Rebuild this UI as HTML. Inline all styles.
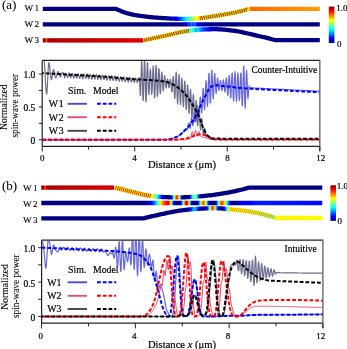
<!DOCTYPE html>
<html><head><meta charset="utf-8"><style>html,body{margin:0;padding:0;background:#fff;}svg{display:block;}</style></head>
<body><svg width="347" height="349" viewBox="0 0 347 349" style="will-change:transform"><style>text{stroke:#000;stroke-width:.2px}</style><defs><linearGradient id="wg1" gradientUnits="userSpaceOnUse" x1="42.8" y1="0" x2="320.5" y2="0"><stop offset="0.0000" stop-color="#000080"/><stop offset="0.3583" stop-color="#000080"/><stop offset="0.3601" stop-color="#000081"/><stop offset="0.4249" stop-color="#000081"/><stop offset="0.4267" stop-color="#000082"/><stop offset="0.4285" stop-color="#000082"/><stop offset="0.4303" stop-color="#000083"/><stop offset="0.4321" stop-color="#000083"/><stop offset="0.4339" stop-color="#000084"/><stop offset="0.4357" stop-color="#000086"/><stop offset="0.4375" stop-color="#000087"/><stop offset="0.4393" stop-color="#000089"/><stop offset="0.4411" stop-color="#00008b"/><stop offset="0.4429" stop-color="#00008d"/><stop offset="0.4447" stop-color="#00008f"/><stop offset="0.4465" stop-color="#000092"/><stop offset="0.4483" stop-color="#000094"/><stop offset="0.4501" stop-color="#000097"/><stop offset="0.4519" stop-color="#00009b"/><stop offset="0.4537" stop-color="#00009e"/><stop offset="0.4555" stop-color="#0000a1"/><stop offset="0.4573" stop-color="#0000a5"/><stop offset="0.4591" stop-color="#0000a9"/><stop offset="0.4609" stop-color="#0000ad"/><stop offset="0.4627" stop-color="#0000b2"/><stop offset="0.4645" stop-color="#0000b7"/><stop offset="0.4663" stop-color="#0000bb"/><stop offset="0.4681" stop-color="#0000c1"/><stop offset="0.4699" stop-color="#0000c6"/><stop offset="0.4717" stop-color="#0000cc"/><stop offset="0.4735" stop-color="#0000d3"/><stop offset="0.4753" stop-color="#0000db"/><stop offset="0.4771" stop-color="#0000e4"/><stop offset="0.4789" stop-color="#0000ed"/><stop offset="0.4807" stop-color="#0000f7"/><stop offset="0.4825" stop-color="#0002ff"/><stop offset="0.4843" stop-color="#000dff"/><stop offset="0.4861" stop-color="#0018ff"/><stop offset="0.4879" stop-color="#0024ff"/><stop offset="0.4897" stop-color="#0030ff"/><stop offset="0.4915" stop-color="#003cff"/><stop offset="0.4933" stop-color="#0048ff"/><stop offset="0.4951" stop-color="#0055ff"/><stop offset="0.4969" stop-color="#0062ff"/><stop offset="0.4987" stop-color="#006eff"/><stop offset="0.5005" stop-color="#007bff"/><stop offset="0.5023" stop-color="#0088ff"/><stop offset="0.5041" stop-color="#0096ff"/><stop offset="0.5059" stop-color="#00a3ff"/><stop offset="0.5077" stop-color="#00b1ff"/><stop offset="0.5095" stop-color="#00beff"/><stop offset="0.5113" stop-color="#00ccff"/><stop offset="0.5131" stop-color="#00d9ff"/><stop offset="0.5149" stop-color="#00e7ff"/><stop offset="0.5167" stop-color="#00f4ff"/><stop offset="0.5185" stop-color="#03fffc"/><stop offset="0.5203" stop-color="#10ffef"/><stop offset="0.5221" stop-color="#1dffe2"/><stop offset="0.5239" stop-color="#29ffd6"/><stop offset="0.5257" stop-color="#36ffc9"/><stop offset="0.5275" stop-color="#42ffbd"/><stop offset="0.5293" stop-color="#4effb1"/><stop offset="0.5311" stop-color="#5bffa4"/><stop offset="0.5329" stop-color="#67ff98"/><stop offset="0.5347" stop-color="#74ff8b"/><stop offset="0.5366" stop-color="#80ff7f"/><stop offset="0.5384" stop-color="#8dff72"/><stop offset="0.5402" stop-color="#99ff66"/><stop offset="0.5420" stop-color="#a7ff58"/><stop offset="0.5438" stop-color="#b4ff4b"/><stop offset="0.5456" stop-color="#c1ff3e"/><stop offset="0.5474" stop-color="#cfff30"/><stop offset="0.5492" stop-color="#dcff23"/><stop offset="0.5510" stop-color="#e9ff16"/><stop offset="0.5528" stop-color="#f5ff0a"/><stop offset="0.5546" stop-color="#fffc00"/><stop offset="0.5564" stop-color="#fff100"/><stop offset="0.5582" stop-color="#ffe600"/><stop offset="0.5600" stop-color="#ffda00"/><stop offset="0.5618" stop-color="#ffcf00"/><stop offset="0.5636" stop-color="#ffc400"/><stop offset="0.5654" stop-color="#ffb900"/><stop offset="0.5672" stop-color="#ffaf00"/><stop offset="0.5690" stop-color="#ffa400"/><stop offset="0.5708" stop-color="#fff000"/><stop offset="0.7436" stop-color="#fff000"/><stop offset="0.7454" stop-color="#ff6800"/><stop offset="0.7472" stop-color="#ff6900"/><stop offset="0.7508" stop-color="#ff6900"/><stop offset="0.7526" stop-color="#ff6a00"/><stop offset="0.7544" stop-color="#ff6a00"/><stop offset="0.7562" stop-color="#ff6b00"/><stop offset="0.7598" stop-color="#ff6b00"/><stop offset="0.7616" stop-color="#ff6c00"/><stop offset="0.7634" stop-color="#ff6c00"/><stop offset="0.7652" stop-color="#ff6d00"/><stop offset="0.7688" stop-color="#ff6d00"/><stop offset="0.7706" stop-color="#ff6e00"/><stop offset="0.7724" stop-color="#ff6e00"/><stop offset="0.7742" stop-color="#ff6f00"/><stop offset="0.7778" stop-color="#ff6f00"/><stop offset="0.7796" stop-color="#ff7000"/><stop offset="0.7832" stop-color="#ff7000"/><stop offset="0.7850" stop-color="#ff7100"/><stop offset="0.7886" stop-color="#ff7100"/><stop offset="0.7904" stop-color="#ff7200"/><stop offset="0.7922" stop-color="#ff7200"/><stop offset="0.7940" stop-color="#ff7300"/><stop offset="0.7976" stop-color="#ff7300"/><stop offset="0.7994" stop-color="#ff7400"/><stop offset="0.8030" stop-color="#ff7400"/><stop offset="0.8048" stop-color="#ff7500"/><stop offset="0.8066" stop-color="#ff7500"/><stop offset="0.8084" stop-color="#ff7600"/><stop offset="0.8120" stop-color="#ff7600"/><stop offset="0.8138" stop-color="#ff7700"/><stop offset="0.8156" stop-color="#ff7700"/><stop offset="0.8174" stop-color="#ff7800"/><stop offset="0.8210" stop-color="#ff7800"/><stop offset="0.8228" stop-color="#ff7900"/><stop offset="0.8246" stop-color="#ff7900"/><stop offset="0.8264" stop-color="#ff7a00"/><stop offset="0.8300" stop-color="#ff7a00"/><stop offset="0.8318" stop-color="#ff7b00"/><stop offset="0.8336" stop-color="#ff7b00"/><stop offset="0.8354" stop-color="#ff7c00"/><stop offset="0.8390" stop-color="#ff7c00"/><stop offset="0.8408" stop-color="#ff7d00"/><stop offset="0.8426" stop-color="#ff7d00"/><stop offset="0.8444" stop-color="#ff7e00"/><stop offset="0.8480" stop-color="#ff7e00"/><stop offset="0.8498" stop-color="#ff7f00"/><stop offset="0.8516" stop-color="#ff7f00"/><stop offset="0.8534" stop-color="#ff8000"/><stop offset="0.8570" stop-color="#ff8000"/><stop offset="0.8588" stop-color="#ff8100"/><stop offset="0.8606" stop-color="#ff8100"/><stop offset="0.8624" stop-color="#ff8200"/><stop offset="0.8660" stop-color="#ff8200"/><stop offset="0.8678" stop-color="#ff8300"/><stop offset="0.8696" stop-color="#ff8300"/><stop offset="0.8714" stop-color="#ff8400"/><stop offset="0.8750" stop-color="#ff8400"/><stop offset="0.8768" stop-color="#ff8500"/><stop offset="0.8786" stop-color="#ff8500"/><stop offset="0.8804" stop-color="#ff8600"/><stop offset="0.8840" stop-color="#ff8600"/><stop offset="0.8858" stop-color="#ff8700"/><stop offset="0.8894" stop-color="#ff8700"/><stop offset="0.8912" stop-color="#ff8800"/><stop offset="0.8931" stop-color="#ff8800"/><stop offset="0.8949" stop-color="#ff8900"/><stop offset="0.8985" stop-color="#ff8900"/><stop offset="0.9003" stop-color="#ff8a00"/><stop offset="0.9021" stop-color="#ff8a00"/><stop offset="0.9039" stop-color="#ff8b00"/><stop offset="0.9075" stop-color="#ff8b00"/><stop offset="0.9093" stop-color="#ff8c00"/><stop offset="0.9129" stop-color="#ff8c00"/><stop offset="0.9147" stop-color="#ff8d00"/><stop offset="0.9165" stop-color="#ff8d00"/><stop offset="0.9183" stop-color="#ff8e00"/><stop offset="0.9219" stop-color="#ff8e00"/><stop offset="0.9237" stop-color="#ff8f00"/><stop offset="0.9273" stop-color="#ff8f00"/><stop offset="0.9291" stop-color="#ff9000"/><stop offset="0.9309" stop-color="#ff9000"/><stop offset="0.9327" stop-color="#ff9100"/><stop offset="0.9363" stop-color="#ff9100"/><stop offset="0.9381" stop-color="#ff9200"/><stop offset="0.9417" stop-color="#ff9200"/><stop offset="0.9435" stop-color="#ff9300"/><stop offset="0.9471" stop-color="#ff9300"/><stop offset="0.9489" stop-color="#ff9400"/><stop offset="0.9507" stop-color="#ff9400"/><stop offset="0.9525" stop-color="#ff9500"/><stop offset="0.9561" stop-color="#ff9500"/><stop offset="0.9579" stop-color="#ff9600"/><stop offset="0.9615" stop-color="#ff9600"/><stop offset="0.9633" stop-color="#ff9700"/><stop offset="0.9669" stop-color="#ff9700"/><stop offset="0.9687" stop-color="#ff9800"/><stop offset="0.9723" stop-color="#ff9800"/><stop offset="0.9741" stop-color="#ff9900"/><stop offset="0.9777" stop-color="#ff9900"/><stop offset="0.9795" stop-color="#ff9a00"/><stop offset="0.9831" stop-color="#ff9a00"/><stop offset="0.9849" stop-color="#ff9b00"/><stop offset="0.9993" stop-color="#ff9b00"/></linearGradient><linearGradient id="wg2" gradientUnits="userSpaceOnUse" x1="42.8" y1="0" x2="320.5" y2="0"><stop offset="0.0000" stop-color="#000080"/><stop offset="0.4231" stop-color="#000080"/><stop offset="0.4249" stop-color="#000081"/><stop offset="0.4807" stop-color="#000081"/><stop offset="0.4825" stop-color="#000082"/><stop offset="0.4879" stop-color="#000082"/><stop offset="0.4897" stop-color="#000083"/><stop offset="0.4915" stop-color="#000084"/><stop offset="0.4933" stop-color="#000085"/><stop offset="0.4951" stop-color="#000086"/><stop offset="0.4969" stop-color="#000087"/><stop offset="0.4987" stop-color="#000089"/><stop offset="0.5005" stop-color="#00008b"/><stop offset="0.5023" stop-color="#00008e"/><stop offset="0.5041" stop-color="#000091"/><stop offset="0.5059" stop-color="#000096"/><stop offset="0.5077" stop-color="#00009b"/><stop offset="0.5095" stop-color="#0000a1"/><stop offset="0.5113" stop-color="#0000a8"/><stop offset="0.5131" stop-color="#0000af"/><stop offset="0.5149" stop-color="#0000b8"/><stop offset="0.5167" stop-color="#0000c2"/><stop offset="0.5185" stop-color="#0000d4"/><stop offset="0.5203" stop-color="#0002ff"/><stop offset="0.5221" stop-color="#0034ff"/><stop offset="0.5239" stop-color="#004fff"/><stop offset="0.5257" stop-color="#0043ff"/><stop offset="0.5275" stop-color="#0023ff"/><stop offset="0.5293" stop-color="#0010ff"/><stop offset="0.5311" stop-color="#0026ff"/><stop offset="0.5329" stop-color="#0058ff"/><stop offset="0.5347" stop-color="#0083ff"/><stop offset="0.5366" stop-color="#0082ff"/><stop offset="0.5384" stop-color="#005dff"/><stop offset="0.5402" stop-color="#0037ff"/><stop offset="0.5420" stop-color="#0032ff"/><stop offset="0.5438" stop-color="#0053ff"/><stop offset="0.5456" stop-color="#0076ff"/><stop offset="0.5474" stop-color="#0079ff"/><stop offset="0.5492" stop-color="#005cff"/><stop offset="0.5510" stop-color="#0037ff"/><stop offset="0.5528" stop-color="#001dff"/><stop offset="0.5546" stop-color="#0011ff"/><stop offset="0.5564" stop-color="#0005ff"/><stop offset="0.5582" stop-color="#0000f9"/><stop offset="0.5600" stop-color="#0000ef"/><stop offset="0.5618" stop-color="#0000e5"/><stop offset="0.5636" stop-color="#0000dc"/><stop offset="0.5654" stop-color="#0000d3"/><stop offset="0.5672" stop-color="#0000cb"/><stop offset="0.5690" stop-color="#0000c3"/><stop offset="0.5708" stop-color="#0000bb"/><stop offset="0.5726" stop-color="#0000b4"/><stop offset="0.5744" stop-color="#0000ad"/><stop offset="0.5762" stop-color="#0000a7"/><stop offset="0.5780" stop-color="#0000a2"/><stop offset="0.5798" stop-color="#00009d"/><stop offset="0.5816" stop-color="#000098"/><stop offset="0.5834" stop-color="#000094"/><stop offset="0.5852" stop-color="#000091"/><stop offset="0.5870" stop-color="#00008e"/><stop offset="0.5888" stop-color="#00008b"/><stop offset="0.5906" stop-color="#000089"/><stop offset="0.5924" stop-color="#000088"/><stop offset="0.5942" stop-color="#000087"/><stop offset="0.5960" stop-color="#000087"/><stop offset="0.5978" stop-color="#000086"/><stop offset="0.6068" stop-color="#000086"/><stop offset="0.6086" stop-color="#000085"/><stop offset="0.6572" stop-color="#000085"/><stop offset="0.6590" stop-color="#000084"/><stop offset="0.7346" stop-color="#000084"/><stop offset="0.7364" stop-color="#000083"/><stop offset="0.9993" stop-color="#000083"/></linearGradient><linearGradient id="wg3" gradientUnits="userSpaceOnUse" x1="42.8" y1="0" x2="320.5" y2="0"><stop offset="0.0000" stop-color="#810000"/><stop offset="0.0018" stop-color="#880000"/><stop offset="0.0036" stop-color="#920000"/><stop offset="0.0054" stop-color="#9f0000"/><stop offset="0.0072" stop-color="#b20000"/><stop offset="0.0090" stop-color="#e30000"/><stop offset="0.0108" stop-color="#ff1f00"/><stop offset="0.0126" stop-color="#ff4800"/><stop offset="0.0144" stop-color="#ff4200"/><stop offset="0.0162" stop-color="#ff1100"/><stop offset="0.0180" stop-color="#d10000"/><stop offset="0.0198" stop-color="#a40000"/><stop offset="0.0216" stop-color="#9c0000"/><stop offset="0.0234" stop-color="#990000"/><stop offset="0.0252" stop-color="#960000"/><stop offset="0.0270" stop-color="#950000"/><stop offset="0.0288" stop-color="#940000"/><stop offset="0.0432" stop-color="#940000"/><stop offset="0.0450" stop-color="#8f0000"/><stop offset="0.0468" stop-color="#8f0000"/><stop offset="0.0486" stop-color="#900000"/><stop offset="0.0504" stop-color="#900000"/><stop offset="0.0522" stop-color="#910000"/><stop offset="0.0558" stop-color="#910000"/><stop offset="0.0576" stop-color="#920000"/><stop offset="0.0594" stop-color="#920000"/><stop offset="0.0612" stop-color="#930000"/><stop offset="0.0630" stop-color="#930000"/><stop offset="0.0648" stop-color="#940000"/><stop offset="0.0684" stop-color="#940000"/><stop offset="0.0702" stop-color="#950000"/><stop offset="0.0720" stop-color="#950000"/><stop offset="0.0738" stop-color="#960000"/><stop offset="0.0774" stop-color="#960000"/><stop offset="0.0792" stop-color="#970000"/><stop offset="0.0810" stop-color="#970000"/><stop offset="0.0828" stop-color="#980000"/><stop offset="0.0864" stop-color="#980000"/><stop offset="0.0882" stop-color="#990000"/><stop offset="0.0900" stop-color="#990000"/><stop offset="0.0918" stop-color="#9a0000"/><stop offset="0.0954" stop-color="#9a0000"/><stop offset="0.0972" stop-color="#9b0000"/><stop offset="0.0990" stop-color="#9b0000"/><stop offset="0.1008" stop-color="#9c0000"/><stop offset="0.1044" stop-color="#9c0000"/><stop offset="0.1062" stop-color="#9d0000"/><stop offset="0.1080" stop-color="#9d0000"/><stop offset="0.1098" stop-color="#9e0000"/><stop offset="0.1134" stop-color="#9e0000"/><stop offset="0.1152" stop-color="#9f0000"/><stop offset="0.1170" stop-color="#9f0000"/><stop offset="0.1188" stop-color="#a00000"/><stop offset="0.1224" stop-color="#a00000"/><stop offset="0.1242" stop-color="#a10000"/><stop offset="0.1260" stop-color="#a10000"/><stop offset="0.1278" stop-color="#a20000"/><stop offset="0.1296" stop-color="#a20000"/><stop offset="0.1314" stop-color="#a30000"/><stop offset="0.1350" stop-color="#a30000"/><stop offset="0.1368" stop-color="#a40000"/><stop offset="0.1386" stop-color="#a40000"/><stop offset="0.1404" stop-color="#a50000"/><stop offset="0.1440" stop-color="#a50000"/><stop offset="0.1458" stop-color="#a60000"/><stop offset="0.1476" stop-color="#a60000"/><stop offset="0.1494" stop-color="#a70000"/><stop offset="0.1530" stop-color="#a70000"/><stop offset="0.1548" stop-color="#a80000"/><stop offset="0.1566" stop-color="#a80000"/><stop offset="0.1584" stop-color="#a90000"/><stop offset="0.1620" stop-color="#a90000"/><stop offset="0.1638" stop-color="#aa0000"/><stop offset="0.1656" stop-color="#aa0000"/><stop offset="0.1674" stop-color="#ab0000"/><stop offset="0.1710" stop-color="#ab0000"/><stop offset="0.1728" stop-color="#ac0000"/><stop offset="0.1746" stop-color="#ac0000"/><stop offset="0.1764" stop-color="#ad0000"/><stop offset="0.1801" stop-color="#ad0000"/><stop offset="0.1819" stop-color="#ae0000"/><stop offset="0.1837" stop-color="#ae0000"/><stop offset="0.1855" stop-color="#af0000"/><stop offset="0.1891" stop-color="#af0000"/><stop offset="0.1909" stop-color="#b00000"/><stop offset="0.1927" stop-color="#b00000"/><stop offset="0.1945" stop-color="#b10000"/><stop offset="0.1963" stop-color="#b10000"/><stop offset="0.1981" stop-color="#b20000"/><stop offset="0.2017" stop-color="#b20000"/><stop offset="0.2035" stop-color="#b30000"/><stop offset="0.2053" stop-color="#b30000"/><stop offset="0.2071" stop-color="#b40000"/><stop offset="0.2107" stop-color="#b40000"/><stop offset="0.2125" stop-color="#b50000"/><stop offset="0.2143" stop-color="#b50000"/><stop offset="0.2161" stop-color="#b60000"/><stop offset="0.2197" stop-color="#b60000"/><stop offset="0.2215" stop-color="#b70000"/><stop offset="0.2233" stop-color="#b70000"/><stop offset="0.2251" stop-color="#b80000"/><stop offset="0.2287" stop-color="#b80000"/><stop offset="0.2305" stop-color="#b90000"/><stop offset="0.2323" stop-color="#b90000"/><stop offset="0.2341" stop-color="#ba0000"/><stop offset="0.2377" stop-color="#ba0000"/><stop offset="0.2395" stop-color="#bb0000"/><stop offset="0.2413" stop-color="#bb0000"/><stop offset="0.2431" stop-color="#bc0000"/><stop offset="0.2467" stop-color="#bc0000"/><stop offset="0.2485" stop-color="#bd0000"/><stop offset="0.2503" stop-color="#bd0000"/><stop offset="0.2521" stop-color="#be0000"/><stop offset="0.2539" stop-color="#be0000"/><stop offset="0.2557" stop-color="#bf0000"/><stop offset="0.2593" stop-color="#bf0000"/><stop offset="0.2611" stop-color="#c00000"/><stop offset="0.2629" stop-color="#c00000"/><stop offset="0.2647" stop-color="#c10000"/><stop offset="0.2683" stop-color="#c10000"/><stop offset="0.2701" stop-color="#c20000"/><stop offset="0.2719" stop-color="#c20000"/><stop offset="0.2737" stop-color="#c30000"/><stop offset="0.2773" stop-color="#c30000"/><stop offset="0.2791" stop-color="#c40000"/><stop offset="0.2809" stop-color="#c40000"/><stop offset="0.2827" stop-color="#c50000"/><stop offset="0.2863" stop-color="#c50000"/><stop offset="0.2881" stop-color="#c60000"/><stop offset="0.2899" stop-color="#c60000"/><stop offset="0.2917" stop-color="#c70000"/><stop offset="0.2953" stop-color="#c70000"/><stop offset="0.2971" stop-color="#c80000"/><stop offset="0.2989" stop-color="#c80000"/><stop offset="0.3007" stop-color="#c90000"/><stop offset="0.3043" stop-color="#c90000"/><stop offset="0.3061" stop-color="#ca0000"/><stop offset="0.3079" stop-color="#ca0000"/><stop offset="0.3097" stop-color="#cb0000"/><stop offset="0.3133" stop-color="#cb0000"/><stop offset="0.3151" stop-color="#cc0000"/><stop offset="0.3169" stop-color="#cc0000"/><stop offset="0.3187" stop-color="#cd0000"/><stop offset="0.3205" stop-color="#cd0000"/><stop offset="0.3223" stop-color="#ce0000"/><stop offset="0.3259" stop-color="#ce0000"/><stop offset="0.3277" stop-color="#cf0000"/><stop offset="0.3295" stop-color="#cf0000"/><stop offset="0.3313" stop-color="#d00000"/><stop offset="0.3349" stop-color="#d00000"/><stop offset="0.3367" stop-color="#d10000"/><stop offset="0.3385" stop-color="#d10000"/><stop offset="0.3403" stop-color="#d20000"/><stop offset="0.3439" stop-color="#d20000"/><stop offset="0.3457" stop-color="#d30000"/><stop offset="0.3475" stop-color="#d30000"/><stop offset="0.3493" stop-color="#d40000"/><stop offset="0.3529" stop-color="#d40000"/><stop offset="0.3547" stop-color="#d50000"/><stop offset="0.3565" stop-color="#d50000"/><stop offset="0.3583" stop-color="#d60000"/><stop offset="0.3601" stop-color="#d60000"/><stop offset="0.3619" stop-color="#fff000"/><stop offset="0.5059" stop-color="#fff000"/><stop offset="0.5077" stop-color="#fffa00"/><stop offset="0.5095" stop-color="#faff05"/><stop offset="0.5113" stop-color="#efff10"/><stop offset="0.5131" stop-color="#e3ff1c"/><stop offset="0.5149" stop-color="#d8ff27"/><stop offset="0.5167" stop-color="#ccff33"/><stop offset="0.5185" stop-color="#c0ff3f"/><stop offset="0.5203" stop-color="#b4ff4b"/><stop offset="0.5221" stop-color="#a7ff58"/><stop offset="0.5239" stop-color="#9aff65"/><stop offset="0.5257" stop-color="#8dff72"/><stop offset="0.5275" stop-color="#80ff7f"/><stop offset="0.5293" stop-color="#73ff8c"/><stop offset="0.5311" stop-color="#65ff9a"/><stop offset="0.5329" stop-color="#58ffa7"/><stop offset="0.5347" stop-color="#4affb5"/><stop offset="0.5366" stop-color="#3cffc3"/><stop offset="0.5384" stop-color="#2effd1"/><stop offset="0.5402" stop-color="#1fffe0"/><stop offset="0.5420" stop-color="#10ffef"/><stop offset="0.5438" stop-color="#00ffff"/><stop offset="0.5456" stop-color="#00efff"/><stop offset="0.5474" stop-color="#00deff"/><stop offset="0.5492" stop-color="#00cdff"/><stop offset="0.5510" stop-color="#00bbff"/><stop offset="0.5528" stop-color="#00a8ff"/><stop offset="0.5546" stop-color="#0092ff"/><stop offset="0.5564" stop-color="#00edff"/><stop offset="0.5582" stop-color="#00daff"/><stop offset="0.5600" stop-color="#00c7ff"/><stop offset="0.5618" stop-color="#00b7ff"/><stop offset="0.5636" stop-color="#00a9ff"/><stop offset="0.5654" stop-color="#009aff"/><stop offset="0.5672" stop-color="#008cff"/><stop offset="0.5690" stop-color="#007fff"/><stop offset="0.5708" stop-color="#0072ff"/><stop offset="0.5726" stop-color="#0065ff"/><stop offset="0.5744" stop-color="#005aff"/><stop offset="0.5762" stop-color="#0051ff"/><stop offset="0.5780" stop-color="#0048ff"/><stop offset="0.5798" stop-color="#0040ff"/><stop offset="0.5816" stop-color="#0037ff"/><stop offset="0.5834" stop-color="#002fff"/><stop offset="0.5852" stop-color="#0026ff"/><stop offset="0.5870" stop-color="#001dff"/><stop offset="0.5888" stop-color="#0016ff"/><stop offset="0.5906" stop-color="#000eff"/><stop offset="0.5924" stop-color="#0008ff"/><stop offset="0.5942" stop-color="#0002ff"/><stop offset="0.5960" stop-color="#0000fd"/><stop offset="0.5978" stop-color="#0000f8"/><stop offset="0.5996" stop-color="#0000f3"/><stop offset="0.6014" stop-color="#0000ee"/><stop offset="0.6032" stop-color="#0000e9"/><stop offset="0.6050" stop-color="#0000e3"/><stop offset="0.6068" stop-color="#0000de"/><stop offset="0.6086" stop-color="#0000d9"/><stop offset="0.6104" stop-color="#0000d3"/><stop offset="0.6122" stop-color="#0000ce"/><stop offset="0.6140" stop-color="#0000c9"/><stop offset="0.6158" stop-color="#0000c4"/><stop offset="0.6176" stop-color="#0000bf"/><stop offset="0.6194" stop-color="#0000ba"/><stop offset="0.6212" stop-color="#0000b6"/><stop offset="0.6230" stop-color="#0000b2"/><stop offset="0.6248" stop-color="#0000ae"/><stop offset="0.6266" stop-color="#0000aa"/><stop offset="0.6284" stop-color="#0000a6"/><stop offset="0.6302" stop-color="#0000a3"/><stop offset="0.6320" stop-color="#00009f"/><stop offset="0.6338" stop-color="#00009c"/><stop offset="0.6356" stop-color="#00009a"/><stop offset="0.6374" stop-color="#000097"/><stop offset="0.6392" stop-color="#000095"/><stop offset="0.6410" stop-color="#000093"/><stop offset="0.6428" stop-color="#000091"/><stop offset="0.6446" stop-color="#00008f"/><stop offset="0.6464" stop-color="#00008d"/><stop offset="0.6482" stop-color="#00008c"/><stop offset="0.6500" stop-color="#00008b"/><stop offset="0.6518" stop-color="#00008a"/><stop offset="0.6536" stop-color="#000089"/><stop offset="0.6554" stop-color="#000088"/><stop offset="0.6572" stop-color="#000087"/><stop offset="0.6590" stop-color="#000086"/><stop offset="0.6608" stop-color="#000086"/><stop offset="0.6626" stop-color="#000085"/><stop offset="0.6662" stop-color="#000085"/><stop offset="0.6680" stop-color="#000084"/><stop offset="0.6734" stop-color="#000084"/><stop offset="0.6752" stop-color="#000083"/><stop offset="0.9993" stop-color="#000083"/></linearGradient><linearGradient id="cb4" x1="0" y1="0" x2="0" y2="1"><stop offset="0.000" stop-color="#800000"/><stop offset="0.062" stop-color="#bf0000"/><stop offset="0.125" stop-color="#ff0000"/><stop offset="0.188" stop-color="#ff4000"/><stop offset="0.250" stop-color="#ff8000"/><stop offset="0.312" stop-color="#ffbf00"/><stop offset="0.375" stop-color="#ffff00"/><stop offset="0.438" stop-color="#bfff40"/><stop offset="0.500" stop-color="#80ff80"/><stop offset="0.562" stop-color="#40ffbf"/><stop offset="0.625" stop-color="#00ffff"/><stop offset="0.688" stop-color="#00bfff"/><stop offset="0.750" stop-color="#0080ff"/><stop offset="0.812" stop-color="#0040ff"/><stop offset="0.875" stop-color="#0000ff"/><stop offset="0.938" stop-color="#0000bf"/><stop offset="1.000" stop-color="#000080"/></linearGradient><linearGradient id="wg5" gradientUnits="userSpaceOnUse" x1="41.3" y1="0" x2="322.5" y2="0"><stop offset="0.0000" stop-color="#800000"/><stop offset="0.0018" stop-color="#820000"/><stop offset="0.0036" stop-color="#890000"/><stop offset="0.0053" stop-color="#940000"/><stop offset="0.0071" stop-color="#a20000"/><stop offset="0.0089" stop-color="#bc0000"/><stop offset="0.0107" stop-color="#fa0000"/><stop offset="0.0124" stop-color="#ff3800"/><stop offset="0.0142" stop-color="#ff4b00"/><stop offset="0.0160" stop-color="#ff2000"/><stop offset="0.0178" stop-color="#da0000"/><stop offset="0.0196" stop-color="#a50000"/><stop offset="0.0213" stop-color="#9c0000"/><stop offset="0.0231" stop-color="#990000"/><stop offset="0.0249" stop-color="#970000"/><stop offset="0.0267" stop-color="#950000"/><stop offset="0.0284" stop-color="#940000"/><stop offset="0.0302" stop-color="#940000"/><stop offset="0.0320" stop-color="#8f0000"/><stop offset="0.0498" stop-color="#8f0000"/><stop offset="0.0516" stop-color="#900000"/><stop offset="0.0533" stop-color="#900000"/><stop offset="0.0551" stop-color="#910000"/><stop offset="0.0569" stop-color="#910000"/><stop offset="0.0587" stop-color="#920000"/><stop offset="0.0605" stop-color="#920000"/><stop offset="0.0622" stop-color="#930000"/><stop offset="0.0640" stop-color="#930000"/><stop offset="0.0658" stop-color="#940000"/><stop offset="0.0676" stop-color="#940000"/><stop offset="0.0693" stop-color="#950000"/><stop offset="0.0711" stop-color="#950000"/><stop offset="0.0729" stop-color="#960000"/><stop offset="0.0747" stop-color="#960000"/><stop offset="0.0765" stop-color="#970000"/><stop offset="0.0782" stop-color="#970000"/><stop offset="0.0800" stop-color="#980000"/><stop offset="0.0818" stop-color="#980000"/><stop offset="0.0836" stop-color="#990000"/><stop offset="0.0853" stop-color="#990000"/><stop offset="0.0871" stop-color="#9a0000"/><stop offset="0.0889" stop-color="#9b0000"/><stop offset="0.0907" stop-color="#9b0000"/><stop offset="0.0925" stop-color="#9c0000"/><stop offset="0.0942" stop-color="#9c0000"/><stop offset="0.0960" stop-color="#9d0000"/><stop offset="0.0978" stop-color="#9d0000"/><stop offset="0.0996" stop-color="#9e0000"/><stop offset="0.1014" stop-color="#9e0000"/><stop offset="0.1031" stop-color="#9f0000"/><stop offset="0.1049" stop-color="#9f0000"/><stop offset="0.1067" stop-color="#a00000"/><stop offset="0.1085" stop-color="#a00000"/><stop offset="0.1102" stop-color="#a10000"/><stop offset="0.1120" stop-color="#a10000"/><stop offset="0.1138" stop-color="#a20000"/><stop offset="0.1156" stop-color="#a20000"/><stop offset="0.1174" stop-color="#a30000"/><stop offset="0.1191" stop-color="#a30000"/><stop offset="0.1209" stop-color="#a40000"/><stop offset="0.1227" stop-color="#a40000"/><stop offset="0.1245" stop-color="#a50000"/><stop offset="0.1262" stop-color="#a50000"/><stop offset="0.1280" stop-color="#a60000"/><stop offset="0.1298" stop-color="#a60000"/><stop offset="0.1316" stop-color="#a70000"/><stop offset="0.1334" stop-color="#a70000"/><stop offset="0.1351" stop-color="#a80000"/><stop offset="0.1369" stop-color="#a90000"/><stop offset="0.1387" stop-color="#a90000"/><stop offset="0.1405" stop-color="#aa0000"/><stop offset="0.1422" stop-color="#aa0000"/><stop offset="0.1440" stop-color="#ab0000"/><stop offset="0.1458" stop-color="#ab0000"/><stop offset="0.1476" stop-color="#ac0000"/><stop offset="0.1494" stop-color="#ac0000"/><stop offset="0.1511" stop-color="#ad0000"/><stop offset="0.1529" stop-color="#ad0000"/><stop offset="0.1547" stop-color="#ae0000"/><stop offset="0.1565" stop-color="#ae0000"/><stop offset="0.1583" stop-color="#af0000"/><stop offset="0.1600" stop-color="#af0000"/><stop offset="0.1618" stop-color="#b00000"/><stop offset="0.1636" stop-color="#b00000"/><stop offset="0.1654" stop-color="#b10000"/><stop offset="0.1671" stop-color="#b10000"/><stop offset="0.1689" stop-color="#b20000"/><stop offset="0.1707" stop-color="#b20000"/><stop offset="0.1725" stop-color="#b30000"/><stop offset="0.1743" stop-color="#b30000"/><stop offset="0.1760" stop-color="#b40000"/><stop offset="0.1778" stop-color="#b40000"/><stop offset="0.1796" stop-color="#b50000"/><stop offset="0.1814" stop-color="#b50000"/><stop offset="0.1831" stop-color="#b60000"/><stop offset="0.1849" stop-color="#b70000"/><stop offset="0.1867" stop-color="#b70000"/><stop offset="0.1885" stop-color="#b80000"/><stop offset="0.1903" stop-color="#b80000"/><stop offset="0.1920" stop-color="#b90000"/><stop offset="0.1938" stop-color="#b90000"/><stop offset="0.1956" stop-color="#ba0000"/><stop offset="0.1974" stop-color="#ba0000"/><stop offset="0.1991" stop-color="#bb0000"/><stop offset="0.2009" stop-color="#bb0000"/><stop offset="0.2027" stop-color="#bc0000"/><stop offset="0.2045" stop-color="#bc0000"/><stop offset="0.2063" stop-color="#bd0000"/><stop offset="0.2080" stop-color="#bd0000"/><stop offset="0.2098" stop-color="#be0000"/><stop offset="0.2116" stop-color="#be0000"/><stop offset="0.2134" stop-color="#bf0000"/><stop offset="0.2151" stop-color="#bf0000"/><stop offset="0.2169" stop-color="#c00000"/><stop offset="0.2187" stop-color="#c00000"/><stop offset="0.2205" stop-color="#c10000"/><stop offset="0.2223" stop-color="#c10000"/><stop offset="0.2240" stop-color="#c20000"/><stop offset="0.2258" stop-color="#c20000"/><stop offset="0.2276" stop-color="#c30000"/><stop offset="0.2294" stop-color="#c30000"/><stop offset="0.2312" stop-color="#c40000"/><stop offset="0.2329" stop-color="#c50000"/><stop offset="0.2347" stop-color="#c50000"/><stop offset="0.2365" stop-color="#c60000"/><stop offset="0.2383" stop-color="#c60000"/><stop offset="0.2400" stop-color="#c70000"/><stop offset="0.2418" stop-color="#c70000"/><stop offset="0.2436" stop-color="#c80000"/><stop offset="0.2454" stop-color="#c80000"/><stop offset="0.2472" stop-color="#c90000"/><stop offset="0.2489" stop-color="#c90000"/><stop offset="0.2507" stop-color="#ca0000"/><stop offset="0.2525" stop-color="#ca0000"/><stop offset="0.2543" stop-color="#cb0000"/><stop offset="0.2560" stop-color="#cb0000"/><stop offset="0.2578" stop-color="#cc0000"/><stop offset="0.2596" stop-color="#fff000"/><stop offset="0.3930" stop-color="#fff000"/><stop offset="0.3947" stop-color="#efff10"/><stop offset="0.3965" stop-color="#daff25"/><stop offset="0.3983" stop-color="#c4ff3b"/><stop offset="0.4001" stop-color="#adff52"/><stop offset="0.4018" stop-color="#96ff69"/><stop offset="0.4036" stop-color="#7eff81"/><stop offset="0.4054" stop-color="#67ff98"/><stop offset="0.4072" stop-color="#4fffb0"/><stop offset="0.4090" stop-color="#36ffc9"/><stop offset="0.4107" stop-color="#1cffe3"/><stop offset="0.4125" stop-color="#02fffd"/><stop offset="0.4143" stop-color="#00e6ff"/><stop offset="0.4161" stop-color="#00cbff"/><stop offset="0.4179" stop-color="#00afff"/><stop offset="0.4196" stop-color="#0092ff"/><stop offset="0.4214" stop-color="#0076ff"/><stop offset="0.4232" stop-color="#005bff"/><stop offset="0.4250" stop-color="#003fff"/><stop offset="0.4267" stop-color="#0024ff"/><stop offset="0.4285" stop-color="#0009ff"/><stop offset="0.4303" stop-color="#0000ef"/><stop offset="0.4321" stop-color="#0000d9"/><stop offset="0.4339" stop-color="#0000c6"/><stop offset="0.4356" stop-color="#0000b4"/><stop offset="0.4374" stop-color="#0000a4"/><stop offset="0.4392" stop-color="#000095"/><stop offset="0.4410" stop-color="#000087"/><stop offset="0.4427" stop-color="#000080"/><stop offset="0.4570" stop-color="#000080"/><stop offset="0.4587" stop-color="#000081"/><stop offset="0.4605" stop-color="#0000a1"/><stop offset="0.4623" stop-color="#0000ce"/><stop offset="0.4641" stop-color="#0009ff"/><stop offset="0.4659" stop-color="#0050ff"/><stop offset="0.4676" stop-color="#00a2ff"/><stop offset="0.4694" stop-color="#00fbff"/><stop offset="0.4712" stop-color="#5affa5"/><stop offset="0.4730" stop-color="#b7ff48"/><stop offset="0.4748" stop-color="#ffef00"/><stop offset="0.4765" stop-color="#ffa300"/><stop offset="0.4783" stop-color="#ff6500"/><stop offset="0.4801" stop-color="#ff3b00"/><stop offset="0.4819" stop-color="#ff2600"/><stop offset="0.4836" stop-color="#ff2a00"/><stop offset="0.4854" stop-color="#ff4e00"/><stop offset="0.4872" stop-color="#ff8e00"/><stop offset="0.4890" stop-color="#ffe500"/><stop offset="0.4908" stop-color="#b1ff4e"/><stop offset="0.4925" stop-color="#43ffbc"/><stop offset="0.4943" stop-color="#00d3ff"/><stop offset="0.4961" stop-color="#006eff"/><stop offset="0.4979" stop-color="#0016ff"/><stop offset="0.4996" stop-color="#0000ce"/><stop offset="0.5014" stop-color="#00009a"/><stop offset="0.5032" stop-color="#000080"/><stop offset="0.5210" stop-color="#000080"/><stop offset="0.5228" stop-color="#000081"/><stop offset="0.5245" stop-color="#00009b"/><stop offset="0.5263" stop-color="#0000bd"/><stop offset="0.5281" stop-color="#0000e6"/><stop offset="0.5299" stop-color="#0017ff"/><stop offset="0.5317" stop-color="#004cff"/><stop offset="0.5334" stop-color="#0084ff"/><stop offset="0.5352" stop-color="#00bcff"/><stop offset="0.5370" stop-color="#00f2ff"/><stop offset="0.5388" stop-color="#23ffdc"/><stop offset="0.5405" stop-color="#4bffb4"/><stop offset="0.5423" stop-color="#69ff96"/><stop offset="0.5441" stop-color="#7bff84"/><stop offset="0.5459" stop-color="#7fff80"/><stop offset="0.5477" stop-color="#74ff8b"/><stop offset="0.5494" stop-color="#5cffa3"/><stop offset="0.5512" stop-color="#37ffc8"/><stop offset="0.5530" stop-color="#08fff7"/><stop offset="0.5548" stop-color="#00d1ff"/><stop offset="0.5565" stop-color="#0097ff"/><stop offset="0.5583" stop-color="#005cff"/><stop offset="0.5601" stop-color="#0024ff"/><stop offset="0.5619" stop-color="#0000ef"/><stop offset="0.5637" stop-color="#0000c3"/><stop offset="0.5654" stop-color="#00009f"/><stop offset="0.5672" stop-color="#000083"/><stop offset="0.5690" stop-color="#000080"/><stop offset="0.9993" stop-color="#000080"/></linearGradient><linearGradient id="wg6" gradientUnits="userSpaceOnUse" x1="41.3" y1="0" x2="322.5" y2="0"><stop offset="0.0000" stop-color="#000080"/><stop offset="0.3538" stop-color="#000080"/><stop offset="0.3556" stop-color="#000081"/><stop offset="0.3574" stop-color="#000082"/><stop offset="0.3592" stop-color="#000084"/><stop offset="0.3610" stop-color="#000085"/><stop offset="0.3627" stop-color="#000087"/><stop offset="0.3645" stop-color="#00008a"/><stop offset="0.3663" stop-color="#00008c"/><stop offset="0.3681" stop-color="#00008f"/><stop offset="0.3698" stop-color="#000092"/><stop offset="0.3716" stop-color="#000096"/><stop offset="0.3734" stop-color="#00009b"/><stop offset="0.3752" stop-color="#0000a1"/><stop offset="0.3770" stop-color="#0000a9"/><stop offset="0.3787" stop-color="#0000b1"/><stop offset="0.3805" stop-color="#0000ba"/><stop offset="0.3823" stop-color="#0000c3"/><stop offset="0.3841" stop-color="#0000cd"/><stop offset="0.3858" stop-color="#0000d7"/><stop offset="0.3876" stop-color="#0000e2"/><stop offset="0.3894" stop-color="#0000ee"/><stop offset="0.3912" stop-color="#0000fc"/><stop offset="0.3930" stop-color="#000cff"/><stop offset="0.3947" stop-color="#001cff"/><stop offset="0.3965" stop-color="#002eff"/><stop offset="0.3983" stop-color="#0041ff"/><stop offset="0.4001" stop-color="#0055ff"/><stop offset="0.4018" stop-color="#006aff"/><stop offset="0.4036" stop-color="#0081ff"/><stop offset="0.4054" stop-color="#0099ff"/><stop offset="0.4072" stop-color="#00b5ff"/><stop offset="0.4090" stop-color="#00d6ff"/><stop offset="0.4107" stop-color="#00f8ff"/><stop offset="0.4125" stop-color="#1dffe2"/><stop offset="0.4143" stop-color="#3fffc0"/><stop offset="0.4161" stop-color="#60ff9f"/><stop offset="0.4179" stop-color="#82ff7d"/><stop offset="0.4196" stop-color="#a3ff5c"/><stop offset="0.4214" stop-color="#c4ff3b"/><stop offset="0.4232" stop-color="#e5ff1a"/><stop offset="0.4250" stop-color="#fff800"/><stop offset="0.4267" stop-color="#ffd700"/><stop offset="0.4285" stop-color="#ffb600"/><stop offset="0.4303" stop-color="#ff9900"/><stop offset="0.4321" stop-color="#ff7e00"/><stop offset="0.4339" stop-color="#ff6800"/><stop offset="0.4356" stop-color="#ff5300"/><stop offset="0.4374" stop-color="#ff3f00"/><stop offset="0.4392" stop-color="#ff2d00"/><stop offset="0.4410" stop-color="#ff1e00"/><stop offset="0.4427" stop-color="#ff1300"/><stop offset="0.4445" stop-color="#ff0b00"/><stop offset="0.4463" stop-color="#ff0500"/><stop offset="0.4481" stop-color="#fe0000"/><stop offset="0.4499" stop-color="#fb0000"/><stop offset="0.4516" stop-color="#fb0000"/><stop offset="0.4534" stop-color="#ff0d00"/><stop offset="0.4552" stop-color="#ff3500"/><stop offset="0.4570" stop-color="#ff7100"/><stop offset="0.4587" stop-color="#ffbe00"/><stop offset="0.4605" stop-color="#e8ff17"/><stop offset="0.4623" stop-color="#89ff76"/><stop offset="0.4641" stop-color="#29ffd6"/><stop offset="0.4659" stop-color="#00cdff"/><stop offset="0.4676" stop-color="#0079ff"/><stop offset="0.4694" stop-color="#0031ff"/><stop offset="0.4712" stop-color="#0000f5"/><stop offset="0.4730" stop-color="#0000c8"/><stop offset="0.4748" stop-color="#0000a8"/><stop offset="0.4765" stop-color="#000093"/><stop offset="0.4783" stop-color="#000087"/><stop offset="0.4801" stop-color="#000082"/><stop offset="0.4819" stop-color="#000080"/><stop offset="0.4872" stop-color="#000080"/><stop offset="0.4890" stop-color="#000083"/><stop offset="0.4908" stop-color="#00008b"/><stop offset="0.4925" stop-color="#00009a"/><stop offset="0.4943" stop-color="#0000b5"/><stop offset="0.4961" stop-color="#0000de"/><stop offset="0.4979" stop-color="#0017ff"/><stop offset="0.4996" stop-color="#005eff"/><stop offset="0.5014" stop-color="#00b4ff"/><stop offset="0.5032" stop-color="#15ffea"/><stop offset="0.5050" stop-color="#7dff82"/><stop offset="0.5068" stop-color="#e5ff1a"/><stop offset="0.5085" stop-color="#ffb500"/><stop offset="0.5103" stop-color="#ff5c00"/><stop offset="0.5121" stop-color="#ff1500"/><stop offset="0.5139" stop-color="#e20000"/><stop offset="0.5156" stop-color="#ca0000"/><stop offset="0.5174" stop-color="#ce0000"/><stop offset="0.5192" stop-color="#f20000"/><stop offset="0.5210" stop-color="#ff3500"/><stop offset="0.5228" stop-color="#ff9000"/><stop offset="0.5245" stop-color="#fffb00"/><stop offset="0.5263" stop-color="#8fff70"/><stop offset="0.5281" stop-color="#1cffe3"/><stop offset="0.5299" stop-color="#00afff"/><stop offset="0.5317" stop-color="#0052ff"/><stop offset="0.5334" stop-color="#0006ff"/><stop offset="0.5352" stop-color="#0000cd"/><stop offset="0.5370" stop-color="#0000a7"/><stop offset="0.5388" stop-color="#000090"/><stop offset="0.5405" stop-color="#000084"/><stop offset="0.5423" stop-color="#000080"/><stop offset="0.5477" stop-color="#000080"/><stop offset="0.5494" stop-color="#000082"/><stop offset="0.5512" stop-color="#000088"/><stop offset="0.5530" stop-color="#000096"/><stop offset="0.5548" stop-color="#0000ad"/><stop offset="0.5565" stop-color="#0000d1"/><stop offset="0.5583" stop-color="#0004ff"/><stop offset="0.5601" stop-color="#0043ff"/><stop offset="0.5619" stop-color="#008fff"/><stop offset="0.5637" stop-color="#00e5ff"/><stop offset="0.5654" stop-color="#41ffbe"/><stop offset="0.5672" stop-color="#9dff62"/><stop offset="0.5690" stop-color="#f3ff0c"/><stop offset="0.5708" stop-color="#ffc100"/><stop offset="0.5725" stop-color="#ff8800"/><stop offset="0.5743" stop-color="#ff6300"/><stop offset="0.5761" stop-color="#ff5700"/><stop offset="0.5779" stop-color="#ff6200"/><stop offset="0.5797" stop-color="#ff8100"/><stop offset="0.5814" stop-color="#ffb400"/><stop offset="0.5832" stop-color="#fff700"/><stop offset="0.5850" stop-color="#baff45"/><stop offset="0.5868" stop-color="#65ff9a"/><stop offset="0.5885" stop-color="#0ffff0"/><stop offset="0.5903" stop-color="#00bbff"/><stop offset="0.5921" stop-color="#006eff"/><stop offset="0.5939" stop-color="#002bff"/><stop offset="0.5957" stop-color="#0000f2"/><stop offset="0.5974" stop-color="#0000c7"/><stop offset="0.5992" stop-color="#0000a8"/><stop offset="0.6010" stop-color="#000094"/><stop offset="0.6028" stop-color="#000088"/><stop offset="0.6046" stop-color="#000082"/><stop offset="0.6063" stop-color="#000080"/><stop offset="0.6117" stop-color="#000080"/><stop offset="0.6134" stop-color="#000082"/><stop offset="0.6152" stop-color="#000088"/><stop offset="0.6170" stop-color="#000094"/><stop offset="0.6188" stop-color="#0000ab"/><stop offset="0.6206" stop-color="#0000cd"/><stop offset="0.6223" stop-color="#0000fc"/><stop offset="0.6241" stop-color="#003bff"/><stop offset="0.6259" stop-color="#0085ff"/><stop offset="0.6277" stop-color="#00d9ff"/><stop offset="0.6294" stop-color="#35ffca"/><stop offset="0.6312" stop-color="#91ff6e"/><stop offset="0.6330" stop-color="#e9ff16"/><stop offset="0.6348" stop-color="#ffc600"/><stop offset="0.6366" stop-color="#ff8700"/><stop offset="0.6383" stop-color="#ff5b00"/><stop offset="0.6401" stop-color="#ff4500"/><stop offset="0.6419" stop-color="#ff4400"/><stop offset="0.6437" stop-color="#ff4e00"/><stop offset="0.6454" stop-color="#ff6100"/><stop offset="0.6472" stop-color="#ff7c00"/><stop offset="0.6490" stop-color="#ff9f00"/><stop offset="0.6508" stop-color="#ffc900"/><stop offset="0.6526" stop-color="#fff800"/><stop offset="0.6543" stop-color="#d3ff2c"/><stop offset="0.6561" stop-color="#9cff63"/><stop offset="0.6579" stop-color="#64ff9b"/><stop offset="0.6597" stop-color="#2bffd4"/><stop offset="0.6615" stop-color="#00f2ff"/><stop offset="0.6632" stop-color="#00bcff"/><stop offset="0.6650" stop-color="#0089ff"/><stop offset="0.6668" stop-color="#0059ff"/><stop offset="0.6686" stop-color="#002fff"/><stop offset="0.6703" stop-color="#0009ff"/><stop offset="0.6721" stop-color="#0000e7"/><stop offset="0.6739" stop-color="#0000cc"/><stop offset="0.6757" stop-color="#0000b5"/><stop offset="0.6775" stop-color="#0000a4"/><stop offset="0.6792" stop-color="#000097"/><stop offset="0.6810" stop-color="#00008d"/><stop offset="0.6828" stop-color="#000087"/><stop offset="0.6846" stop-color="#000083"/><stop offset="0.6863" stop-color="#000081"/><stop offset="0.6881" stop-color="#000080"/><stop offset="0.6917" stop-color="#000080"/><stop offset="0.6935" stop-color="#000086"/><stop offset="0.6952" stop-color="#000090"/><stop offset="0.6970" stop-color="#00009a"/><stop offset="0.6988" stop-color="#0000a4"/><stop offset="0.7006" stop-color="#0000ae"/><stop offset="0.7023" stop-color="#0000b9"/><stop offset="0.7041" stop-color="#0000c3"/><stop offset="0.7059" stop-color="#0000cd"/><stop offset="0.7077" stop-color="#0000d7"/><stop offset="0.7095" stop-color="#0000e1"/><stop offset="0.7112" stop-color="#0000ec"/><stop offset="0.7130" stop-color="#0000f6"/><stop offset="0.7148" stop-color="#0000fa"/><stop offset="0.7415" stop-color="#0000fa"/><stop offset="0.7432" stop-color="#0000fc"/><stop offset="0.7450" stop-color="#0000ff"/><stop offset="0.7468" stop-color="#0003ff"/><stop offset="0.7486" stop-color="#0006ff"/><stop offset="0.7504" stop-color="#0009ff"/><stop offset="0.7521" stop-color="#000cff"/><stop offset="0.7539" stop-color="#000fff"/><stop offset="0.7557" stop-color="#0012ff"/><stop offset="0.7575" stop-color="#0015ff"/><stop offset="0.7592" stop-color="#0018ff"/><stop offset="0.7610" stop-color="#0019ff"/><stop offset="0.7806" stop-color="#0019ff"/><stop offset="0.7824" stop-color="#0018ff"/><stop offset="0.8001" stop-color="#0018ff"/><stop offset="0.8019" stop-color="#0017ff"/><stop offset="0.8215" stop-color="#0017ff"/><stop offset="0.8233" stop-color="#0016ff"/><stop offset="0.8428" stop-color="#0016ff"/><stop offset="0.8446" stop-color="#0015ff"/><stop offset="0.8642" stop-color="#0015ff"/><stop offset="0.8659" stop-color="#0014ff"/><stop offset="0.8730" stop-color="#0014ff"/><stop offset="0.8748" stop-color="#0013ff"/><stop offset="0.8819" stop-color="#0013ff"/><stop offset="0.8837" stop-color="#0012ff"/><stop offset="0.8908" stop-color="#0012ff"/><stop offset="0.8926" stop-color="#0011ff"/><stop offset="0.8997" stop-color="#0011ff"/><stop offset="0.9015" stop-color="#0010ff"/><stop offset="0.9086" stop-color="#0010ff"/><stop offset="0.9104" stop-color="#000fff"/><stop offset="0.9175" stop-color="#000fff"/><stop offset="0.9193" stop-color="#000eff"/><stop offset="0.9264" stop-color="#000eff"/><stop offset="0.9282" stop-color="#000dff"/><stop offset="0.9353" stop-color="#000dff"/><stop offset="0.9371" stop-color="#000cff"/><stop offset="0.9442" stop-color="#000cff"/><stop offset="0.9459" stop-color="#000bff"/><stop offset="0.9531" stop-color="#000bff"/><stop offset="0.9548" stop-color="#000aff"/><stop offset="0.9619" stop-color="#000aff"/><stop offset="0.9637" stop-color="#0009ff"/><stop offset="0.9708" stop-color="#0009ff"/><stop offset="0.9726" stop-color="#0008ff"/><stop offset="0.9797" stop-color="#0008ff"/><stop offset="0.9815" stop-color="#0007ff"/><stop offset="0.9886" stop-color="#0007ff"/><stop offset="0.9904" stop-color="#0006ff"/><stop offset="0.9975" stop-color="#0006ff"/><stop offset="0.9993" stop-color="#0005ff"/></linearGradient><linearGradient id="wg7" gradientUnits="userSpaceOnUse" x1="41.3" y1="0" x2="322.5" y2="0"><stop offset="0.0000" stop-color="#000080"/><stop offset="0.4836" stop-color="#000080"/><stop offset="0.4854" stop-color="#000082"/><stop offset="0.4872" stop-color="#000086"/><stop offset="0.4890" stop-color="#00008b"/><stop offset="0.4908" stop-color="#000091"/><stop offset="0.4925" stop-color="#000097"/><stop offset="0.4943" stop-color="#00009b"/><stop offset="0.4961" stop-color="#00009e"/><stop offset="0.4979" stop-color="#00009e"/><stop offset="0.4996" stop-color="#00009b"/><stop offset="0.5014" stop-color="#000097"/><stop offset="0.5032" stop-color="#000093"/><stop offset="0.5050" stop-color="#00008f"/><stop offset="0.5068" stop-color="#00008c"/><stop offset="0.5085" stop-color="#00008a"/><stop offset="0.5156" stop-color="#00008a"/><stop offset="0.5174" stop-color="#00008b"/><stop offset="0.5192" stop-color="#00008d"/><stop offset="0.5210" stop-color="#000092"/><stop offset="0.5228" stop-color="#00009b"/><stop offset="0.5245" stop-color="#0000a8"/><stop offset="0.5263" stop-color="#0000ba"/><stop offset="0.5281" stop-color="#0000d1"/><stop offset="0.5299" stop-color="#0000ed"/><stop offset="0.5317" stop-color="#000dff"/><stop offset="0.5334" stop-color="#002eff"/><stop offset="0.5352" stop-color="#0050ff"/><stop offset="0.5370" stop-color="#0070ff"/><stop offset="0.5388" stop-color="#008dff"/><stop offset="0.5405" stop-color="#00a4ff"/><stop offset="0.5423" stop-color="#00b4ff"/><stop offset="0.5441" stop-color="#00bcff"/><stop offset="0.5459" stop-color="#00bbff"/><stop offset="0.5477" stop-color="#00b2ff"/><stop offset="0.5494" stop-color="#00a1ff"/><stop offset="0.5512" stop-color="#0089ff"/><stop offset="0.5530" stop-color="#006dff"/><stop offset="0.5548" stop-color="#004dff"/><stop offset="0.5565" stop-color="#002dff"/><stop offset="0.5583" stop-color="#000dff"/><stop offset="0.5601" stop-color="#0000ee"/><stop offset="0.5619" stop-color="#0000d4"/><stop offset="0.5637" stop-color="#0000bf"/><stop offset="0.5654" stop-color="#0000ae"/><stop offset="0.5672" stop-color="#0000a3"/><stop offset="0.5690" stop-color="#00009b"/><stop offset="0.5708" stop-color="#000097"/><stop offset="0.5725" stop-color="#000095"/><stop offset="0.5743" stop-color="#000094"/><stop offset="0.5797" stop-color="#000094"/><stop offset="0.5814" stop-color="#000097"/><stop offset="0.5832" stop-color="#00009d"/><stop offset="0.5850" stop-color="#0000aa"/><stop offset="0.5868" stop-color="#0000c0"/><stop offset="0.5885" stop-color="#0000e2"/><stop offset="0.5903" stop-color="#0012ff"/><stop offset="0.5921" stop-color="#004dff"/><stop offset="0.5939" stop-color="#0095ff"/><stop offset="0.5957" stop-color="#00e6ff"/><stop offset="0.5974" stop-color="#3fffc0"/><stop offset="0.5992" stop-color="#98ff67"/><stop offset="0.6010" stop-color="#eeff11"/><stop offset="0.6028" stop-color="#ffc300"/><stop offset="0.6046" stop-color="#ff8300"/><stop offset="0.6063" stop-color="#ff5600"/><stop offset="0.6081" stop-color="#ff3d00"/><stop offset="0.6099" stop-color="#ff3b00"/><stop offset="0.6117" stop-color="#ff5100"/><stop offset="0.6134" stop-color="#ff7d00"/><stop offset="0.6152" stop-color="#ffbe00"/><stop offset="0.6170" stop-color="#f1ff0e"/><stop offset="0.6188" stop-color="#97ff68"/><stop offset="0.6206" stop-color="#3affc5"/><stop offset="0.6223" stop-color="#00ddff"/><stop offset="0.6241" stop-color="#0088ff"/><stop offset="0.6259" stop-color="#003dff"/><stop offset="0.6277" stop-color="#0000fe"/><stop offset="0.6294" stop-color="#0000ce"/><stop offset="0.6312" stop-color="#0000ab"/><stop offset="0.6330" stop-color="#000095"/><stop offset="0.6348" stop-color="#000088"/><stop offset="0.6366" stop-color="#000082"/><stop offset="0.6383" stop-color="#000080"/><stop offset="0.6401" stop-color="#000080"/><stop offset="0.6419" stop-color="#000082"/><stop offset="0.6437" stop-color="#00008c"/><stop offset="0.6454" stop-color="#00009e"/><stop offset="0.6472" stop-color="#0000b4"/><stop offset="0.6490" stop-color="#0000ce"/><stop offset="0.6508" stop-color="#0000f8"/><stop offset="0.6526" stop-color="#002dff"/><stop offset="0.6543" stop-color="#0067ff"/><stop offset="0.6561" stop-color="#009eff"/><stop offset="0.6579" stop-color="#00d1ff"/><stop offset="0.6597" stop-color="#07fff8"/><stop offset="0.6615" stop-color="#3dffc2"/><stop offset="0.6632" stop-color="#71ff8e"/><stop offset="0.6650" stop-color="#9fff60"/><stop offset="0.6668" stop-color="#c3ff3c"/><stop offset="0.6686" stop-color="#e3ff1c"/><stop offset="0.6703" stop-color="#fffd00"/><stop offset="0.6721" stop-color="#fff000"/><stop offset="0.6739" stop-color="#fff100"/><stop offset="0.6757" stop-color="#fff300"/><stop offset="0.6775" stop-color="#fff400"/><stop offset="0.6792" stop-color="#fff500"/><stop offset="0.6810" stop-color="#fff600"/><stop offset="0.6828" stop-color="#fff700"/><stop offset="0.6846" stop-color="#fff800"/><stop offset="0.6863" stop-color="#fff900"/><stop offset="0.6881" stop-color="#fffa00"/><stop offset="0.6899" stop-color="#fffb00"/><stop offset="0.6917" stop-color="#fffd00"/><stop offset="0.6935" stop-color="#fffe00"/><stop offset="0.6952" stop-color="#ffff00"/><stop offset="0.6970" stop-color="#feff01"/><stop offset="0.6988" stop-color="#fdff02"/><stop offset="0.7006" stop-color="#fcff03"/><stop offset="0.7023" stop-color="#fbff04"/><stop offset="0.7041" stop-color="#faff05"/><stop offset="0.7059" stop-color="#f9ff06"/><stop offset="0.7077" stop-color="#f7ff08"/><stop offset="0.7095" stop-color="#f6ff09"/><stop offset="0.7112" stop-color="#f5ff0a"/><stop offset="0.7130" stop-color="#f4ff0b"/><stop offset="0.7148" stop-color="#f3ff0c"/><stop offset="0.7166" stop-color="#f2ff0d"/><stop offset="0.7183" stop-color="#f1ff0e"/><stop offset="0.7201" stop-color="#f0ff0f"/><stop offset="0.7219" stop-color="#efff10"/><stop offset="0.7237" stop-color="#edff12"/><stop offset="0.7255" stop-color="#ecff13"/><stop offset="0.7272" stop-color="#ebff14"/><stop offset="0.7290" stop-color="#eaff15"/><stop offset="0.7308" stop-color="#e9ff16"/><stop offset="0.7326" stop-color="#e8ff17"/><stop offset="0.7344" stop-color="#e7ff18"/><stop offset="0.7361" stop-color="#e6ff19"/><stop offset="0.7379" stop-color="#e5ff1a"/><stop offset="0.7397" stop-color="#e4ff1b"/><stop offset="0.7415" stop-color="#e2ff1d"/><stop offset="0.7432" stop-color="#e1ff1e"/><stop offset="0.7450" stop-color="#e0ff1f"/><stop offset="0.7468" stop-color="#dfff20"/><stop offset="0.7486" stop-color="#deff21"/><stop offset="0.7504" stop-color="#ddff22"/><stop offset="0.7521" stop-color="#dcff23"/><stop offset="0.7539" stop-color="#dbff24"/><stop offset="0.7557" stop-color="#daff25"/><stop offset="0.7575" stop-color="#d8ff27"/><stop offset="0.7592" stop-color="#d7ff28"/><stop offset="0.7610" stop-color="#d6ff29"/><stop offset="0.7628" stop-color="#d5ff2a"/><stop offset="0.7646" stop-color="#d4ff2b"/><stop offset="0.7664" stop-color="#d3ff2c"/><stop offset="0.7681" stop-color="#d2ff2d"/><stop offset="0.7699" stop-color="#d1ff2e"/><stop offset="0.7717" stop-color="#d0ff2f"/><stop offset="0.7735" stop-color="#ceff31"/><stop offset="0.7752" stop-color="#cdff32"/><stop offset="0.7770" stop-color="#ccff33"/><stop offset="0.7788" stop-color="#cbff34"/><stop offset="0.7806" stop-color="#caff35"/><stop offset="0.7824" stop-color="#c9ff36"/><stop offset="0.7841" stop-color="#c8ff37"/><stop offset="0.7859" stop-color="#c7ff38"/><stop offset="0.7877" stop-color="#c6ff39"/><stop offset="0.7895" stop-color="#c4ff3b"/><stop offset="0.7913" stop-color="#c3ff3c"/><stop offset="0.7930" stop-color="#c2ff3d"/><stop offset="0.7948" stop-color="#c1ff3e"/><stop offset="0.7966" stop-color="#c0ff3f"/><stop offset="0.7984" stop-color="#bfff40"/><stop offset="0.8001" stop-color="#beff41"/><stop offset="0.8019" stop-color="#bdff42"/><stop offset="0.8037" stop-color="#bcff43"/><stop offset="0.8055" stop-color="#baff45"/><stop offset="0.8073" stop-color="#b9ff46"/><stop offset="0.8090" stop-color="#b8ff47"/><stop offset="0.8108" stop-color="#b7ff48"/><stop offset="0.8126" stop-color="#b6ff49"/><stop offset="0.8144" stop-color="#b5ff4a"/><stop offset="0.8161" stop-color="#b4ff4b"/><stop offset="0.8179" stop-color="#b3ff4c"/><stop offset="0.8197" stop-color="#b2ff4d"/><stop offset="0.8215" stop-color="#b1ff4e"/><stop offset="0.8233" stop-color="#afff50"/><stop offset="0.8250" stop-color="#aeff51"/><stop offset="0.8268" stop-color="#adff52"/><stop offset="0.8286" stop-color="#acff53"/><stop offset="0.8304" stop-color="#abff54"/><stop offset="0.8321" stop-color="#aaff55"/><stop offset="0.8339" stop-color="#a9ff56"/><stop offset="0.8357" stop-color="#fff300"/><stop offset="0.8482" stop-color="#fff300"/><stop offset="0.8499" stop-color="#fff400"/><stop offset="0.8642" stop-color="#fff400"/><stop offset="0.8659" stop-color="#fff500"/><stop offset="0.8802" stop-color="#fff500"/><stop offset="0.8819" stop-color="#fff600"/><stop offset="0.8979" stop-color="#fff600"/><stop offset="0.8997" stop-color="#fff700"/><stop offset="0.9157" stop-color="#fff700"/><stop offset="0.9175" stop-color="#fff800"/><stop offset="0.9371" stop-color="#fff800"/><stop offset="0.9388" stop-color="#fff900"/><stop offset="0.9691" stop-color="#fff900"/><stop offset="0.9708" stop-color="#fffa00"/><stop offset="0.9993" stop-color="#fffa00"/></linearGradient><linearGradient id="cb8" x1="0" y1="0" x2="0" y2="1"><stop offset="0.000" stop-color="#800000"/><stop offset="0.062" stop-color="#bf0000"/><stop offset="0.125" stop-color="#ff0000"/><stop offset="0.188" stop-color="#ff4000"/><stop offset="0.250" stop-color="#ff8000"/><stop offset="0.312" stop-color="#ffbf00"/><stop offset="0.375" stop-color="#ffff00"/><stop offset="0.438" stop-color="#bfff40"/><stop offset="0.500" stop-color="#80ff80"/><stop offset="0.562" stop-color="#40ffbf"/><stop offset="0.625" stop-color="#00ffff"/><stop offset="0.688" stop-color="#00bfff"/><stop offset="0.750" stop-color="#0080ff"/><stop offset="0.812" stop-color="#0040ff"/><stop offset="0.875" stop-color="#0000ff"/><stop offset="0.938" stop-color="#0000bf"/><stop offset="1.000" stop-color="#000080"/></linearGradient><clipPath id="clipA"><rect x="42.2" y="61" width="277.6" height="85.3"/></clipPath><clipPath id="clipB"><rect x="41.6" y="240.8" width="281.3" height="82.4"/></clipPath></defs><rect width="347" height="349" fill="#fff"/>
<text x="2.0" y="9.1" font-size="13" letter-spacing="0" style="stroke-width:0.05px" font-family="Liberation Serif">(a)</text>
<text x="2.0" y="190.2" font-size="13" letter-spacing="0" style="stroke-width:0.05px" font-family="Liberation Serif">(b)</text>
<text x="39" y="10.8" font-size="9.2" word-spacing="-0.9" text-anchor="end" style="stroke-width:0.1px" font-family="Liberation Serif">W 1</text>
<text x="39" y="27" font-size="9.2" word-spacing="-0.9" text-anchor="end" style="stroke-width:0.1px" font-family="Liberation Serif">W 2</text>
<text x="39" y="42.8" font-size="9.2" word-spacing="-0.9" text-anchor="end" style="stroke-width:0.1px" font-family="Liberation Serif">W 3</text>
<text x="37.6" y="191.4" font-size="9.2" word-spacing="-0.9" text-anchor="end" style="stroke-width:0.1px" font-family="Liberation Serif">W 1</text>
<text x="37.6" y="207.4" font-size="9.2" word-spacing="-0.9" text-anchor="end" style="stroke-width:0.1px" font-family="Liberation Serif">W 2</text>
<text x="37.6" y="223" font-size="9.2" word-spacing="-0.9" text-anchor="end" style="stroke-width:0.1px" font-family="Liberation Serif">W 3</text>
<polyline points="42.8,8.9 43.8,8.9 44.8,8.9 45.8,8.9 46.8,8.9 47.8,8.9 48.8,8.9 49.8,8.9 50.8,8.9 51.8,8.9 52.8,8.9 53.8,8.9 54.8,8.9 55.8,8.9 56.8,8.9 57.8,8.9 58.8,8.9 59.8,8.9 60.8,8.9 61.8,8.9 62.8,8.9 63.8,8.9 64.8,8.9 65.8,8.9 66.8,8.9 67.8,8.9 68.8,8.9 69.8,8.9 70.8,8.9 71.8,8.9 72.8,8.9 73.8,8.9 74.8,8.9 75.8,8.9 76.8,8.9 77.8,8.9 78.8,8.9 79.8,8.9 80.8,8.9 81.8,8.9 82.8,8.9 83.8,8.9 84.8,8.9 85.8,8.9 86.8,8.9 87.8,8.9 88.8,8.9 89.8,8.9 90.8,8.9 91.8,8.9 92.8,8.9 93.8,8.9 94.8,8.9 95.8,8.9 96.8,8.9 97.8,8.9 98.8,8.9 99.8,8.9 100.8,8.9 101.8,8.9 102.8,8.9 103.8,8.9 104.8,8.9 105.8,8.9 106.8,8.9 107.8,8.9 108.8,8.9 109.8,8.9 110.8,8.9 111.8,8.9 112.8,8.9 113.8,8.9 114.8,8.9 115.8,8.9 116.8,9.27 117.8,9.71 118.8,10.15 119.8,10.58 120.8,10.99 121.8,11.39 122.8,11.78 123.8,12.15 124.8,12.5 125.8,12.83 126.8,13.14 127.8,13.44 128.8,13.71 129.8,13.95 130.8,14.18 131.8,14.4 132.8,14.6 133.8,14.8 134.8,14.99 135.8,15.17 136.8,15.34 137.8,15.5 138.8,15.66 139.8,15.81 140.8,15.96 141.8,16.09 142.8,16.23 143.8,16.35 144.8,16.48 145.8,16.59 146.8,16.71 147.8,16.82 148.8,16.93 149.8,17.04 150.8,17.14 151.8,17.24 152.8,17.34 153.8,17.43 154.8,17.52 155.8,17.6 156.8,17.68 157.8,17.75 158.8,17.82 159.8,17.89 160.8,17.95 161.8,18.01 162.8,18.08 163.8,18.14 164.8,18.2 165.8,18.26 166.8,18.32 167.8,18.38 168.8,18.44 169.8,18.49 170.8,18.55 171.8,18.59 172.8,18.64 173.8,18.68 174.8,18.71 175.8,18.74 176.8,18.76 177.8,18.78 178.8,18.79 179.8,18.8 180.8,18.8 181.8,18.8 182.8,18.8 183.8,18.8 184.8,18.8 185.8,18.8 186.8,18.8 187.8,18.8 188.8,18.8 189.8,18.8 190.8,18.79 191.8,18.77 192.8,18.73 193.8,18.68 194.8,18.62 195.8,18.55 196.8,18.47 197.8,18.39 198.8,18.3 199.8,18.22 200.8,18.13 201.8,18.03 202.8,17.91 203.8,17.79 204.8,17.65 205.8,17.51 206.8,17.35 207.8,17.19 208.8,17.03 209.8,16.87 210.8,16.7 211.8,16.53 212.8,16.36 213.8,16.19 214.8,16.03 215.8,15.87 216.8,15.71 217.8,15.55 218.8,15.4 219.8,15.23 220.8,15.07 221.8,14.91 222.8,14.75 223.8,14.58 224.8,14.41 225.8,14.24 226.8,14.07 227.8,13.89 228.8,13.71 229.8,13.52 230.8,13.34 231.8,13.15 232.8,12.95 233.8,12.75 234.8,12.54 235.8,12.33 236.8,12.11 237.8,11.88 238.8,11.65 239.8,11.41 240.8,11.16 241.8,10.91 242.8,10.65 243.8,10.39 244.8,10.12 245.8,9.85 246.8,9.57 247.8,9.29 248.8,9 249.8,8.8 250.8,8.8 251.8,8.8 252.8,8.8 253.8,8.8 254.8,8.8 255.8,8.8 256.8,8.8 257.8,8.8 258.8,8.8 259.8,8.8 260.8,8.8 261.8,8.8 262.8,8.8 263.8,8.8 264.8,8.8 265.8,8.8 266.8,8.8 267.8,8.8 268.8,8.8 269.8,8.8 270.8,8.8 271.8,8.8 272.8,8.8 273.8,8.8 274.8,8.8 275.8,8.8 276.8,8.8 277.8,8.8 278.8,8.8 279.8,8.8 280.8,8.8 281.8,8.8 282.8,8.8 283.8,8.8 284.8,8.8 285.8,8.8 286.8,8.8 287.8,8.8 288.8,8.8 289.8,8.8 290.8,8.8 291.8,8.8 292.8,8.8 293.8,8.8 294.8,8.8 295.8,8.8 296.8,8.8 297.8,8.8 298.8,8.8 299.8,8.8 300.8,8.8 301.8,8.8 302.8,8.8 303.8,8.8 304.8,8.8 305.8,8.8 306.8,8.8 307.8,8.8 308.8,8.8 309.8,8.8 310.8,8.8 311.8,8.8 312.8,8.8 313.8,8.8 314.8,8.8 315.8,8.8 316.8,8.8 317.8,8.8 318.8,8.8 319.8,8.8" fill="none" stroke="url(#wg1)" stroke-width="4.3"/>
<polyline points="42.8,24.4 43.8,24.4 44.8,24.4 45.8,24.4 46.8,24.4 47.8,24.4 48.8,24.4 49.8,24.4 50.8,24.4 51.8,24.4 52.8,24.4 53.8,24.4 54.8,24.4 55.8,24.4 56.8,24.4 57.8,24.4 58.8,24.4 59.8,24.4 60.8,24.4 61.8,24.4 62.8,24.4 63.8,24.4 64.8,24.4 65.8,24.4 66.8,24.4 67.8,24.4 68.8,24.4 69.8,24.4 70.8,24.4 71.8,24.4 72.8,24.4 73.8,24.4 74.8,24.4 75.8,24.4 76.8,24.4 77.8,24.4 78.8,24.4 79.8,24.4 80.8,24.4 81.8,24.4 82.8,24.4 83.8,24.4 84.8,24.4 85.8,24.4 86.8,24.4 87.8,24.4 88.8,24.4 89.8,24.4 90.8,24.4 91.8,24.4 92.8,24.4 93.8,24.4 94.8,24.4 95.8,24.4 96.8,24.4 97.8,24.4 98.8,24.4 99.8,24.4 100.8,24.4 101.8,24.4 102.8,24.4 103.8,24.4 104.8,24.4 105.8,24.4 106.8,24.4 107.8,24.4 108.8,24.4 109.8,24.4 110.8,24.4 111.8,24.4 112.8,24.4 113.8,24.4 114.8,24.4 115.8,24.4 116.8,24.4 117.8,24.4 118.8,24.4 119.8,24.4 120.8,24.4 121.8,24.4 122.8,24.4 123.8,24.4 124.8,24.4 125.8,24.4 126.8,24.4 127.8,24.4 128.8,24.4 129.8,24.4 130.8,24.4 131.8,24.4 132.8,24.4 133.8,24.4 134.8,24.4 135.8,24.4 136.8,24.4 137.8,24.4 138.8,24.4 139.8,24.4 140.8,24.4 141.8,24.4 142.8,24.4 143.8,24.4 144.8,24.4 145.8,24.4 146.8,24.4 147.8,24.4 148.8,24.4 149.8,24.4 150.8,24.4 151.8,24.4 152.8,24.4 153.8,24.4 154.8,24.4 155.8,24.4 156.8,24.4 157.8,24.4 158.8,24.4 159.8,24.4 160.8,24.4 161.8,24.4 162.8,24.4 163.8,24.4 164.8,24.4 165.8,24.4 166.8,24.4 167.8,24.4 168.8,24.4 169.8,24.4 170.8,24.4 171.8,24.4 172.8,24.4 173.8,24.4 174.8,24.4 175.8,24.4 176.8,24.4 177.8,24.4 178.8,24.4 179.8,24.4 180.8,24.4 181.8,24.4 182.8,24.4 183.8,24.4 184.8,24.4 185.8,24.4 186.8,24.4 187.8,24.4 188.8,24.4 189.8,24.4 190.8,24.4 191.8,24.4 192.8,24.4 193.8,24.4 194.8,24.4 195.8,24.4 196.8,24.4 197.8,24.4 198.8,24.4 199.8,24.4 200.8,24.4 201.8,24.4 202.8,24.4 203.8,24.4 204.8,24.4 205.8,24.4 206.8,24.4 207.8,24.4 208.8,24.4 209.8,24.4 210.8,24.4 211.8,24.4 212.8,24.4 213.8,24.4 214.8,24.4 215.8,24.4 216.8,24.4 217.8,24.4 218.8,24.4 219.8,24.4 220.8,24.4 221.8,24.4 222.8,24.4 223.8,24.4 224.8,24.4 225.8,24.4 226.8,24.4 227.8,24.4 228.8,24.4 229.8,24.4 230.8,24.4 231.8,24.4 232.8,24.4 233.8,24.4 234.8,24.4 235.8,24.4 236.8,24.4 237.8,24.4 238.8,24.4 239.8,24.4 240.8,24.4 241.8,24.4 242.8,24.4 243.8,24.4 244.8,24.4 245.8,24.4 246.8,24.4 247.8,24.4 248.8,24.4 249.8,24.4 250.8,24.4 251.8,24.4 252.8,24.4 253.8,24.4 254.8,24.4 255.8,24.4 256.8,24.4 257.8,24.4 258.8,24.4 259.8,24.4 260.8,24.4 261.8,24.4 262.8,24.4 263.8,24.4 264.8,24.4 265.8,24.4 266.8,24.4 267.8,24.4 268.8,24.4 269.8,24.4 270.8,24.4 271.8,24.4 272.8,24.4 273.8,24.4 274.8,24.4 275.8,24.4 276.8,24.4 277.8,24.4 278.8,24.4 279.8,24.4 280.8,24.4 281.8,24.4 282.8,24.4 283.8,24.4 284.8,24.4 285.8,24.4 286.8,24.4 287.8,24.4 288.8,24.4 289.8,24.4 290.8,24.4 291.8,24.4 292.8,24.4 293.8,24.4 294.8,24.4 295.8,24.4 296.8,24.4 297.8,24.4 298.8,24.4 299.8,24.4 300.8,24.4 301.8,24.4 302.8,24.4 303.8,24.4 304.8,24.4 305.8,24.4 306.8,24.4 307.8,24.4 308.8,24.4 309.8,24.4 310.8,24.4 311.8,24.4 312.8,24.4 313.8,24.4 314.8,24.4 315.8,24.4 316.8,24.4 317.8,24.4 318.8,24.4 319.8,24.4" fill="none" stroke="url(#wg2)" stroke-width="4.3"/>
<polyline points="42.8,40.4 43.8,40.4 44.8,40.4 45.8,40.4 46.8,40.4 47.8,40.4 48.8,40.4 49.8,40.4 50.8,40.4 51.8,40.4 52.8,40.4 53.8,40.4 54.8,40.4 55.8,40.4 56.8,40.4 57.8,40.4 58.8,40.4 59.8,40.4 60.8,40.4 61.8,40.4 62.8,40.4 63.8,40.4 64.8,40.4 65.8,40.4 66.8,40.4 67.8,40.4 68.8,40.4 69.8,40.4 70.8,40.4 71.8,40.4 72.8,40.4 73.8,40.4 74.8,40.4 75.8,40.4 76.8,40.4 77.8,40.4 78.8,40.4 79.8,40.4 80.8,40.4 81.8,40.4 82.8,40.4 83.8,40.4 84.8,40.4 85.8,40.4 86.8,40.4 87.8,40.4 88.8,40.4 89.8,40.4 90.8,40.4 91.8,40.4 92.8,40.4 93.8,40.4 94.8,40.4 95.8,40.4 96.8,40.4 97.8,40.4 98.8,40.4 99.8,40.4 100.8,40.4 101.8,40.4 102.8,40.4 103.8,40.4 104.8,40.4 105.8,40.4 106.8,40.4 107.8,40.4 108.8,40.4 109.8,40.4 110.8,40.4 111.8,40.4 112.8,40.4 113.8,40.4 114.8,40.4 115.8,40.4 116.8,40.4 117.8,40.4 118.8,40.4 119.8,40.4 120.8,40.4 121.8,40.4 122.8,40.4 123.8,40.4 124.8,40.4 125.8,40.4 126.8,40.4 127.8,40.4 128.8,40.4 129.8,40.4 130.8,40.4 131.8,40.4 132.8,40.4 133.8,40.4 134.8,40.4 135.8,40.4 136.8,40.4 137.8,40.4 138.8,40.4 139.8,40.4 140.8,40.4 141.8,40.4 142.8,40.4 143.8,40.24 144.8,40.03 145.8,39.83 146.8,39.62 147.8,39.42 148.8,39.21 149.8,39 150.8,38.8 151.8,38.59 152.8,38.38 153.8,38.17 154.8,37.96 155.8,37.75 156.8,37.54 157.8,37.33 158.8,37.12 159.8,36.91 160.8,36.7 161.8,36.48 162.8,36.27 163.8,36.06 164.8,35.84 165.8,35.63 166.8,35.4 167.8,35.17 168.8,34.94 169.8,34.7 170.8,34.46 171.8,34.22 172.8,33.98 173.8,33.73 174.8,33.49 175.8,33.26 176.8,33.02 177.8,32.8 178.8,32.57 179.8,32.36 180.8,32.15 181.8,31.96 182.8,31.77 183.8,31.59 184.8,31.43 185.8,31.28 186.8,31.12 187.8,30.97 188.8,30.82 189.8,30.67 190.8,30.53 191.8,30.39 192.8,30.26 193.8,30.13 194.8,30.02 195.8,29.91 196.8,29.81 197.8,29.73 198.8,29.66 199.8,29.61 200.8,29.57 201.8,29.52 202.8,29.48 203.8,29.44 204.8,29.41 205.8,29.37 206.8,29.34 207.8,29.31 208.8,29.28 209.8,29.26 210.8,29.24 211.8,29.22 212.8,29.21 213.8,29.2 214.8,29.2 215.8,29.2 216.8,29.22 217.8,29.25 218.8,29.29 219.8,29.34 220.8,29.4 221.8,29.47 222.8,29.55 223.8,29.63 224.8,29.72 225.8,29.82 226.8,29.93 227.8,30.04 228.8,30.15 229.8,30.27 230.8,30.38 231.8,30.51 232.8,30.63 233.8,30.75 234.8,30.88 235.8,31 236.8,31.15 237.8,31.32 238.8,31.5 239.8,31.69 240.8,31.89 241.8,32.11 242.8,32.33 243.8,32.56 244.8,32.79 245.8,33.03 246.8,33.26 247.8,33.5 248.8,33.73 249.8,33.96 250.8,34.18 251.8,34.4 252.8,34.63 253.8,34.85 254.8,35.08 255.8,35.31 256.8,35.55 257.8,35.78 258.8,36.01 259.8,36.25 260.8,36.49 261.8,36.73 262.8,36.97 263.8,37.21 264.8,37.46 265.8,37.71 266.8,37.96 267.8,38.21 268.8,38.46 269.8,38.71 270.8,38.97 271.8,39.23 272.8,39.49 273.8,39.75 274.8,40.01 275.8,40.2 276.8,40.2 277.8,40.2 278.8,40.2 279.8,40.2 280.8,40.2 281.8,40.2 282.8,40.2 283.8,40.2 284.8,40.2 285.8,40.2 286.8,40.2 287.8,40.2 288.8,40.2 289.8,40.2 290.8,40.2 291.8,40.2 292.8,40.2 293.8,40.2 294.8,40.2 295.8,40.2 296.8,40.2 297.8,40.2 298.8,40.2 299.8,40.2 300.8,40.2 301.8,40.2 302.8,40.2 303.8,40.2 304.8,40.2 305.8,40.2 306.8,40.2 307.8,40.2 308.8,40.2 309.8,40.2 310.8,40.2 311.8,40.2 312.8,40.2 313.8,40.2 314.8,40.2 315.8,40.2 316.8,40.2 317.8,40.2 318.8,40.2 319.8,40.2" fill="none" stroke="url(#wg3)" stroke-width="4.3"/>
<path d="M51.5 42.45L51.5 38.35M54.5 42.45L54.5 38.35M57.5 42.45L57.5 38.35M60.5 42.45L60.5 38.35M63.5 42.45L63.5 38.35M66.5 42.45L66.5 38.35M69.5 42.45L69.5 38.35M72.5 42.45L72.5 38.35M75.5 42.45L75.5 38.35M78.5 42.45L78.5 38.35M81.5 42.45L81.5 38.35M84.5 42.45L84.5 38.35M87.5 42.45L87.5 38.35M90.5 42.45L90.5 38.35M93.5 42.45L93.5 38.35M96.5 42.45L96.5 38.35M99.5 42.45L99.5 38.35M102.5 42.45L102.5 38.35M105.5 42.45L105.5 38.35M108.5 42.45L108.5 38.35M111.5 42.45L111.5 38.35M114.5 42.45L114.5 38.35M117.5 42.45L117.5 38.35M120.5 42.45L120.5 38.35M123.5 42.45L123.5 38.35M126.5 42.45L126.5 38.35M129.5 42.45L129.5 38.35M132.5 42.45L132.5 38.35M135.5 42.45L135.5 38.35M138.5 42.45L138.5 38.35M141.5 42.45L141.5 38.35" stroke="#f00000" stroke-width="1.4" stroke-opacity="0.8" fill="none"/>
<path d="M143.9 42.14L145.1 38.04M145.8 41.76L147 37.66M147.7 41.36L148.9 37.26M149.6 40.97L150.8 36.87M151.5 40.58L152.7 36.48M153.4 40.18L154.6 36.08M155.3 39.78L156.5 35.68M157.2 39.38L158.4 35.28M159.1 38.98L160.3 34.88M161 38.58L162.2 34.48M162.9 38.17L164.1 34.07M164.8 37.76L166 33.66M166.7 37.34L167.9 33.24M168.6 36.89L169.8 32.79M170.5 36.44L171.7 32.34M172.4 35.98L173.6 31.88M174.3 35.52L175.5 31.42M176.2 35.07L177.4 30.97M178.1 34.65L179.3 30.55M180 34.24L181.2 30.14M181.9 33.87L183.1 29.77M183.8 33.54L185 29.44M185.7 33.25L186.9 29.15M187.6 32.96L188.8 28.86" stroke="#7a0000" stroke-width="0.85" stroke-opacity="0.9" fill="none"/>
<path d="M200.4 20.16L201.6 16.06M202.3 19.95L203.5 15.85M204.2 19.7L205.4 15.6M206.1 19.42L207.3 15.32M208 19.11L209.2 15.01M209.9 18.8L211.1 14.7M211.8 18.48L213 14.38M213.7 18.16L214.9 14.06M215.6 17.86L216.8 13.76M217.5 17.56L218.7 13.46M219.4 17.25L220.6 13.15M221.3 16.94L222.5 12.84M223.2 16.63L224.4 12.53M225.1 16.31L226.3 12.21M227 15.97L228.2 11.87M228.9 15.63L230.1 11.53M230.8 15.27L232 11.17M232.7 14.9L233.9 10.8M234.6 14.51L235.8 10.41M236.5 14.09L237.7 9.99M238.4 13.65L239.6 9.55M240.3 13.19L241.5 9.09M242.2 12.7L243.4 8.6M244.1 12.2L245.3 8.1M246 11.67L247.2 7.57" stroke="#7a0000" stroke-width="0.85" stroke-opacity="0.9" fill="none"/>
<rect x="328.8" y="6.6" width="5.6" height="36.4" fill="url(#cb4)"/>
<text x="336.2" y="10.9" font-size="9" font-family="Liberation Serif">1.0</text>
<text x="337" y="47.3" font-size="9" font-family="Liberation Serif">0</text>
<polyline points="41.3,187.6 42.3,187.6 43.3,187.6 44.3,187.6 45.3,187.6 46.3,187.6 47.3,187.6 48.3,187.6 49.3,187.6 50.3,187.6 51.3,187.6 52.3,187.6 53.3,187.6 54.3,187.6 55.3,187.6 56.3,187.6 57.3,187.6 58.3,187.6 59.3,187.6 60.3,187.6 61.3,187.6 62.3,187.6 63.3,187.6 64.3,187.6 65.3,187.6 66.3,187.6 67.3,187.6 68.3,187.6 69.3,187.6 70.3,187.6 71.3,187.6 72.3,187.6 73.3,187.6 74.3,187.6 75.3,187.6 76.3,187.6 77.3,187.6 78.3,187.6 79.3,187.6 80.3,187.6 81.3,187.6 82.3,187.6 83.3,187.6 84.3,187.6 85.3,187.6 86.3,187.6 87.3,187.6 88.3,187.6 89.3,187.6 90.3,187.6 91.3,187.6 92.3,187.6 93.3,187.6 94.3,187.6 95.3,187.6 96.3,187.6 97.3,187.6 98.3,187.6 99.3,187.6 100.3,187.6 101.3,187.6 102.3,187.6 103.3,187.6 104.3,187.6 105.3,187.6 106.3,187.6 107.3,187.6 108.3,187.6 109.3,187.6 110.3,187.6 111.3,187.6 112.3,187.6 113.3,187.6 114.3,187.6 115.3,187.68 116.3,187.93 117.3,188.18 118.3,188.44 119.3,188.69 120.3,188.94 121.3,189.19 122.3,189.44 123.3,189.69 124.3,189.94 125.3,190.19 126.3,190.44 127.3,190.69 128.3,190.93 129.3,191.18 130.3,191.43 131.3,191.67 132.3,191.92 133.3,192.16 134.3,192.41 135.3,192.65 136.3,192.9 137.3,193.14 138.3,193.39 139.3,193.63 140.3,193.87 141.3,194.13 142.3,194.39 143.3,194.64 144.3,194.87 145.3,195.05 146.3,195.23 147.3,195.39 148.3,195.56 149.3,195.72 150.3,195.88 151.3,196.02 152.3,196.16 153.3,196.3 154.3,196.42 155.3,196.53 156.3,196.63 157.3,196.72 158.3,196.8 159.3,196.86 160.3,196.91 161.3,196.96 162.3,197 163.3,197.05 164.3,197.09 165.3,197.13 166.3,197.16 167.3,197.2 168.3,197.23 169.3,197.26 170.3,197.29 171.3,197.32 172.3,197.34 173.3,197.36 174.3,197.37 175.3,197.39 176.3,197.39 177.3,197.4 178.3,197.4 179.3,197.39 180.3,197.38 181.3,197.36 182.3,197.34 183.3,197.3 184.3,197.27 185.3,197.23 186.3,197.18 187.3,197.13 188.3,197.08 189.3,197.03 190.3,196.97 191.3,196.92 192.3,196.86 193.3,196.8 194.3,196.74 195.3,196.68 196.3,196.62 197.3,196.55 198.3,196.48 199.3,196.4 200.3,196.31 201.3,196.22 202.3,196.13 203.3,196.03 204.3,195.93 205.3,195.82 206.3,195.72 207.3,195.61 208.3,195.49 209.3,195.38 210.3,195.27 211.3,195.15 212.3,195.02 213.3,194.9 214.3,194.76 215.3,194.63 216.3,194.49 217.3,194.34 218.3,194.19 219.3,194.04 220.3,193.88 221.3,193.72 222.3,193.56 223.3,193.39 224.3,193.23 225.3,193.05 226.3,192.88 227.3,192.7 228.3,192.52 229.3,192.33 230.3,192.14 231.3,191.95 232.3,191.75 233.3,191.55 234.3,191.34 235.3,191.12 236.3,190.9 237.3,190.68 238.3,190.44 239.3,190.21 240.3,189.97 241.3,189.72 242.3,189.47 243.3,189.22 244.3,188.96 245.3,188.7 246.3,188.43 247.3,188.17 248.3,187.89 249.3,187.7 250.3,187.7 251.3,187.7 252.3,187.7 253.3,187.7 254.3,187.7 255.3,187.7 256.3,187.7 257.3,187.7 258.3,187.7 259.3,187.7 260.3,187.7 261.3,187.7 262.3,187.7 263.3,187.7 264.3,187.7 265.3,187.7 266.3,187.7 267.3,187.7 268.3,187.7 269.3,187.7 270.3,187.7 271.3,187.7 272.3,187.7 273.3,187.7 274.3,187.7 275.3,187.7 276.3,187.7 277.3,187.7 278.3,187.7 279.3,187.7 280.3,187.7 281.3,187.7 282.3,187.7 283.3,187.7 284.3,187.7 285.3,187.7 286.3,187.7 287.3,187.7 288.3,187.7 289.3,187.7 290.3,187.7 291.3,187.7 292.3,187.7 293.3,187.7 294.3,187.7 295.3,187.7 296.3,187.7 297.3,187.7 298.3,187.7 299.3,187.7 300.3,187.7 301.3,187.7 302.3,187.7 303.3,187.7 304.3,187.7 305.3,187.7 306.3,187.7 307.3,187.7 308.3,187.7 309.3,187.7 310.3,187.7 311.3,187.7 312.3,187.7 313.3,187.7 314.3,187.7 315.3,187.7 316.3,187.7 317.3,187.7 318.3,187.7 319.3,187.7 320.3,187.7 321.3,187.7 322.3,187.7" fill="none" stroke="url(#wg5)" stroke-width="4.3"/>
<polyline points="41.3,203 42.3,203 43.3,203 44.3,203 45.3,203 46.3,203 47.3,203 48.3,203 49.3,203 50.3,203 51.3,203 52.3,203 53.3,203 54.3,203 55.3,203 56.3,203 57.3,203 58.3,203 59.3,203 60.3,203 61.3,203 62.3,203 63.3,203 64.3,203 65.3,203 66.3,203 67.3,203 68.3,203 69.3,203 70.3,203 71.3,203 72.3,203 73.3,203 74.3,203 75.3,203 76.3,203 77.3,203 78.3,203 79.3,203 80.3,203 81.3,203 82.3,203 83.3,203 84.3,203 85.3,203 86.3,203 87.3,203 88.3,203 89.3,203 90.3,203 91.3,203 92.3,203 93.3,203 94.3,203 95.3,203 96.3,203 97.3,203 98.3,203 99.3,203 100.3,203 101.3,203 102.3,203 103.3,203 104.3,203 105.3,203 106.3,203 107.3,203 108.3,203 109.3,203 110.3,203 111.3,203 112.3,203 113.3,203 114.3,203 115.3,203 116.3,203 117.3,203 118.3,203 119.3,203 120.3,203 121.3,203 122.3,203 123.3,203 124.3,203 125.3,203 126.3,203 127.3,203 128.3,203 129.3,203 130.3,203 131.3,203 132.3,203 133.3,203 134.3,203 135.3,203 136.3,203 137.3,203 138.3,203 139.3,203 140.3,203 141.3,203 142.3,203 143.3,203 144.3,203 145.3,203 146.3,203 147.3,203 148.3,203 149.3,203 150.3,203 151.3,203 152.3,203 153.3,203 154.3,203 155.3,203 156.3,203 157.3,203 158.3,203 159.3,203 160.3,203 161.3,203 162.3,203 163.3,203 164.3,203 165.3,203 166.3,203 167.3,203 168.3,203 169.3,203 170.3,203 171.3,203 172.3,203 173.3,203 174.3,203 175.3,203 176.3,203 177.3,203 178.3,203 179.3,203 180.3,203 181.3,203 182.3,203 183.3,203 184.3,203 185.3,203 186.3,203 187.3,203 188.3,203 189.3,203 190.3,203 191.3,203 192.3,203 193.3,203 194.3,203 195.3,203 196.3,203 197.3,203 198.3,203 199.3,203 200.3,203 201.3,203 202.3,203 203.3,203 204.3,203 205.3,203 206.3,203 207.3,203 208.3,203 209.3,203 210.3,203 211.3,203 212.3,203 213.3,203 214.3,203 215.3,203 216.3,203 217.3,203 218.3,203 219.3,203 220.3,203 221.3,203 222.3,203 223.3,203 224.3,203 225.3,203 226.3,203 227.3,203 228.3,203 229.3,203 230.3,203 231.3,203 232.3,203 233.3,203 234.3,203 235.3,203 236.3,203 237.3,203 238.3,203 239.3,203 240.3,203 241.3,203 242.3,203 243.3,203 244.3,203 245.3,203 246.3,203 247.3,203 248.3,203 249.3,203 250.3,203 251.3,203 252.3,203 253.3,203 254.3,203 255.3,203 256.3,203 257.3,203 258.3,203 259.3,203 260.3,203 261.3,203 262.3,203 263.3,203 264.3,203 265.3,203 266.3,203 267.3,203 268.3,203 269.3,203 270.3,203 271.3,203 272.3,203 273.3,203 274.3,203 275.3,203 276.3,203 277.3,203 278.3,203 279.3,203 280.3,203 281.3,203 282.3,203 283.3,203 284.3,203 285.3,203 286.3,203 287.3,203 288.3,203 289.3,203 290.3,203 291.3,203 292.3,203 293.3,203 294.3,203 295.3,203 296.3,203 297.3,203 298.3,203 299.3,203 300.3,203 301.3,203 302.3,203 303.3,203 304.3,203 305.3,203 306.3,203 307.3,203 308.3,203 309.3,203 310.3,203 311.3,203 312.3,203 313.3,203 314.3,203 315.3,203 316.3,203 317.3,203 318.3,203 319.3,203 320.3,203 321.3,203 322.3,203" fill="none" stroke="url(#wg6)" stroke-width="4.3"/>
<polyline points="41.3,218.3 42.3,218.3 43.3,218.3 44.3,218.3 45.3,218.3 46.3,218.3 47.3,218.3 48.3,218.3 49.3,218.3 50.3,218.3 51.3,218.3 52.3,218.3 53.3,218.3 54.3,218.3 55.3,218.3 56.3,218.3 57.3,218.3 58.3,218.3 59.3,218.3 60.3,218.3 61.3,218.3 62.3,218.3 63.3,218.3 64.3,218.3 65.3,218.3 66.3,218.3 67.3,218.3 68.3,218.3 69.3,218.3 70.3,218.3 71.3,218.3 72.3,218.3 73.3,218.3 74.3,218.3 75.3,218.3 76.3,218.3 77.3,218.3 78.3,218.3 79.3,218.3 80.3,218.3 81.3,218.3 82.3,218.3 83.3,218.3 84.3,218.3 85.3,218.3 86.3,218.3 87.3,218.3 88.3,218.3 89.3,218.3 90.3,218.3 91.3,218.3 92.3,218.3 93.3,218.3 94.3,218.3 95.3,218.3 96.3,218.3 97.3,218.3 98.3,218.3 99.3,218.3 100.3,218.3 101.3,218.3 102.3,218.3 103.3,218.3 104.3,218.3 105.3,218.3 106.3,218.3 107.3,218.3 108.3,218.3 109.3,218.3 110.3,218.3 111.3,218.3 112.3,218.3 113.3,218.3 114.3,218.3 115.3,218.3 116.3,218.3 117.3,218.3 118.3,218.3 119.3,218.3 120.3,218.3 121.3,218.3 122.3,218.3 123.3,218.3 124.3,218.3 125.3,218.3 126.3,218.3 127.3,218.3 128.3,218.3 129.3,218.3 130.3,218.3 131.3,218.3 132.3,218.3 133.3,218.3 134.3,218.3 135.3,218.3 136.3,218.3 137.3,218.3 138.3,218.3 139.3,218.3 140.3,218.3 141.3,218.3 142.3,218.3 143.3,218.3 144.3,218.15 145.3,217.9 146.3,217.66 147.3,217.41 148.3,217.17 149.3,216.93 150.3,216.69 151.3,216.45 152.3,216.22 153.3,215.99 154.3,215.76 155.3,215.53 156.3,215.31 157.3,215.09 158.3,214.87 159.3,214.65 160.3,214.44 161.3,214.22 162.3,214.01 163.3,213.79 164.3,213.57 165.3,213.35 166.3,213.14 167.3,212.92 168.3,212.71 169.3,212.5 170.3,212.3 171.3,212.09 172.3,211.9 173.3,211.7 174.3,211.52 175.3,211.34 176.3,211.17 177.3,211 178.3,210.85 179.3,210.7 180.3,210.56 181.3,210.42 182.3,210.29 183.3,210.16 184.3,210.04 185.3,209.91 186.3,209.79 187.3,209.68 188.3,209.57 189.3,209.47 190.3,209.37 191.3,209.28 192.3,209.19 193.3,209.11 194.3,209.04 195.3,208.98 196.3,208.92 197.3,208.86 198.3,208.81 199.3,208.75 200.3,208.69 201.3,208.64 202.3,208.58 203.3,208.53 204.3,208.48 205.3,208.44 206.3,208.4 207.3,208.36 208.3,208.32 209.3,208.29 210.3,208.26 211.3,208.24 212.3,208.22 213.3,208.21 214.3,208.2 215.3,208.2 216.3,208.21 217.3,208.24 218.3,208.29 219.3,208.34 220.3,208.41 221.3,208.48 222.3,208.57 223.3,208.66 224.3,208.75 225.3,208.85 226.3,208.95 227.3,209.05 228.3,209.14 229.3,209.24 230.3,209.33 231.3,209.42 232.3,209.51 233.3,209.6 234.3,209.7 235.3,209.79 236.3,209.89 237.3,210 238.3,210.1 239.3,210.21 240.3,210.32 241.3,210.43 242.3,210.55 243.3,210.67 244.3,210.8 245.3,210.93 246.3,211.06 247.3,211.2 248.3,211.35 249.3,211.49 250.3,211.65 251.3,211.81 252.3,211.98 253.3,212.15 254.3,212.34 255.3,212.53 256.3,212.73 257.3,212.94 258.3,213.16 259.3,213.38 260.3,213.61 261.3,213.84 262.3,214.09 263.3,214.34 264.3,214.59 265.3,214.85 266.3,215.12 267.3,215.4 268.3,215.67 269.3,215.96 270.3,216.25 271.3,216.55 272.3,216.85 273.3,217.15 274.3,217.46 275.3,217.78 276.3,218 277.3,218 278.3,218 279.3,218 280.3,218 281.3,218 282.3,218 283.3,218 284.3,218 285.3,218 286.3,218 287.3,218 288.3,218 289.3,218 290.3,218 291.3,218 292.3,218 293.3,218 294.3,218 295.3,218 296.3,218 297.3,218 298.3,218 299.3,218 300.3,218 301.3,218 302.3,218 303.3,218 304.3,218 305.3,218 306.3,218 307.3,218 308.3,218 309.3,218 310.3,218 311.3,218 312.3,218 313.3,218 314.3,218 315.3,218 316.3,218 317.3,218 318.3,218 319.3,218 320.3,218 321.3,218 322.3,218" fill="none" stroke="url(#wg7)" stroke-width="4.3"/>
<path d="M51 189.65L51 185.55M54 189.65L54 185.55M57 189.65L57 185.55M60 189.65L60 185.55M63 189.65L63 185.55M66 189.65L66 185.55M69 189.65L69 185.55M72 189.65L72 185.55M75 189.65L75 185.55M78 189.65L78 185.55M81 189.65L81 185.55M84 189.65L84 185.55M87 189.65L87 185.55M90 189.65L90 185.55M93 189.65L93 185.55M96 189.65L96 185.55M99 189.65L99 185.55M102 189.65L102 185.55M105 189.65L105 185.55M108 189.65L108 185.55M111 189.65L111 185.55" stroke="#f00000" stroke-width="1.4" stroke-opacity="0.75" fill="none"/>
<path d="M115.4 189.9L116.6 185.8M117.3 190.39L118.5 186.29M119.2 190.86L120.4 186.76M121.1 191.34L122.3 187.24M123 191.82L124.2 187.72M124.9 192.29L126.1 188.19M126.8 192.76L128 188.66M128.7 193.23L129.9 189.13M130.6 193.7L131.8 189.6M132.5 194.17L133.7 190.07M134.4 194.63L135.6 190.53M136.3 195.1L137.5 191M138.2 195.56L139.4 191.46M140.1 196.03L141.3 191.93M142 196.52L143.2 192.42M143.9 196.96L145.1 192.86M145.8 197.29L147 193.19M147.7 197.61L148.9 193.51M149.6 197.91L150.8 193.81" stroke="#d00000" stroke-width="0.9" stroke-opacity="0.9" fill="none"/>
<path d="M230.4 211.44L231.6 207.34M232.3 211.61L233.5 207.51M234.2 211.79L235.4 207.69M236.1 211.98L237.3 207.88M238 212.18L239.2 208.08M239.9 212.39L241.1 208.29M241.8 212.61L243 208.51M243.7 212.85L244.9 208.75M245.6 213.1L246.8 209M247.5 213.37L248.7 209.27M249.4 213.65L250.6 209.55M251.3 213.96L252.5 209.86M253.2 214.3L254.4 210.2M255.1 214.66L256.3 210.56M257 215.05L258.2 210.95M258.9 215.47L260.1 211.37M260.8 215.92L262 211.82M262.7 216.39L263.9 212.29M264.6 216.88L265.8 212.78M266.5 217.39L267.7 213.29M268.4 217.92L269.6 213.82M270.3 218.48L271.5 214.38M272.2 219.05L273.4 214.95" stroke="#e02000" stroke-width="0.75" stroke-opacity="0.6" fill="none"/>
<rect x="330.4" y="185.3" width="5.6" height="35.5" fill="url(#cb8)"/>
<text x="336.8" y="189" font-size="9" font-family="Liberation Serif">1.0</text>
<text x="337.4" y="224" font-size="9" font-family="Liberation Serif">0</text>
<path d="M42.2 60.4V146.3M42.2 60.4H319.8M42.2 146.3H319.8" fill="none" stroke="#222" stroke-width="1.2"/>
<line x1="319.8" y1="59.8" x2="319.8" y2="151.1" stroke="#6a6a6a" stroke-width="1.4"/>
<line x1="42.2" y1="146.3" x2="42.2" y2="151.5" stroke="#222" stroke-width="1"/>
<line x1="88.47" y1="146.3" x2="88.47" y2="149.5" stroke="#222" stroke-width="1"/>
<line x1="134.73" y1="146.3" x2="134.73" y2="151.5" stroke="#222" stroke-width="1"/>
<line x1="181" y1="146.3" x2="181" y2="149.5" stroke="#222" stroke-width="1"/>
<line x1="227.27" y1="146.3" x2="227.27" y2="151.5" stroke="#222" stroke-width="1"/>
<line x1="273.53" y1="146.3" x2="273.53" y2="149.5" stroke="#222" stroke-width="1"/>
<line x1="319.8" y1="146.3" x2="319.8" y2="151.5" stroke="#222" stroke-width="1"/>
<text x="42.3" y="161.2" font-size="9" text-anchor="middle" font-family="Liberation Serif">0</text>
<text x="134.6" y="161.2" font-size="9" text-anchor="middle" font-family="Liberation Serif">4</text>
<text x="227.6" y="161.2" font-size="9" text-anchor="middle" font-family="Liberation Serif">8</text>
<text x="320.8" y="161.2" font-size="9" text-anchor="middle" font-family="Liberation Serif">12</text>
<line x1="38.8" y1="139.8" x2="42.2" y2="139.8" stroke="#222" stroke-width="1"/>
<line x1="38.8" y1="123.35" x2="42.2" y2="123.35" stroke="#222" stroke-width="1"/>
<line x1="38.8" y1="106.9" x2="42.2" y2="106.9" stroke="#222" stroke-width="1"/>
<line x1="38.8" y1="90.45" x2="42.2" y2="90.45" stroke="#222" stroke-width="1"/>
<line x1="38.8" y1="74" x2="42.2" y2="74" stroke="#222" stroke-width="1"/>
<text x="35.3" y="144.2" font-size="9.5" text-anchor="end" font-family="Liberation Serif">0</text>
<text x="35.3" y="111.3" font-size="9.5" text-anchor="end" font-family="Liberation Serif">0.5</text>
<text x="35.3" y="78.4" font-size="9.5" text-anchor="end" font-family="Liberation Serif">1.0</text>
<text x="182" y="168" font-size="10.6" text-anchor="middle" font-family="Liberation Serif">Distance <tspan font-style="italic">x</tspan> (μm)</text>
<text transform="translate(7.2 107.2) rotate(-90)" font-size="9.7" text-anchor="middle" style="stroke-width:0.08px" font-family="Liberation Serif">Normalized</text>
<text transform="translate(18.3 105.7) rotate(-90)" font-size="9.3" text-anchor="middle" style="stroke-width:0.08px" font-family="Liberation Serif">spin-wave power</text>
<text x="317.3" y="73" font-size="9.5" text-anchor="end" font-family="Liberation Serif">Counter-Intuitive</text>
<path d="M41.6 240.2V323.2M41.6 240.2H322.9M41.6 323.2H322.9" fill="none" stroke="#222" stroke-width="1.2"/>
<line x1="322.9" y1="239.6" x2="322.9" y2="328" stroke="#6a6a6a" stroke-width="1.4"/>
<line x1="41.6" y1="323.2" x2="41.6" y2="328.4" stroke="#222" stroke-width="1"/>
<line x1="88.48" y1="323.2" x2="88.48" y2="326.4" stroke="#222" stroke-width="1"/>
<line x1="135.37" y1="323.2" x2="135.37" y2="328.4" stroke="#222" stroke-width="1"/>
<line x1="182.25" y1="323.2" x2="182.25" y2="326.4" stroke="#222" stroke-width="1"/>
<line x1="229.13" y1="323.2" x2="229.13" y2="328.4" stroke="#222" stroke-width="1"/>
<line x1="276.02" y1="323.2" x2="276.02" y2="326.4" stroke="#222" stroke-width="1"/>
<line x1="322.9" y1="323.2" x2="322.9" y2="328.4" stroke="#222" stroke-width="1"/>
<text x="40.7" y="339.3" font-size="9" text-anchor="middle" font-family="Liberation Serif">0</text>
<text x="134.2" y="339.3" font-size="9" text-anchor="middle" font-family="Liberation Serif">4</text>
<text x="228" y="339.3" font-size="9" text-anchor="middle" font-family="Liberation Serif">8</text>
<text x="320.8" y="339.3" font-size="9" text-anchor="middle" font-family="Liberation Serif">12</text>
<line x1="38.2" y1="316.5" x2="41.6" y2="316.5" stroke="#222" stroke-width="1"/>
<line x1="38.2" y1="299.3" x2="41.6" y2="299.3" stroke="#222" stroke-width="1"/>
<line x1="38.2" y1="282.1" x2="41.6" y2="282.1" stroke="#222" stroke-width="1"/>
<line x1="38.2" y1="264.9" x2="41.6" y2="264.9" stroke="#222" stroke-width="1"/>
<line x1="38.2" y1="247.7" x2="41.6" y2="247.7" stroke="#222" stroke-width="1"/>
<text x="35.3" y="320.9" font-size="9.5" text-anchor="end" font-family="Liberation Serif">0</text>
<text x="35.3" y="286.5" font-size="9.5" text-anchor="end" font-family="Liberation Serif">0.5</text>
<text x="35.3" y="252.1" font-size="9.5" text-anchor="end" font-family="Liberation Serif">1.0</text>
<text x="182" y="347.6" font-size="10.6" text-anchor="middle" font-family="Liberation Serif">Distance <tspan font-style="italic">x</tspan> (μm)</text>
<text transform="translate(8 287) rotate(-90)" font-size="9.7" text-anchor="middle" style="stroke-width:0.08px" font-family="Liberation Serif">Normalized</text>
<text transform="translate(19 286.2) rotate(-90)" font-size="9.3" text-anchor="middle" style="stroke-width:0.08px" font-family="Liberation Serif">spin-wave power</text>
<text x="316.8" y="251.6" font-size="9.5" text-anchor="end" font-family="Liberation Serif">Intuitive</text>
<text x="68.0" y="94.3" font-size="9.8" font-family="Liberation Serif">Sim.</text>
<text x="93.0" y="94.3" font-size="9.8" font-family="Liberation Serif">Model</text>
<text x="63.6" y="107.2" font-size="9.8" word-spacing="-1.6" text-anchor="end" font-family="Liberation Serif">W 1</text>
<line x1="67.5" y1="103.8" x2="86.9" y2="103.8" stroke="#4c4cc8" stroke-width="1.9"/>
<line x1="97" y1="103.8" x2="116.2" y2="103.8" stroke="#0000ff" stroke-width="2" stroke-dasharray="3.8 1.95"/>
<text x="63.6" y="120.6" font-size="9.8" word-spacing="-1.6" text-anchor="end" font-family="Liberation Serif">W 2</text>
<line x1="67.5" y1="117.2" x2="86.9" y2="117.2" stroke="#e0507a" stroke-width="1.9"/>
<line x1="97" y1="117.2" x2="116.2" y2="117.2" stroke="#ff0000" stroke-width="2" stroke-dasharray="3.8 1.95"/>
<text x="63.6" y="134.2" font-size="9.8" word-spacing="-1.6" text-anchor="end" font-family="Liberation Serif">W 3</text>
<line x1="67.5" y1="130.8" x2="86.9" y2="130.8" stroke="#444444" stroke-width="1.9"/>
<line x1="97" y1="130.8" x2="116.2" y2="130.8" stroke="#000000" stroke-width="2" stroke-dasharray="3.8 1.95"/>
<text x="68.0" y="273.4" font-size="9.8" font-family="Liberation Serif">Sim.</text>
<text x="93.0" y="273.4" font-size="9.8" font-family="Liberation Serif">Model</text>
<text x="61.4" y="285.7" font-size="9.8" word-spacing="-1.6" text-anchor="end" font-family="Liberation Serif">W1</text>
<line x1="67.6" y1="282.3" x2="87" y2="282.3" stroke="#4c4cc8" stroke-width="1.9"/>
<line x1="97" y1="282.3" x2="116.2" y2="282.3" stroke="#0000ff" stroke-width="2" stroke-dasharray="3.8 1.95"/>
<text x="61.4" y="299.2" font-size="9.8" word-spacing="-1.6" text-anchor="end" font-family="Liberation Serif">W2</text>
<line x1="67.6" y1="295.8" x2="87" y2="295.8" stroke="#e0507a" stroke-width="1.9"/>
<line x1="97" y1="295.8" x2="116.2" y2="295.8" stroke="#ff0000" stroke-width="2" stroke-dasharray="3.8 1.95"/>
<text x="61.4" y="312.4" font-size="9.8" word-spacing="-1.6" text-anchor="end" font-family="Liberation Serif">W3</text>
<line x1="67.6" y1="309" x2="87" y2="309" stroke="#444444" stroke-width="1.9"/>
<line x1="97" y1="309" x2="116.2" y2="309" stroke="#000000" stroke-width="2" stroke-dasharray="3.8 1.95"/>
<g clip-path="url(#clipA)">
<polyline points="42.2,139.8 42.55,139.8 42.9,139.8 43.25,139.8 43.6,139.8 43.95,139.8 44.3,139.8 44.65,139.8 45,139.8 45.35,139.8 45.7,139.8 46.05,139.8 46.4,139.8 46.75,139.8 47.1,139.8 47.45,139.8 47.8,139.8 48.15,139.8 48.5,139.8 48.85,139.8 49.2,139.8 49.55,139.8 49.9,139.8 50.25,139.8 50.6,139.8 50.95,139.8 51.3,139.8 51.65,139.8 52,139.8 52.35,139.8 52.7,139.8 53.05,139.8 53.4,139.8 53.75,139.8 54.1,139.8 54.45,139.8 54.8,139.8 55.15,139.8 55.5,139.8 55.85,139.8 56.2,139.8 56.55,139.8 56.9,139.8 57.25,139.8 57.6,139.8 57.95,139.8 58.3,139.8 58.65,139.8 59,139.8 59.35,139.8 59.7,139.8 60.05,139.8 60.4,139.8 60.75,139.8 61.1,139.8 61.45,139.8 61.8,139.8 62.15,139.8 62.5,139.8 62.85,139.8 63.2,139.8 63.55,139.8 63.9,139.8 64.25,139.8 64.6,139.8 64.95,139.8 65.3,139.8 65.65,139.8 66,139.8 66.35,139.8 66.7,139.8 67.05,139.8 67.4,139.8 67.75,139.8 68.1,139.8 68.45,139.8 68.8,139.8 69.15,139.8 69.5,139.8 69.85,139.8 70.2,139.8 70.55,139.8 70.9,139.8 71.25,139.8 71.6,139.8 71.95,139.8 72.3,139.8 72.65,139.8 73,139.8 73.35,139.8 73.7,139.8 74.05,139.8 74.4,139.8 74.75,139.8 75.1,139.8 75.45,139.8 75.8,139.8 76.15,139.8 76.5,139.8 76.85,139.8 77.2,139.8 77.55,139.8 77.9,139.8 78.25,139.8 78.6,139.8 78.95,139.8 79.3,139.8 79.65,139.8 80,139.8 80.35,139.8 80.7,139.8 81.05,139.8 81.4,139.79 81.75,139.79 82.1,139.79 82.45,139.79 82.8,139.79 83.15,139.79 83.5,139.79 83.85,139.79 84.2,139.79 84.55,139.79 84.9,139.79 85.25,139.79 85.6,139.79 85.95,139.79 86.3,139.79 86.65,139.79 87,139.79 87.35,139.79 87.7,139.79 88.05,139.79 88.4,139.79 88.75,139.79 89.1,139.79 89.45,139.79 89.8,139.79 90.15,139.79 90.5,139.79 90.85,139.79 91.2,139.79 91.55,139.79 91.9,139.79 92.25,139.79 92.6,139.79 92.95,139.79 93.3,139.79 93.65,139.79 94,139.79 94.35,139.79 94.7,139.79 95.05,139.79 95.4,139.79 95.75,139.79 96.1,139.79 96.45,139.79 96.8,139.79 97.15,139.79 97.5,139.79 97.85,139.79 98.2,139.79 98.55,139.79 98.9,139.79 99.25,139.79 99.6,139.79 99.95,139.79 100.3,139.79 100.65,139.79 101,139.79 101.35,139.79 101.7,139.79 102.05,139.79 102.4,139.79 102.75,139.78 103.1,139.78 103.45,139.78 103.8,139.78 104.15,139.78 104.5,139.78 104.85,139.78 105.2,139.78 105.55,139.78 105.9,139.78 106.25,139.78 106.6,139.78 106.95,139.78 107.3,139.78 107.65,139.78 108,139.78 108.35,139.78 108.7,139.78 109.05,139.78 109.4,139.78 109.75,139.78 110.1,139.78 110.45,139.78 110.8,139.78 111.15,139.78 111.5,139.78 111.85,139.78 112.2,139.78 112.55,139.78 112.9,139.78 113.25,139.78 113.6,139.78 113.95,139.78 114.3,139.78 114.65,139.78 115,139.78 115.35,139.78 115.7,139.77 116.05,139.77 116.4,139.77 116.75,139.77 117.1,139.77 117.45,139.77 117.8,139.77 118.15,139.77 118.5,139.77 118.85,139.77 119.2,139.77 119.55,139.77 119.9,139.77 120.25,139.77 120.6,139.77 120.95,139.77 121.3,139.77 121.65,139.77 122,139.77 122.35,139.77 122.7,139.77 123.05,139.77 123.4,139.77 123.75,139.77 124.1,139.77 124.45,139.77 124.8,139.77 125.15,139.77 125.5,139.76 125.85,139.76 126.2,139.76 126.55,139.76 126.9,139.76 127.25,139.76 127.6,139.76 127.95,139.76 128.3,139.76 128.65,139.76 129,139.76 129.35,139.76 129.7,139.76 130.05,139.76 130.4,139.76 130.75,139.76 131.1,139.76 131.45,139.76 131.8,139.76 132.15,139.76 132.5,139.76 132.85,139.76 133.2,139.76 133.55,139.76 133.9,139.75 134.25,139.75 134.6,139.75 134.95,139.75 135.3,139.75 135.65,139.75 136,139.75 136.35,139.75 136.7,139.75 137.05,139.75 137.4,139.75 137.75,139.75 138.1,139.75 138.45,139.75 138.8,139.75 139.15,139.75 139.5,139.75 139.85,139.75 140.2,139.75 140.55,139.75 140.9,139.74 141.25,139.74 141.6,139.74 141.95,139.74 142.3,139.74 142.65,139.74 143,139.74 143.35,139.74 143.7,139.74 144.05,139.74 144.4,139.74 144.75,139.74 145.1,139.74 145.45,139.74 145.8,139.74 146.15,139.74 146.5,139.74 146.85,139.74 147.2,139.73 147.55,139.73 147.9,139.73 148.25,139.73 148.6,139.73 148.95,139.73 149.3,139.73 149.65,139.73 150,139.73 150.35,139.73 150.7,139.73 151.05,139.73 151.4,139.73 151.75,139.73 152.1,139.73 152.45,139.73 152.8,139.72 153.15,139.72 153.5,139.72 153.85,139.72 154.2,139.72 154.55,139.72 154.9,139.72 155.25,139.72 155.6,139.72 155.95,139.72 156.3,139.72 156.65,139.72 157,139.72 157.35,139.72 157.7,139.72 158.05,139.71 158.4,139.71 158.75,139.71 159.1,139.71 159.45,139.71 159.8,139.71 160.15,139.71 160.5,139.71 160.85,139.71 161.2,139.71 161.55,139.71 161.9,139.71 162.25,139.71 162.6,139.71 162.95,139.7 163.3,139.7 163.65,139.7 164,139.7 164.35,139.7 164.7,139.7 165.05,139.7 165.4,139.69 165.75,139.68 166.1,139.66 166.45,139.64 166.8,139.61 167.15,139.57 167.5,139.52 167.85,139.47 168.2,139.42 168.55,139.36 168.9,139.29 169.25,139.22 169.6,139.14 169.95,139.06 170.3,138.98 170.65,138.89 171,138.79 171.35,138.69 171.7,138.59 172.05,138.48 172.4,138.38 172.75,138.26 173.1,138.15 173.45,138.03 173.8,137.91 174.15,137.78 174.5,137.66 174.85,137.53 175.2,137.4 175.55,137.26 175.9,137.13 176.25,136.99 176.6,136.86 176.95,136.72 177.3,136.57 177.65,136.41 178,136.22 178.35,136.02 178.7,135.8 179.05,135.57 179.4,135.32 179.75,135.06 180.1,134.78 180.45,134.5 180.8,134.2 181.15,133.89 181.5,133.58 181.85,133.26 182.2,132.93 182.55,132.6 182.9,132.26 183.25,131.92 183.6,131.57 183.95,131.23 184.3,130.89 184.65,130.54 185,130.2 185.35,129.62 185.7,128.83 186.05,128.38 186.4,128.61 186.75,129.35 187.1,129.87 187.45,129.41 187.8,127.72 188.15,125.36 188.5,123.45 188.85,123.05 189.2,124.39 189.55,126.63 189.9,128.28 190.25,128.01 190.6,125.52 190.95,121.81 191.3,118.66 191.65,117.66 192,119.25 192.35,122.4 192.7,125.14 193.05,125.59 193.4,123.1 193.75,118.63 194.1,114.3 194.45,112.23 194.8,113.36 195.15,116.88 195.5,120.57 195.85,122.04 196.2,119.98 196.55,115 196.9,109.36 197.25,105.79 197.6,106.01 197.95,109.7 198.3,114.57 198.65,117.51 199,116.3 199.35,110.91 199.7,103.7 200.05,98.18 200.4,97.14 200.75,101.01 201.1,107.46 201.45,112.57 201.8,112.93 202.15,107.64 202.5,98.96 202.85,91.21 203.2,88.39 203.55,91.93 203.9,99.73 204.25,107.19 204.6,109.69 204.95,105.22 205.3,95.62 205.65,85.68 206,80.54 206.35,82.89 206.7,91.38 207.05,101.14 207.4,106.37 207.75,103.55 208.1,93.57 208.45,81.41 208.8,73.47 209.15,74.04 209.5,82.75 209.85,94.68 210.2,103.01 210.55,102.78 210.9,93.86 211.25,81.01 211.6,71.33 211.95,70.04 212.3,77.38 212.65,88.69 213,97.39 213.35,98.87 213.7,92.89 214.05,83.33 214.4,75.58 214.75,73.46 215.1,77.37 215.45,84.54 215.8,90.93 216.15,93.4 216.5,91.02 216.85,85.56 217.2,80.28 217.55,77.97 217.9,79.51 218.25,83.66 218.6,88 218.95,90.34 219.3,89.76 219.65,86.83 220,83.16 220.35,80.64 220.7,80.64 221.05,83.22 221.4,87.04 221.75,90.05 222.1,90.58 222.45,88.28 222.8,84.3 223.15,80.82 223.5,79.82 223.85,81.98 224.2,86.25 224.55,90.41 224.9,92.19 225.25,90.38 225.6,85.68 225.95,80.48 226.3,77.74 226.65,79.33 227,84.82 227.35,91.41 227.7,95.38 228.05,94.19 228.4,88.12 228.75,80.34 229.1,75.25 229.45,75.91 229.8,82.26 230.15,91.05 230.5,97.48 230.85,97.81 231.2,91.55 231.55,81.94 231.9,74.26 232.25,72.95 232.6,79.04 232.95,89.4 233.3,98.38 233.65,100.9 234,95.43 234.35,84.9 234.7,75.14 235.05,71.63 235.4,76.35 235.75,86.7 236.1,96.97 236.45,101.56 236.8,98.04 237.15,88.45 237.5,78.14 237.85,72.75 238.2,75.16 238.55,83.97 238.9,94.34 239.25,100.64 239.6,99.5 239.95,91.61 240.3,81.24 240.65,73.66 241,73.05 241.35,80.47 241.7,92.72 242.05,103.32 242.4,105.79 242.75,97.71 243.1,82.84 243.45,69.5 243.8,65.74 244.15,74.11 244.5,89.79 244.85,103.74 245.2,108.22 245.55,101.28 245.9,87.51 246.25,74.98 246.6,70.35 246.95,75.26 247.3,85.97 247.65,95.63 248,98.74 248.35,95.07 248.7,89.04 249.05,85.76 249.4,86.88 249.75,87.71 250.1,87.73 250.45,87.75 250.8,87.77 251.15,87.79 251.5,87.82 251.85,87.84 252.2,87.86 252.55,87.88 252.9,87.9 253.25,87.92 253.6,87.94 253.95,87.95 254.3,87.97 254.65,87.99 255,88.01 255.35,88.03 255.7,88.05 256.05,88.07 256.4,88.09 256.75,88.1 257.1,88.12 257.45,88.14 257.8,88.16 258.15,88.18 258.5,88.19 258.85,88.21 259.2,88.23 259.55,88.25 259.9,88.26 260.25,88.28 260.6,88.3 260.95,88.31 261.3,88.33 261.65,88.35 262,88.37 262.35,88.38 262.7,88.4 263.05,88.42 263.4,88.43 263.75,88.45 264.1,88.47 264.45,88.48 264.8,88.5 265.15,88.52 265.5,88.53 265.85,88.55 266.2,88.57 266.55,88.58 266.9,88.6 267.25,88.62 267.6,88.63 267.95,88.65 268.3,88.67 268.65,88.68 269,88.7 269.35,88.72 269.7,88.73 270.05,88.75 270.4,88.77 270.75,88.78 271.1,88.8 271.45,88.82 271.8,88.84 272.15,88.85 272.5,88.87 272.85,88.89 273.2,88.91 273.55,88.92 273.9,88.94 274.25,88.96 274.6,88.98 274.95,89 275.3,89.02 275.65,89.03 276,89.05 276.35,89.07 276.7,89.09 277.05,89.11 277.4,89.13 277.75,89.14 278.1,89.16 278.45,89.18 278.8,89.2 279.15,89.22 279.5,89.24 279.85,89.25 280.2,89.27 280.55,89.29 280.9,89.31 281.25,89.33 281.6,89.35 281.95,89.36 282.3,89.38 282.65,89.4 283,89.42 283.35,89.44 283.7,89.45 284.05,89.47 284.4,89.49 284.75,89.51 285.1,89.53 285.45,89.54 285.8,89.56 286.15,89.58 286.5,89.6 286.85,89.62 287.2,89.63 287.55,89.65 287.9,89.67 288.25,89.69 288.6,89.7 288.95,89.72 289.3,89.74 289.65,89.76 290,89.78 290.35,89.79 290.7,89.81 291.05,89.83 291.4,89.85 291.75,89.86 292.1,89.88 292.45,89.9 292.8,89.92 293.15,89.93 293.5,89.95 293.85,89.97 294.2,89.99 294.55,90 294.9,90.02 295.25,90.04 295.6,90.05 295.95,90.07 296.3,90.09 296.65,90.11 297,90.12 297.35,90.14 297.7,90.16 298.05,90.18 298.4,90.19 298.75,90.21 299.1,90.23 299.45,90.24 299.8,90.26 300.15,90.28 300.5,90.29 300.85,90.31 301.2,90.33 301.55,90.35 301.9,90.36 302.25,90.38 302.6,90.4 302.95,90.41 303.3,90.43 303.65,90.45 304,90.46 304.35,90.48 304.7,90.5 305.05,90.51 305.4,90.53 305.75,90.55 306.1,90.56 306.45,90.58 306.8,90.6 307.15,90.61 307.5,90.63 307.85,90.65 308.2,90.66 308.55,90.68 308.9,90.69 309.25,90.71 309.6,90.73 309.95,90.74 310.3,90.76 310.65,90.78 311,90.79 311.35,90.81 311.7,90.82 312.05,90.84 312.4,90.86 312.75,90.87 313.1,90.89 313.45,90.91 313.8,90.92 314.15,90.94 314.5,90.95 314.85,90.97 315.2,90.98 315.55,91 315.9,91.02 316.25,91.03 316.6,91.05 316.95,91.06 317.3,91.08 317.65,91.1 318,91.11 318.35,91.13 318.7,91.14 319.05,91.16 319.4,91.17 319.75,91.19" fill="none" stroke="#4d4dd6" stroke-width="1.2" stroke-linejoin="round" stroke-opacity="0.85"/>
<polyline points="42.2,48 42.55,48.7 42.9,50.65 43.25,53.02 43.6,55.74 43.95,58.75 44.3,62 44.65,66.42 45,72.4 45.35,79.02 45.7,85.38 46.05,90.6 46.4,93.76 46.75,93.91 47.1,90.44 47.45,84.48 47.8,77.36 48.15,70.44 48.5,65.05 48.85,62.54 49.2,63.19 49.55,65.4 49.9,68.59 50.25,72.19 50.6,75.62 50.95,78.32 51.3,79.72 51.65,79.4 52,77.76 52.35,75.38 52.7,72.85 53.05,70.72 53.4,69.57 53.75,69.78 54.1,70.93 54.45,72.65 54.8,74.58 55.15,76.35 55.5,77.6 55.85,77.99 56.2,77.43 56.55,76.25 56.9,74.75 57.25,73.25 57.6,72.07 57.95,71.51 58.3,71.76 58.65,72.57 59,73.72 59.35,74.96 59.7,76.07 60.05,76.82 60.4,76.97 60.75,76.51 61.1,75.65 61.45,74.6 61.8,73.58 62.15,72.81 62.5,72.5 62.85,72.6 63.2,72.9 63.55,73.4 63.9,74.11 64.25,75.05 64.6,77.86 64.95,76.67 65.3,75.49 65.65,74.31 66,73.13 66.35,73.56 66.7,74.78 67.05,76 67.4,77.22 67.75,77.62 68.1,76.43 68.45,75.25 68.8,74.07 69.15,72.92 69.5,74.14 69.85,75.36 70.2,76.58 70.55,77.8 70.9,77.37 71.25,76.19 71.6,75.01 71.95,73.83 72.3,73.5 72.65,74.72 73,75.94 73.35,77.16 73.7,78.31 74.05,77.13 74.4,75.95 74.75,74.77 75.1,73.58 75.45,74.08 75.8,75.3 76.15,76.52 76.5,77.74 76.85,78.07 77.2,76.89 77.55,75.71 77.9,74.53 78.25,73.45 78.6,74.67 78.95,75.89 79.3,77.11 79.65,78.33 80,77.83 80.35,76.65 80.7,75.47 81.05,74.29 81.4,74.03 81.75,75.25 82.1,76.47 82.45,77.69 82.8,78.78 83.15,77.6 83.5,76.41 83.85,75.23 84.2,74.05 84.55,74.62 84.9,75.84 85.25,77.06 85.6,78.28 85.95,78.54 86.3,77.36 86.65,76.18 87,75 87.35,73.99 87.7,75.21 88.05,76.43 88.4,77.66 88.75,78.88 89.1,78.31 89.45,77.13 89.8,75.95 90.15,74.77 90.5,74.59 90.85,75.81 91.2,77.03 91.55,78.26 91.9,79.27 92.25,78.09 92.6,76.91 92.95,75.73 93.3,74.55 93.65,75.19 94,76.42 94.35,77.64 94.7,78.86 95.05,79.06 95.4,77.88 95.75,76.7 96.1,75.52 96.45,74.58 96.8,75.81 97.15,77.03 97.5,78.26 97.85,79.48 98.2,78.85 98.55,77.67 98.9,76.5 99.25,75.32 99.6,75.2 99.95,76.43 100.3,77.66 100.65,78.88 101,79.83 101.35,78.66 101.7,77.48 102.05,76.3 102.4,75.13 102.75,75.84 103.1,77.07 103.45,78.3 103.8,79.52 104.15,79.65 104.5,78.48 104.85,77.3 105.2,76.13 105.55,75.27 105.9,76.49 106.25,77.72 106.6,78.95 106.95,80.18 107.3,79.49 107.65,78.32 108,77.14 108.35,75.97 108.7,75.93 109.05,77.16 109.4,78.39 109.75,79.62 110.1,80.51 110.45,79.34 110.8,78.17 111.15,77 111.5,75.83 111.85,76.61 112.2,77.84 112.55,79.07 112.9,80.31 113.25,80.37 113.6,79.2 113.95,78.03 114.3,76.86 114.65,76.06 115,77.3 115.35,78.53 115.7,79.76 116.05,80.99 116.4,80.23 116.75,79.06 117.1,77.89 117.45,76.72 117.8,76.75 118.15,77.99 118.5,79.22 118.85,80.45 119.2,81.27 119.55,80.1 119.9,78.93 120.25,77.76 120.6,76.59 120.95,77.44 121.3,78.68 121.65,79.91 122,81.14 122.35,81.14 122.7,79.97 123.05,78.8 123.4,77.62 123.75,76.9 124.1,78.13 124.45,79.36 124.8,80.59 125.15,81.83 125.5,81 125.85,79.83 126.2,78.65 126.55,77.48 126.9,77.58 127.25,78.81 127.6,80.04 127.95,81.27 128.3,82.02 128.65,80.85 129,79.68 129.35,78.5 129.7,77.33 130.05,78.25 130.4,79.48 130.75,80.71 131.1,81.94 131.45,81.86 131.8,80.68 132.15,79.51 132.5,78.33 132.85,77.67 133.2,78.89 133.55,80.12 133.9,81.34 134.25,82.57 134.6,81.66 134.95,80.49 135.3,79.31 135.65,78.13 136,78.28 136.35,79.51 136.7,80.73 137.05,81.95 137.4,82.62 137.75,81.44 138.1,80.26 138.45,79.08 138.8,77.9 139.15,77.6 139.5,79.33 139.85,86.66 140.2,94.93 140.55,95.38 140.9,85.1 141.25,70.37 141.6,61.1 141.95,62.74 142.3,74.55 142.65,90.07 143,100.57 143.35,99.99 143.7,88.46 144.05,72.35 144.4,60.73 144.75,60.21 145.1,71.21 145.45,87.6 145.8,100.19 146.15,101.89 146.5,91.62 146.85,75.85 147.2,64.07 147.55,62.58 147.9,71.04 148.25,83.52 148.6,92.8 148.95,94.54 149.3,89.01 149.65,79.92 150,71.96 150.35,68.98 150.7,72.64 151.05,81.21 151.4,90.19 151.75,94.53 152.1,91.43 152.45,82.12 152.8,71.57 153.15,65.86 153.5,68.7 153.85,78.97 154.2,91.04 154.55,97.95 154.9,95.53 155.25,85.08 155.6,72.64 155.95,65.27 156.3,67.06 156.65,76.78 157,88.79 157.35,96.36 157.7,95.51 158.05,87.09 158.4,76.09 158.75,68.67 159.1,68.73 159.45,75.92 159.8,85.93 160.15,93.1 160.5,93.68 160.85,87.86 161.2,79.3 161.55,72.9 161.9,71.96 162.25,76.53 162.6,83.71 162.95,89.47 163.3,90.86 163.65,87.5 164,81.67 164.35,76.81 164.7,75.46 165.05,78 165.4,82.63 165.75,86.68 166.1,88.1 166.45,86.53 166.8,83.19 167.15,80.08 167.5,78.82 167.85,79.94 168.2,82.74 168.55,85.77 168.9,87.56 169.25,87.22 169.6,84.81 169.95,81.49 170.3,79.14 170.65,79.4 171,82.68 171.35,87.6 171.7,91.49 172.05,91.87 172.4,88.09 172.75,81.99 173.1,77.11 173.45,76.55 173.8,81.33 174.15,89.54 174.5,96.85 174.85,98.76 175.2,93.45 175.55,83.38 175.9,74.34 176.25,72.04 176.6,78.48 176.95,90.3 177.3,100.73 177.65,103.91 178,98.28 178.35,87.34 178.7,77.49 179.05,74.3 179.4,79.45 179.75,89.98 180.1,100.12 180.45,104.52 180.8,101.1 181.15,91.97 181.5,82.35 181.85,77.78 182.2,81 182.55,90.39 182.9,100.9 183.25,106.85 183.6,105.1 183.95,96.83 184.3,86.87 184.65,80.99 185,82.67 185.35,91.21 185.7,102.03 186.05,109.32 186.4,109.22 186.75,102.03 187.1,92.04 187.45,85.09 187.8,85.32 188.15,92.81 188.5,103.59 188.85,111.89 189.2,113.4 189.55,107.62 189.9,98.14 190.25,90.56 190.6,89.38 190.95,95.49 191.3,105.69 191.65,114.6 192,117.58 192.35,113.37 192.7,104.72 193.05,96.82 193.4,94.38 193.75,99.01 194.1,108.37 194.45,117.52 194.8,121.72 195.15,119.06 195.5,111.48 195.85,103.64 196.2,100.24 196.55,103.44 196.9,111.68 197.25,120.63 197.6,125.72 197.95,124.61 198.3,118.51 198.65,111.4 199,107.7 199.35,109.72 199.7,116.46 200.05,124.36 200.4,129.5 200.75,129.8 201.1,126.02 201.45,121.11 201.8,118.4 202.15,119.66 202.5,124.32 202.85,129.98 203.2,133.96 203.55,134.82 203.9,132.92 204.25,130.07 204.6,128.36 204.95,128.9 205.3,131.37 205.65,134.39 206,136.51 206.35,137.08 206.7,136.5 207.05,135.75 207.4,135.63 207.75,136.25 208.1,136.92 208.45,137.26 208.8,137.58 209.15,137.89 209.5,138.17 209.85,138.43 210.2,138.66 210.55,138.87 210.9,139.03 211.25,139.16 211.6,139.25 211.95,139.3 212.3,139.31 212.65,139.33 213,139.34 213.35,139.35 213.7,139.36 214.05,139.37 214.4,139.39 214.75,139.4 215.1,139.41 215.45,139.42 215.8,139.43 216.15,139.44 216.5,139.45 216.85,139.46 217.2,139.47 217.55,139.47 217.9,139.48 218.25,139.49 218.6,139.5 218.95,139.5 219.3,139.51 219.65,139.52 220,139.52 220.35,139.53 220.7,139.53 221.05,139.54 221.4,139.55 221.75,139.55 222.1,139.55 222.45,139.56 222.8,139.56 223.15,139.57 223.5,139.57 223.85,139.57 224.2,139.58 224.55,139.58 224.9,139.58 225.25,139.58 225.6,139.59 225.95,139.59 226.3,139.59 226.65,139.59 227,139.59 227.35,139.6 227.7,139.6 228.05,139.6 228.4,139.6 228.75,139.6 229.1,139.6 229.45,139.6 229.8,139.6 230.15,139.6 230.5,139.6 230.85,139.6 231.2,139.6 231.55,139.6 231.9,139.6 232.25,139.6 232.6,139.6 232.95,139.6 233.3,139.6 233.65,139.6 234,139.6 234.35,139.6 234.7,139.6 235.05,139.6 235.4,139.6 235.75,139.6 236.1,139.6 236.45,139.6 236.8,139.6 237.15,139.6 237.5,139.6 237.85,139.6 238.2,139.6 238.55,139.6 238.9,139.6 239.25,139.6 239.6,139.6 239.95,139.6 240.3,139.6 240.65,139.6 241,139.6 241.35,139.6 241.7,139.6 242.05,139.6 242.4,139.6 242.75,139.6 243.1,139.6 243.45,139.6 243.8,139.6 244.15,139.6 244.5,139.6 244.85,139.6 245.2,139.6 245.55,139.6 245.9,139.6 246.25,139.6 246.6,139.6 246.95,139.6 247.3,139.6 247.65,139.6 248,139.6 248.35,139.6 248.7,139.6 249.05,139.6 249.4,139.6 249.75,139.6 250.1,139.6 250.45,139.6 250.8,139.6 251.15,139.6 251.5,139.6 251.85,139.6 252.2,139.6 252.55,139.6 252.9,139.6 253.25,139.6 253.6,139.6 253.95,139.6 254.3,139.6 254.65,139.6 255,139.6 255.35,139.6 255.7,139.6 256.05,139.6 256.4,139.6 256.75,139.6 257.1,139.6 257.45,139.6 257.8,139.6 258.15,139.6 258.5,139.6 258.85,139.6 259.2,139.6 259.55,139.6 259.9,139.6 260.25,139.6 260.6,139.6 260.95,139.6 261.3,139.6 261.65,139.6 262,139.6 262.35,139.6 262.7,139.6 263.05,139.6 263.4,139.6 263.75,139.6 264.1,139.6 264.45,139.6 264.8,139.6 265.15,139.6 265.5,139.6 265.85,139.6 266.2,139.6 266.55,139.6 266.9,139.6 267.25,139.6 267.6,139.6 267.95,139.6 268.3,139.6 268.65,139.6 269,139.6 269.35,139.6 269.7,139.6 270.05,139.6 270.4,139.6 270.75,139.6 271.1,139.6 271.45,139.6 271.8,139.6 272.15,139.6 272.5,139.6 272.85,139.6 273.2,139.6 273.55,139.6 273.9,139.6 274.25,139.6 274.6,139.6 274.95,139.6 275.3,139.6 275.65,139.6 276,139.6 276.35,139.6 276.7,139.6 277.05,139.6 277.4,139.6 277.75,139.6 278.1,139.6 278.45,139.6 278.8,139.6 279.15,139.6 279.5,139.6 279.85,139.6 280.2,139.6 280.55,139.6 280.9,139.6 281.25,139.6 281.6,139.6 281.95,139.6 282.3,139.6 282.65,139.6 283,139.6 283.35,139.6 283.7,139.6 284.05,139.6 284.4,139.6 284.75,139.6 285.1,139.6 285.45,139.6 285.8,139.6 286.15,139.6 286.5,139.6 286.85,139.6 287.2,139.6 287.55,139.6 287.9,139.6 288.25,139.6 288.6,139.6 288.95,139.6 289.3,139.6 289.65,139.6 290,139.6 290.35,139.6 290.7,139.6 291.05,139.6 291.4,139.6 291.75,139.6 292.1,139.6 292.45,139.6 292.8,139.6 293.15,139.6 293.5,139.6 293.85,139.6 294.2,139.6 294.55,139.6 294.9,139.6 295.25,139.6 295.6,139.6 295.95,139.6 296.3,139.6 296.65,139.6 297,139.6 297.35,139.6 297.7,139.6 298.05,139.6 298.4,139.6 298.75,139.6 299.1,139.6 299.45,139.6 299.8,139.6 300.15,139.6 300.5,139.6 300.85,139.6 301.2,139.6 301.55,139.6 301.9,139.6 302.25,139.6 302.6,139.6 302.95,139.6 303.3,139.6 303.65,139.6 304,139.6 304.35,139.6 304.7,139.6 305.05,139.6 305.4,139.6 305.75,139.6 306.1,139.6 306.45,139.6 306.8,139.6 307.15,139.6 307.5,139.6 307.85,139.6 308.2,139.6 308.55,139.6 308.9,139.6 309.25,139.6 309.6,139.6 309.95,139.6 310.3,139.6 310.65,139.6 311,139.6 311.35,139.6 311.7,139.6 312.05,139.6 312.4,139.6 312.75,139.6 313.1,139.6 313.45,139.6 313.8,139.6 314.15,139.6 314.5,139.6 314.85,139.6 315.2,139.6 315.55,139.6 315.9,139.6 316.25,139.6 316.6,139.6 316.95,139.6 317.3,139.6 317.65,139.6 318,139.6 318.35,139.6 318.7,139.6 319.05,139.6 319.4,139.6 319.75,139.6" fill="none" stroke="#54547c" stroke-width="1.2" stroke-linejoin="round" stroke-opacity="0.85"/>
<polyline points="42.2,139.8 42.55,139.8 42.9,139.8 43.25,139.8 43.6,139.8 43.95,139.8 44.3,139.8 44.65,139.8 45,139.8 45.35,139.8 45.7,139.8 46.05,139.8 46.4,139.8 46.75,139.8 47.1,139.8 47.45,139.8 47.8,139.8 48.15,139.8 48.5,139.8 48.85,139.8 49.2,139.8 49.55,139.8 49.9,139.8 50.25,139.8 50.6,139.8 50.95,139.8 51.3,139.8 51.65,139.8 52,139.8 52.35,139.8 52.7,139.8 53.05,139.8 53.4,139.8 53.75,139.8 54.1,139.8 54.45,139.8 54.8,139.8 55.15,139.8 55.5,139.8 55.85,139.8 56.2,139.8 56.55,139.8 56.9,139.8 57.25,139.8 57.6,139.8 57.95,139.8 58.3,139.8 58.65,139.8 59,139.8 59.35,139.8 59.7,139.8 60.05,139.8 60.4,139.8 60.75,139.8 61.1,139.8 61.45,139.8 61.8,139.8 62.15,139.8 62.5,139.8 62.85,139.8 63.2,139.8 63.55,139.8 63.9,139.8 64.25,139.8 64.6,139.8 64.95,139.8 65.3,139.8 65.65,139.8 66,139.8 66.35,139.8 66.7,139.8 67.05,139.8 67.4,139.8 67.75,139.8 68.1,139.8 68.45,139.8 68.8,139.8 69.15,139.8 69.5,139.8 69.85,139.8 70.2,139.8 70.55,139.8 70.9,139.8 71.25,139.8 71.6,139.8 71.95,139.8 72.3,139.8 72.65,139.8 73,139.8 73.35,139.8 73.7,139.8 74.05,139.8 74.4,139.8 74.75,139.8 75.1,139.8 75.45,139.8 75.8,139.8 76.15,139.8 76.5,139.8 76.85,139.8 77.2,139.8 77.55,139.8 77.9,139.8 78.25,139.8 78.6,139.8 78.95,139.8 79.3,139.8 79.65,139.8 80,139.8 80.35,139.8 80.7,139.8 81.05,139.8 81.4,139.8 81.75,139.8 82.1,139.8 82.45,139.8 82.8,139.8 83.15,139.8 83.5,139.8 83.85,139.8 84.2,139.8 84.55,139.8 84.9,139.8 85.25,139.8 85.6,139.8 85.95,139.8 86.3,139.8 86.65,139.8 87,139.8 87.35,139.8 87.7,139.8 88.05,139.8 88.4,139.8 88.75,139.8 89.1,139.8 89.45,139.8 89.8,139.8 90.15,139.8 90.5,139.8 90.85,139.8 91.2,139.79 91.55,139.79 91.9,139.79 92.25,139.79 92.6,139.79 92.95,139.79 93.3,139.79 93.65,139.79 94,139.79 94.35,139.79 94.7,139.79 95.05,139.79 95.4,139.79 95.75,139.79 96.1,139.79 96.45,139.79 96.8,139.79 97.15,139.79 97.5,139.79 97.85,139.79 98.2,139.79 98.55,139.79 98.9,139.79 99.25,139.79 99.6,139.79 99.95,139.79 100.3,139.79 100.65,139.79 101,139.79 101.35,139.79 101.7,139.79 102.05,139.79 102.4,139.79 102.75,139.79 103.1,139.79 103.45,139.79 103.8,139.79 104.15,139.79 104.5,139.79 104.85,139.79 105.2,139.79 105.55,139.79 105.9,139.79 106.25,139.79 106.6,139.79 106.95,139.79 107.3,139.79 107.65,139.79 108,139.79 108.35,139.79 108.7,139.79 109.05,139.79 109.4,139.79 109.75,139.79 110.1,139.79 110.45,139.79 110.8,139.79 111.15,139.79 111.5,139.79 111.85,139.79 112.2,139.79 112.55,139.79 112.9,139.79 113.25,139.79 113.6,139.79 113.95,139.79 114.3,139.79 114.65,139.79 115,139.79 115.35,139.78 115.7,139.78 116.05,139.78 116.4,139.78 116.75,139.78 117.1,139.78 117.45,139.78 117.8,139.78 118.15,139.78 118.5,139.78 118.85,139.78 119.2,139.78 119.55,139.78 119.9,139.78 120.25,139.78 120.6,139.78 120.95,139.78 121.3,139.78 121.65,139.78 122,139.78 122.35,139.78 122.7,139.78 123.05,139.78 123.4,139.78 123.75,139.78 124.1,139.78 124.45,139.78 124.8,139.78 125.15,139.78 125.5,139.78 125.85,139.78 126.2,139.78 126.55,139.78 126.9,139.78 127.25,139.78 127.6,139.78 127.95,139.78 128.3,139.78 128.65,139.78 129,139.78 129.35,139.78 129.7,139.78 130.05,139.77 130.4,139.77 130.75,139.77 131.1,139.77 131.45,139.77 131.8,139.77 132.15,139.77 132.5,139.77 132.85,139.77 133.2,139.77 133.55,139.77 133.9,139.77 134.25,139.77 134.6,139.77 134.95,139.77 135.3,139.77 135.65,139.77 136,139.77 136.35,139.77 136.7,139.77 137.05,139.77 137.4,139.77 137.75,139.77 138.1,139.77 138.45,139.77 138.8,139.77 139.15,139.77 139.5,139.77 139.85,139.77 140.2,139.77 140.55,139.77 140.9,139.77 141.25,139.76 141.6,139.76 141.95,139.76 142.3,139.76 142.65,139.76 143,139.76 143.35,139.76 143.7,139.76 144.05,139.76 144.4,139.76 144.75,139.76 145.1,139.76 145.45,139.76 145.8,139.76 146.15,139.76 146.5,139.76 146.85,139.76 147.2,139.76 147.55,139.76 147.9,139.76 148.25,139.76 148.6,139.76 148.95,139.76 149.3,139.76 149.65,139.76 150,139.76 150.35,139.75 150.7,139.75 151.05,139.75 151.4,139.75 151.75,139.75 152.1,139.75 152.45,139.75 152.8,139.75 153.15,139.75 153.5,139.75 153.85,139.75 154.2,139.75 154.55,139.75 154.9,139.75 155.25,139.75 155.6,139.75 155.95,139.75 156.3,139.75 156.65,139.75 157,139.75 157.35,139.75 157.7,139.75 158.05,139.75 158.4,139.74 158.75,139.74 159.1,139.74 159.45,139.74 159.8,139.74 160.15,139.74 160.5,139.74 160.85,139.74 161.2,139.74 161.55,139.74 161.9,139.74 162.25,139.74 162.6,139.74 162.95,139.74 163.3,139.74 163.65,139.74 164,139.74 164.35,139.74 164.7,139.74 165.05,139.74 165.4,139.73 165.75,139.73 166.1,139.73 166.45,139.73 166.8,139.73 167.15,139.73 167.5,139.73 167.85,139.73 168.2,139.73 168.55,139.73 168.9,139.73 169.25,139.73 169.6,139.73 169.95,139.73 170.3,139.73 170.65,139.73 171,139.73 171.35,139.73 171.7,139.72 172.05,139.72 172.4,139.72 172.75,139.72 173.1,139.72 173.45,139.72 173.8,139.72 174.15,139.72 174.5,139.72 174.85,139.72 175.2,139.72 175.55,139.72 175.9,139.72 176.25,139.72 176.6,139.72 176.95,139.72 177.3,139.71 177.65,139.71 178,139.71 178.35,139.71 178.7,139.71 179.05,139.71 179.4,139.71 179.75,139.71 180.1,139.71 180.45,139.71 180.8,139.71 181.15,139.71 181.5,139.71 181.85,139.71 182.2,139.71 182.55,139.7 182.9,139.7 183.25,139.7 183.6,139.7 183.95,139.7 184.3,139.7 184.65,139.7 185,139.7 185.35,139.7 185.7,139.68 186.05,139.67 186.4,139.64 186.75,139.61 187.1,139.56 187.45,139.51 187.8,139.45 188.15,139.38 188.5,139.29 188.85,139.2 189.2,139.1 189.55,138.98 189.9,138.85 190.25,138.71 190.6,138.5 190.95,137.38 191.3,135.53 191.65,133.54 192,132.01 192.35,131.52 192.7,132.36 193.05,133.99 193.4,135.72 193.75,136.86 194.1,136.71 194.45,135.17 194.8,133.03 195.15,131.12 195.5,130.3 195.85,131.06 196.2,132.82 196.55,134.81 196.9,136.23 197.25,136.35 197.6,135.07 197.95,133.2 198.3,131.57 198.65,131.01 199,131.64 199.35,132.92 199.7,134.38 200.05,135.57 200.4,136.08 200.75,136.32 201.1,136.53 201.45,136.71 201.8,136.87 202.15,137.01 202.5,137.13 202.85,137.24 203.2,137.34 203.55,137.43 203.9,137.51 204.25,137.6 204.6,137.69 204.95,137.79 205.3,137.89 205.65,137.99 206,138.1 206.35,138.21 206.7,138.32 207.05,138.43 207.4,138.53 207.75,138.64 208.1,138.74 208.45,138.84 208.8,138.93 209.15,139.02 209.5,139.1 209.85,139.17 210.2,139.23 210.55,139.29 210.9,139.33 211.25,139.37 211.6,139.39 211.95,139.4 212.3,139.4 212.65,139.4 213,139.41 213.35,139.41 213.7,139.41 214.05,139.41 214.4,139.41 214.75,139.41 215.1,139.42 215.45,139.42 215.8,139.42 216.15,139.42 216.5,139.42 216.85,139.42 217.2,139.43 217.55,139.43 217.9,139.43 218.25,139.43 218.6,139.43 218.95,139.43 219.3,139.44 219.65,139.44 220,139.44 220.35,139.44 220.7,139.44 221.05,139.44 221.4,139.44 221.75,139.45 222.1,139.45 222.45,139.45 222.8,139.45 223.15,139.45 223.5,139.45 223.85,139.46 224.2,139.46 224.55,139.46 224.9,139.46 225.25,139.46 225.6,139.46 225.95,139.46 226.3,139.47 226.65,139.47 227,139.47 227.35,139.47 227.7,139.47 228.05,139.47 228.4,139.47 228.75,139.47 229.1,139.48 229.45,139.48 229.8,139.48 230.15,139.48 230.5,139.48 230.85,139.48 231.2,139.48 231.55,139.48 231.9,139.49 232.25,139.49 232.6,139.49 232.95,139.49 233.3,139.49 233.65,139.49 234,139.49 234.35,139.49 234.7,139.5 235.05,139.5 235.4,139.5 235.75,139.5 236.1,139.5 236.45,139.5 236.8,139.5 237.15,139.5 237.5,139.5 237.85,139.51 238.2,139.51 238.55,139.51 238.9,139.51 239.25,139.51 239.6,139.51 239.95,139.51 240.3,139.51 240.65,139.51 241,139.52 241.35,139.52 241.7,139.52 242.05,139.52 242.4,139.52 242.75,139.52 243.1,139.52 243.45,139.52 243.8,139.52 244.15,139.52 244.5,139.53 244.85,139.53 245.2,139.53 245.55,139.53 245.9,139.53 246.25,139.53 246.6,139.53 246.95,139.53 247.3,139.53 247.65,139.53 248,139.53 248.35,139.54 248.7,139.54 249.05,139.54 249.4,139.54 249.75,139.54 250.1,139.54 250.45,139.54 250.8,139.54 251.15,139.54 251.5,139.54 251.85,139.54 252.2,139.54 252.55,139.55 252.9,139.55 253.25,139.55 253.6,139.55 253.95,139.55 254.3,139.55 254.65,139.55 255,139.55 255.35,139.55 255.7,139.55 256.05,139.55 256.4,139.55 256.75,139.55 257.1,139.55 257.45,139.56 257.8,139.56 258.15,139.56 258.5,139.56 258.85,139.56 259.2,139.56 259.55,139.56 259.9,139.56 260.25,139.56 260.6,139.56 260.95,139.56 261.3,139.56 261.65,139.56 262,139.56 262.35,139.56 262.7,139.56 263.05,139.57 263.4,139.57 263.75,139.57 264.1,139.57 264.45,139.57 264.8,139.57 265.15,139.57 265.5,139.57 265.85,139.57 266.2,139.57 266.55,139.57 266.9,139.57 267.25,139.57 267.6,139.57 267.95,139.57 268.3,139.57 268.65,139.57 269,139.57 269.35,139.57 269.7,139.57 270.05,139.58 270.4,139.58 270.75,139.58 271.1,139.58 271.45,139.58 271.8,139.58 272.15,139.58 272.5,139.58 272.85,139.58 273.2,139.58 273.55,139.58 273.9,139.58 274.25,139.58 274.6,139.58 274.95,139.58 275.3,139.58 275.65,139.58 276,139.58 276.35,139.58 276.7,139.58 277.05,139.58 277.4,139.58 277.75,139.58 278.1,139.58 278.45,139.58 278.8,139.59 279.15,139.59 279.5,139.59 279.85,139.59 280.2,139.59 280.55,139.59 280.9,139.59 281.25,139.59 281.6,139.59 281.95,139.59 282.3,139.59 282.65,139.59 283,139.59 283.35,139.59 283.7,139.59 284.05,139.59 284.4,139.59 284.75,139.59 285.1,139.59 285.45,139.59 285.8,139.59 286.15,139.59 286.5,139.59 286.85,139.59 287.2,139.59 287.55,139.59 287.9,139.59 288.25,139.59 288.6,139.59 288.95,139.59 289.3,139.59 289.65,139.59 290,139.59 290.35,139.59 290.7,139.59 291.05,139.59 291.4,139.59 291.75,139.59 292.1,139.59 292.45,139.59 292.8,139.59 293.15,139.59 293.5,139.6 293.85,139.6 294.2,139.6 294.55,139.6 294.9,139.6 295.25,139.6 295.6,139.6 295.95,139.6 296.3,139.6 296.65,139.6 297,139.6 297.35,139.6 297.7,139.6 298.05,139.6 298.4,139.6 298.75,139.6 299.1,139.6 299.45,139.6 299.8,139.6 300.15,139.6 300.5,139.6 300.85,139.6 301.2,139.6 301.55,139.6 301.9,139.6 302.25,139.6 302.6,139.6 302.95,139.6 303.3,139.6 303.65,139.6 304,139.6 304.35,139.6 304.7,139.6 305.05,139.6 305.4,139.6 305.75,139.6 306.1,139.6 306.45,139.6 306.8,139.6 307.15,139.6 307.5,139.6 307.85,139.6 308.2,139.6 308.55,139.6 308.9,139.6 309.25,139.6 309.6,139.6 309.95,139.6 310.3,139.6 310.65,139.6 311,139.6 311.35,139.6 311.7,139.6 312.05,139.6 312.4,139.6 312.75,139.6 313.1,139.6 313.45,139.6 313.8,139.6 314.15,139.6 314.5,139.6 314.85,139.6 315.2,139.6 315.55,139.6 315.9,139.6 316.25,139.6 316.6,139.6 316.95,139.6 317.3,139.6 317.65,139.6 318,139.6 318.35,139.6 318.7,139.6 319.05,139.6 319.4,139.6 319.75,139.6" fill="none" stroke="#e8406a" stroke-width="1" stroke-linejoin="round" />
<polyline points="42.2,139.8 43.2,139.8 44.2,139.8 45.2,139.8 46.2,139.8 47.2,139.8 48.2,139.8 49.2,139.8 50.2,139.8 51.2,139.8 52.2,139.8 53.2,139.8 54.2,139.8 55.2,139.8 56.2,139.8 57.2,139.8 58.2,139.8 59.2,139.8 60.2,139.8 61.2,139.8 62.2,139.8 63.2,139.8 64.2,139.8 65.2,139.8 66.2,139.8 67.2,139.8 68.2,139.8 69.2,139.8 70.2,139.8 71.2,139.8 72.2,139.8 73.2,139.8 74.2,139.8 75.2,139.8 76.2,139.8 77.2,139.8 78.2,139.8 79.2,139.8 80.2,139.8 81.2,139.8 82.2,139.79 83.2,139.79 84.2,139.79 85.2,139.79 86.2,139.79 87.2,139.79 88.2,139.79 89.2,139.79 90.2,139.79 91.2,139.79 92.2,139.79 93.2,139.79 94.2,139.79 95.2,139.79 96.2,139.79 97.2,139.79 98.2,139.79 99.2,139.79 100.2,139.79 101.2,139.79 102.2,139.79 103.2,139.78 104.2,139.78 105.2,139.78 106.2,139.78 107.2,139.78 108.2,139.78 109.2,139.78 110.2,139.78 111.2,139.78 112.2,139.78 113.2,139.78 114.2,139.78 115.2,139.78 116.2,139.77 117.2,139.77 118.2,139.77 119.2,139.77 120.2,139.77 121.2,139.77 122.2,139.77 123.2,139.77 124.2,139.77 125.2,139.77 126.2,139.76 127.2,139.76 128.2,139.76 129.2,139.76 130.2,139.76 131.2,139.76 132.2,139.76 133.2,139.76 134.2,139.75 135.2,139.75 136.2,139.75 137.2,139.75 138.2,139.75 139.2,139.75 140.2,139.75 141.2,139.74 142.2,139.74 143.2,139.74 144.2,139.74 145.2,139.74 146.2,139.74 147.2,139.73 148.2,139.73 149.2,139.73 150.2,139.73 151.2,139.73 152.2,139.73 153.2,139.72 154.2,139.72 155.2,139.72 156.2,139.72 157.2,139.72 158.2,139.71 159.2,139.71 160.2,139.71 161.2,139.71 162.2,139.71 163.2,139.7 164.2,139.7 165.2,139.7 166.2,139.66 167.2,139.56 168.2,139.42 169.2,139.23 170.2,139 171.2,138.74 172.2,138.44 173.2,138.11 174.2,137.76 175.2,137.4 176.2,137.01 177.2,136.62 178.2,136.11 179.2,135.46 180.2,134.7 181.2,133.85 182.2,132.93 183.2,131.97 184.2,130.98 185.2,130 186.2,128.99 187.2,127.91 188.2,126.77 189.2,125.57 190.2,124.31 191.2,123 192.2,121.63 193.2,120.21 194.2,118.65 195.2,116.95 196.2,115.12 197.2,113.13 198.2,110.98 199.2,108.75 200.2,106.51 201.2,104.33 202.2,102.24 203.2,100.15 204.2,98.1 205.2,96.13 206.2,94.25 207.2,92.29 208.2,90.4 209.2,88.81 210.2,87.72 211.2,86.87 212.2,86.11 213.2,85.49 214.2,85.1 215.2,85 216.2,85.09 217.2,85.26 218.2,85.48 219.2,85.68 220.2,85.82 221.2,85.93 222.2,86.03 223.2,86.12 224.2,86.2 225.2,86.28 226.2,86.36 227.2,86.44 228.2,86.53 229.2,86.62 230.2,86.72 231.2,86.84 232.2,86.97 233.2,87.11 234.2,87.26 235.2,87.41 236.2,87.55 237.2,87.69 238.2,87.81 239.2,87.92 240.2,88.02 241.2,88.1 242.2,88.18 243.2,88.26 244.2,88.33 245.2,88.41 246.2,88.48 247.2,88.55 248.2,88.61 249.2,88.68 250.2,88.74 251.2,88.8 252.2,88.86 253.2,88.91 254.2,88.97 255.2,89.02 256.2,89.08 257.2,89.13 258.2,89.18 259.2,89.23 260.2,89.28 261.2,89.33 262.2,89.37 263.2,89.42 264.2,89.47 265.2,89.52 266.2,89.57 267.2,89.61 268.2,89.66 269.2,89.71 270.2,89.76 271.2,89.81 272.2,89.86 273.2,89.91 274.2,89.96 275.2,90.01 276.2,90.06 277.2,90.12 278.2,90.17 279.2,90.22 280.2,90.27 281.2,90.32 282.2,90.38 283.2,90.43 284.2,90.48 285.2,90.53 286.2,90.58 287.2,90.63 288.2,90.68 289.2,90.73 290.2,90.79 291.2,90.84 292.2,90.89 293.2,90.94 294.2,90.99 295.2,91.04 296.2,91.08 297.2,91.13 298.2,91.18 299.2,91.23 300.2,91.28 301.2,91.33 302.2,91.38 303.2,91.42 304.2,91.47 305.2,91.52 306.2,91.57 307.2,91.62 308.2,91.66 309.2,91.71 310.2,91.76 311.2,91.8 312.2,91.85 313.2,91.89 314.2,91.94 315.2,91.98 316.2,92.03 317.2,92.08 318.2,92.12 319.2,92.16" fill="none" stroke="#0000ff" stroke-width="2" stroke-linejoin="round" stroke-dasharray="3.8 1.95"/>
<polyline points="42.2,139.8 43.2,139.8 44.2,139.8 45.2,139.8 46.2,139.8 47.2,139.8 48.2,139.8 49.2,139.8 50.2,139.8 51.2,139.8 52.2,139.8 53.2,139.8 54.2,139.8 55.2,139.8 56.2,139.8 57.2,139.8 58.2,139.8 59.2,139.8 60.2,139.8 61.2,139.8 62.2,139.8 63.2,139.8 64.2,139.8 65.2,139.8 66.2,139.8 67.2,139.8 68.2,139.8 69.2,139.8 70.2,139.8 71.2,139.8 72.2,139.8 73.2,139.8 74.2,139.8 75.2,139.8 76.2,139.8 77.2,139.8 78.2,139.8 79.2,139.8 80.2,139.8 81.2,139.8 82.2,139.8 83.2,139.8 84.2,139.8 85.2,139.79 86.2,139.79 87.2,139.79 88.2,139.79 89.2,139.79 90.2,139.79 91.2,139.79 92.2,139.79 93.2,139.79 94.2,139.79 95.2,139.79 96.2,139.79 97.2,139.79 98.2,139.79 99.2,139.79 100.2,139.79 101.2,139.79 102.2,139.79 103.2,139.79 104.2,139.79 105.2,139.79 106.2,139.79 107.2,139.79 108.2,139.78 109.2,139.78 110.2,139.78 111.2,139.78 112.2,139.78 113.2,139.78 114.2,139.78 115.2,139.78 116.2,139.78 117.2,139.78 118.2,139.78 119.2,139.78 120.2,139.78 121.2,139.78 122.2,139.77 123.2,139.77 124.2,139.77 125.2,139.77 126.2,139.77 127.2,139.77 128.2,139.77 129.2,139.77 130.2,139.77 131.2,139.77 132.2,139.77 133.2,139.76 134.2,139.76 135.2,139.76 136.2,139.76 137.2,139.76 138.2,139.76 139.2,139.76 140.2,139.76 141.2,139.76 142.2,139.75 143.2,139.75 144.2,139.75 145.2,139.75 146.2,139.75 147.2,139.75 148.2,139.75 149.2,139.74 150.2,139.74 151.2,139.74 152.2,139.74 153.2,139.74 154.2,139.74 155.2,139.74 156.2,139.73 157.2,139.73 158.2,139.73 159.2,139.73 160.2,139.73 161.2,139.73 162.2,139.72 163.2,139.72 164.2,139.72 165.2,139.72 166.2,139.72 167.2,139.72 168.2,139.71 169.2,139.71 170.2,139.71 171.2,139.71 172.2,139.71 173.2,139.7 174.2,139.7 175.2,139.7 176.2,139.67 177.2,139.62 178.2,139.54 179.2,139.44 180.2,139.32 181.2,139.19 182.2,139.04 183.2,138.89 184.2,138.73 185.2,138.57 186.2,138.36 187.2,138.11 188.2,137.81 189.2,137.48 190.2,137.14 191.2,136.79 192.2,136.44 193.2,136.11 194.2,135.81 195.2,135.55 196.2,135.27 197.2,134.98 198.2,134.71 199.2,134.49 200.2,134.34 201.2,134.3 202.2,134.4 203.2,134.6 204.2,134.87 205.2,135.2 206.2,135.54 207.2,135.87 208.2,136.29 209.2,136.83 210.2,137.43 211.2,138.03 212.2,138.58 213.2,139.03 214.2,139.32 215.2,139.4 216.2,139.41 217.2,139.41 218.2,139.42 219.2,139.42 220.2,139.43 221.2,139.43 222.2,139.44 223.2,139.44 224.2,139.44 225.2,139.45 226.2,139.45 227.2,139.46 228.2,139.46 229.2,139.47 230.2,139.47 231.2,139.47 232.2,139.48 233.2,139.48 234.2,139.49 235.2,139.49 236.2,139.49 237.2,139.5 238.2,139.5 239.2,139.5 240.2,139.51 241.2,139.51 242.2,139.51 243.2,139.52 244.2,139.52 245.2,139.52 246.2,139.52 247.2,139.53 248.2,139.53 249.2,139.53 250.2,139.53 251.2,139.54 252.2,139.54 253.2,139.54 254.2,139.54 255.2,139.55 256.2,139.55 257.2,139.55 258.2,139.55 259.2,139.55 260.2,139.56 261.2,139.56 262.2,139.56 263.2,139.56 264.2,139.56 265.2,139.57 266.2,139.57 267.2,139.57 268.2,139.57 269.2,139.57 270.2,139.57 271.2,139.57 272.2,139.58 273.2,139.58 274.2,139.58 275.2,139.58 276.2,139.58 277.2,139.58 278.2,139.58 279.2,139.58 280.2,139.59 281.2,139.59 282.2,139.59 283.2,139.59 284.2,139.59 285.2,139.59 286.2,139.59 287.2,139.59 288.2,139.59 289.2,139.59 290.2,139.59 291.2,139.59 292.2,139.59 293.2,139.59 294.2,139.6 295.2,139.6 296.2,139.6 297.2,139.6 298.2,139.6 299.2,139.6 300.2,139.6 301.2,139.6 302.2,139.6 303.2,139.6 304.2,139.6 305.2,139.6 306.2,139.6 307.2,139.6 308.2,139.6 309.2,139.6 310.2,139.6 311.2,139.6 312.2,139.6 313.2,139.6 314.2,139.6 315.2,139.6 316.2,139.6 317.2,139.6 318.2,139.6 319.2,139.6" fill="none" stroke="#ff0000" stroke-width="2" stroke-linejoin="round" stroke-dasharray="3.8 1.95"/>
<polyline points="42.2,73.1 43.2,73.16 44.2,73.21 45.2,73.27 46.2,73.32 47.2,73.38 48.2,73.44 49.2,73.49 50.2,73.55 51.2,73.6 52.2,73.66 53.2,73.72 54.2,73.77 55.2,73.83 56.2,73.88 57.2,73.94 58.2,74 59.2,74.05 60.2,74.11 61.2,74.17 62.2,74.22 63.2,74.28 64.2,74.33 65.2,74.39 66.2,74.44 67.2,74.5 68.2,74.55 69.2,74.61 70.2,74.66 71.2,74.71 72.2,74.77 73.2,74.82 74.2,74.88 75.2,74.93 76.2,74.98 77.2,75.04 78.2,75.09 79.2,75.15 80.2,75.2 81.2,75.26 82.2,75.31 83.2,75.37 84.2,75.42 85.2,75.48 86.2,75.54 87.2,75.6 88.2,75.65 89.2,75.71 90.2,75.77 91.2,75.83 92.2,75.89 93.2,75.96 94.2,76.02 95.2,76.08 96.2,76.15 97.2,76.21 98.2,76.28 99.2,76.35 100.2,76.41 101.2,76.48 102.2,76.56 103.2,76.63 104.2,76.71 105.2,76.78 106.2,76.86 107.2,76.94 108.2,77.02 109.2,77.11 110.2,77.19 111.2,77.28 112.2,77.36 113.2,77.45 114.2,77.54 115.2,77.62 116.2,77.71 117.2,77.8 118.2,77.89 119.2,77.98 120.2,78.07 121.2,78.15 122.2,78.24 123.2,78.33 124.2,78.42 125.2,78.5 126.2,78.59 127.2,78.67 128.2,78.75 129.2,78.84 130.2,78.92 131.2,78.99 132.2,79.07 133.2,79.14 134.2,79.2 135.2,79.27 136.2,79.33 137.2,79.39 138.2,79.44 139.2,79.5 140.2,79.55 141.2,79.61 142.2,79.66 143.2,79.71 144.2,79.77 145.2,79.82 146.2,79.88 147.2,79.94 148.2,80 149.2,80.06 150.2,80.12 151.2,80.19 152.2,80.26 153.2,80.33 154.2,80.41 155.2,80.49 156.2,80.58 157.2,80.67 158.2,80.77 159.2,80.87 160.2,80.98 161.2,81.09 162.2,81.22 163.2,81.35 164.2,81.48 165.2,81.63 166.2,81.83 167.2,82.09 168.2,82.41 169.2,82.78 170.2,83.19 171.2,83.65 172.2,84.13 173.2,84.64 174.2,85.17 175.2,85.71 176.2,86.3 177.2,86.96 178.2,87.68 179.2,88.47 180.2,89.31 181.2,90.2 182.2,91.14 183.2,92.13 184.2,93.15 185.2,94.22 186.2,95.37 187.2,96.62 188.2,97.97 189.2,99.4 190.2,100.91 191.2,102.48 192.2,104.11 193.2,105.79 194.2,107.51 195.2,109.25 196.2,111.07 197.2,113 198.2,115.05 199.2,117.24 200.2,119.6 201.2,122.44 202.2,125.43 203.2,127.95 204.2,130.16 205.2,132.19 206.2,133.89 207.2,135.11 208.2,136.12 209.2,137.03 210.2,137.76 211.2,138.25 212.2,138.41 213.2,138.45 214.2,138.48 215.2,138.51 216.2,138.54 217.2,138.57 218.2,138.59 219.2,138.61 220.2,138.63 221.2,138.64 222.2,138.66 223.2,138.67 224.2,138.68 225.2,138.68 226.2,138.69 227.2,138.7 228.2,138.7 229.2,138.7 230.2,138.7 231.2,138.7 232.2,138.7 233.2,138.7 234.2,138.7 235.2,138.7 236.2,138.7 237.2,138.7 238.2,138.7 239.2,138.7 240.2,138.7 241.2,138.7 242.2,138.7 243.2,138.7 244.2,138.7 245.2,138.7 246.2,138.7 247.2,138.7 248.2,138.7 249.2,138.7 250.2,138.7 251.2,138.7 252.2,138.7 253.2,138.7 254.2,138.7 255.2,138.7 256.2,138.7 257.2,138.7 258.2,138.7 259.2,138.7 260.2,138.7 261.2,138.7 262.2,138.7 263.2,138.7 264.2,138.7 265.2,138.7 266.2,138.7 267.2,138.7 268.2,138.7 269.2,138.7 270.2,138.7 271.2,138.7 272.2,138.7 273.2,138.7 274.2,138.7 275.2,138.7 276.2,138.7 277.2,138.7 278.2,138.7 279.2,138.7 280.2,138.7 281.2,138.7 282.2,138.7 283.2,138.7 284.2,138.7 285.2,138.7 286.2,138.7 287.2,138.7 288.2,138.7 289.2,138.7 290.2,138.7 291.2,138.7 292.2,138.7 293.2,138.7 294.2,138.7 295.2,138.7 296.2,138.7 297.2,138.7 298.2,138.7 299.2,138.7 300.2,138.7 301.2,138.7 302.2,138.7 303.2,138.7 304.2,138.7 305.2,138.7 306.2,138.7 307.2,138.7 308.2,138.7 309.2,138.7 310.2,138.7 311.2,138.7 312.2,138.7 313.2,138.7 314.2,138.7 315.2,138.7 316.2,138.7 317.2,138.7 318.2,138.7 319.2,138.7" fill="none" stroke="#000" stroke-width="2" stroke-linejoin="round" stroke-dasharray="3.8 1.95" stroke-dashoffset="2.2"/>
</g>
<g clip-path="url(#clipB)">
<polyline points="41.6,239.44 41.95,239.44 42.3,240.72 42.65,242.46 43,244.44 43.35,246.63 43.7,249 44.05,251.52 44.4,255.07 44.75,259.47 45.1,263.77 45.45,267.04 45.8,268.34 46.15,266.91 46.5,263.18 46.85,258.01 47.2,252.23 47.55,246.69 47.9,242.24 48.25,239.72 48.6,239.56 48.95,240.24 49.3,241.37 49.65,242.77 50,244.26 50.35,246.55 50.7,249.74 51.05,252.75 51.4,254.47 51.75,254.2 52.1,252.67 52.45,250.45 52.8,248.08 53.15,246.09 53.5,245.01 53.85,245.11 54.2,245.8 54.55,246.82 54.9,247.97 55.25,249.02 55.6,249.76 55.95,250.3 56.3,250.81 56.65,251.27 57,251.62 57.35,251.81 57.7,251.78 58.05,251.47 58.4,250.89 58.75,250.08 59.1,249.07 59.45,247.88 59.8,247.29 60.15,247.86 60.5,248.42 60.85,248.99 61.2,249.56 61.55,250.12 61.9,249.75 62.25,249.21 62.6,248.68 62.95,248.14 63.3,247.61 63.65,247.07 64,247.48 64.35,248.05 64.7,248.61 65.05,249.18 65.4,249.75 65.75,250.31 66.1,249.94 66.45,249.4 66.8,248.87 67.15,248.33 67.5,247.8 67.85,247.27 68.2,247.68 68.55,248.24 68.9,248.81 69.25,249.38 69.6,249.94 69.95,250.51 70.3,250.13 70.65,249.6 71,249.07 71.35,248.53 71.7,248 72.05,247.46 72.4,247.87 72.75,248.44 73.1,249.01 73.45,249.57 73.8,250.14 74.15,250.71 74.5,250.33 74.85,249.8 75.2,249.27 75.55,248.73 75.9,248.2 76.25,247.66 76.6,248.07 76.95,248.64 77.3,249.21 77.65,249.78 78,250.34 78.35,250.91 78.7,250.54 79.05,250 79.4,249.47 79.75,248.94 80.1,248.4 80.45,247.87 80.8,248.28 81.15,248.85 81.5,249.41 81.85,249.98 82.2,250.55 82.55,251.12 82.9,250.74 83.25,250.21 83.6,249.67 83.95,249.14 84.3,248.6 84.65,248.07 85,248.48 85.35,249.05 85.7,249.61 86.05,250.18 86.4,250.74 86.75,251.31 87.1,250.93 87.45,250.4 87.8,249.87 88.15,249.33 88.5,248.8 88.85,248.26 89.2,248.67 89.55,249.24 89.9,249.8 90.25,250.37 90.6,250.94 90.95,251.5 91.3,251.13 91.65,250.59 92,250.06 92.35,249.52 92.7,248.99 93.05,248.46 93.4,248.86 93.75,249.43 94.1,250 94.45,250.57 94.8,251.13 95.15,251.7 95.5,251.32 95.85,250.79 96.2,250.25 96.55,249.72 96.9,249.19 97.25,248.65 97.6,249.06 97.95,249.63 98.3,250.2 98.65,250.77 99,251.33 99.35,251.9 99.7,251.53 100.05,250.99 100.4,250.46 100.75,249.93 101.1,249.4 101.45,248.86 101.8,249.27 102.15,249.84 102.5,250.41 102.85,250.98 103.2,251.55 103.55,252.12 103.9,251.75 104.25,251.51 104.6,251.4 104.95,251.27 105.3,251.13 105.65,250.96 106,251.71 106.35,252.59 106.7,253.43 107.05,254.22 107.4,254.98 107.75,255.68 108.1,255.39 108.45,254.89 108.8,254.35 109.15,253.75 109.5,253.1 109.85,252.4 110.2,252.61 110.55,252.92 110.9,253.2 111.25,253.45 111.6,253.66 111.95,253.85 112.3,253.08 112.65,252.14 113,253.87 113.35,255.09 113.7,256.91 114.05,258.14 114.4,257.68 114.75,255.17 115.1,251.42 115.45,248.11 115.8,247.08 116.15,249.38 116.5,254.63 116.85,260.98 117.2,265.8 117.55,266.88 117.9,263.26 118.25,255.93 118.6,247.68 118.95,242.05 119.3,241.81 119.65,247.52 120,257.03 120.35,266.37 120.7,271.57 121.05,270.25 121.4,262.75 121.75,252.06 122.1,242.59 122.45,238.59 122.8,241.71 123.15,250.24 123.5,260.21 123.85,267.53 124.2,269.75 124.55,266.73 124.9,260.96 125.25,255.55 125.6,252.49 125.95,252.05 126.3,253.62 126.65,256.43 127,259.46 127.35,261.67 127.7,261.9 128.05,259.74 128.4,255.7 128.75,251.22 129.1,248.15 129.45,248.03 129.8,251.26 130.15,256.72 130.5,262.06 130.85,264.84 131.2,262.97 131.55,256.13 131.9,246.37 132.25,237.78 132.6,234.6 132.95,238.89 133.3,248.93 133.65,260.24 134,268.13 134.35,269.21 134.7,262.93 135.05,251.87 135.4,240.76 135.75,234.44 136.1,235.91 136.45,245 136.8,258.23 137.15,270.16 137.5,275.7 137.85,272.38 138.2,261.6 138.55,248.01 138.9,237.39 139.25,234.06 139.6,239.12 139.95,250.13 140.3,262.29 140.65,270.55 141,271.64 141.35,265.24 141.7,254.44 142.05,244.27 142.4,239.06 142.75,240.5 143.1,247.26 143.45,256.14 143.8,263.66 144.15,267.49 144.5,266.8 144.85,262.38 145.2,256.34 145.55,251.19 145.9,248.89 146.25,250.16 146.6,254.26 146.95,259.45 147.3,263.67 147.65,265.43 148,264.37 148.35,261.29 148.7,257.65 149.05,254.92 149.4,254.03 149.75,255.15 150.1,257.73 150.45,261.05 150.8,264.47 151.15,267.08 151.5,267.92 151.85,266.58 152.2,263.68 152.55,260.88 152.9,260.09 153.25,262.32 153.6,267.16 153.95,273.02 154.3,277.96 154.65,280.44 155,279.97 155.35,277.27 155.7,273.89 156.05,271.53 156.4,271.44 156.75,273.93 157.1,278.3 157.45,283.16 157.8,287.06 158.15,289.01 158.5,288.93 158.85,287.54 159.2,286.03 159.55,285.49 159.9,285.98 160.25,286.1 160.6,286.36 160.95,286.76 161.3,287.31 161.65,288.02 162,288.89 162.35,289.91 162.7,291.07 163.05,292.35 163.4,293.79 163.75,295.37 164.1,297.11 164.45,298.98 164.8,300.96 165.15,303.03 165.5,305.16 165.85,307.32 166.2,308.75 166.55,309.61 166.9,310.41 167.25,311.18 167.6,311.9 167.95,312.59 168.3,313.24 168.65,313.85 169,314.44 169.35,314.98 169.7,315.49 170.05,315.95 170.4,316.38 170.75,316.5 171.1,316.49 171.45,316.44 171.8,316.32 172.15,316.03 172.5,315.39 172.85,314.29 173.2,312.62 173.55,310.29 173.9,307.22 174.25,303.4 174.6,298.91 174.95,293.83 175.3,288.32 175.65,282.57 176,276.83 176.35,271.36 176.7,266.39 177.05,262.18 177.4,258.93 177.75,256.83 178.1,256.01 178.45,256.68 178.8,259.07 179.15,263.06 179.5,268.34 179.85,274.6 180.2,281.35 180.55,288.18 180.9,294.69 181.25,300.57 181.6,305.55 181.95,309.5 182.3,311.94 182.65,313.67 183,314.93 183.35,315.7 183.7,316.17 184.05,316.39 184.4,316.48 184.75,316.5 185.1,316.5 185.45,316.5 185.8,316.48 186.15,316.43 186.5,316.33 186.85,316.13 187.2,315.81 187.55,315.34 187.9,314.66 188.25,313.77 188.6,312.65 188.95,311.25 189.3,309.62 189.65,307.72 190,305.59 190.35,303.27 190.7,300.77 191.05,298.17 191.4,295.5 191.75,292.84 192.1,290.25 192.45,287.81 192.8,285.57 193.15,283.59 193.5,281.96 193.85,280.69 194.2,279.81 194.55,279.42 194.9,279.45 195.25,279.97 195.6,280.98 195.95,282.39 196.3,284.24 196.65,286.4 197,288.82 197.35,291.46 197.7,294.2 198.05,296.98 198.4,299.74 198.75,302.39 199.1,304.88 199.45,307.17 199.8,309.2 200.15,310.97 200.5,312.47 200.85,313.66 201.2,314.62 201.55,315.32 201.9,315.82 202.25,316.16 202.6,316.34 202.95,316.45 203.3,316.49 203.65,316.5 204,316.5 204.35,316.5 204.7,316.5 205.05,316.5 205.4,316.5 205.75,316.5 206.1,316.5 206.45,316.5 206.8,316.5 207.15,316.5 207.5,316.5 207.85,316.5 208.2,316.5 208.55,316.5 208.9,316.49 209.25,316.49 209.6,316.49 209.95,316.49 210.3,316.48 210.65,316.48 211,316.48 211.35,316.47 211.7,316.47 212.05,316.46 212.4,316.46 212.75,316.45 213.1,316.44 213.45,316.43 213.8,316.42 214.15,316.42 214.5,316.41 214.85,316.4 215.2,316.38 215.55,316.37 215.9,316.36 216.25,316.35 216.6,316.33 216.95,316.32 217.3,316.3 217.65,316.29 218,316.27 218.35,316.25 218.7,316.24 219.05,316.22 219.4,316.2 219.75,316.18 220.1,316.17 220.45,316.15 220.8,316.13 221.15,316.11 221.5,316.09 221.85,316.07 222.2,316.06 222.55,316.04 222.9,316.02 223.25,316 223.6,315.99 223.95,315.97 224.3,315.95 224.65,315.94 225,315.92 225.35,315.91 225.7,315.9 226.05,315.88 226.4,315.87 226.75,315.86 227.1,315.85 227.45,315.84 227.8,315.83 228.15,315.83 228.5,315.82 228.85,315.82 229.2,315.82 229.55,315.81 229.9,315.81 230.25,315.81 230.6,315.81 230.95,315.81 231.3,315.81 231.65,315.81 232,315.81 232.35,315.81 232.7,315.81 233.05,315.81 233.4,315.81 233.75,315.81 234.1,315.81 234.45,315.81 234.8,315.81 235.15,315.81 235.5,315.8 235.85,315.8 236.2,315.8 236.55,315.8 236.9,315.79 237.25,315.79 237.6,315.78 237.95,315.78 238.3,315.77 238.65,315.77 239,315.76 239.35,315.75 239.7,315.75 240.05,315.74 240.4,315.73 240.75,315.72 241.1,315.71 241.45,315.69 241.8,315.68 242.15,315.67 242.5,315.66 242.85,315.64 243.2,315.63 243.55,315.61 243.9,315.59 244.25,315.58 244.6,315.56 244.95,315.54 245.3,315.52 245.65,315.5 246,315.48 246.35,315.46 246.7,315.44 247.05,315.41 247.4,315.39 247.75,315.37 248.1,315.34 248.45,315.32 248.8,315.3 249.15,315.27 249.5,315.25 249.85,315.22 250.2,315.2 250.55,315.18 250.9,315.15 251.25,315.13 251.6,315.11 251.95,315.08 252.3,315.06 252.65,315.04 253,315.02 253.35,315 253.7,314.98 254.05,314.96 254.4,314.94 254.75,314.92 255.1,314.9 255.45,314.89 255.8,314.87 256.15,314.86 256.5,314.84 256.85,314.83 257.2,314.82 257.55,314.81 257.9,314.8 258.25,314.8 258.6,314.79 258.95,314.79 259.3,314.78 259.65,314.78 260,314.78 260.35,314.78 260.7,314.78 261.05,314.78 261.4,314.78 261.75,314.78 262.1,314.78 262.45,314.78 262.8,314.78 263.15,314.78 263.5,314.78 263.85,314.78 264.2,314.78 264.55,314.78 264.9,314.78 265.25,314.78 265.6,314.78 265.95,314.78 266.3,314.78 266.65,314.78 267,314.78 267.35,314.78 267.7,314.78 268.05,314.78 268.4,314.78 268.75,314.78 269.1,314.78 269.45,314.78 269.8,314.78 270.15,314.78 270.5,314.78 270.85,314.78 271.2,314.78 271.55,314.78 271.9,314.78 272.25,314.78 272.6,314.78 272.95,314.78 273.3,314.78 273.65,314.77 274,314.77 274.35,314.77 274.7,314.77 275.05,314.77 275.4,314.77 275.75,314.77 276.1,314.77 276.45,314.77 276.8,314.77 277.15,314.77 277.5,314.77 277.85,314.77 278.2,314.76 278.55,314.76 278.9,314.76 279.25,314.76 279.6,314.76 279.95,314.76 280.3,314.76 280.65,314.76 281,314.76 281.35,314.75 281.7,314.75 282.05,314.75 282.4,314.75 282.75,314.75 283.1,314.75 283.45,314.74 283.8,314.74 284.15,314.74 284.5,314.74 284.85,314.74 285.2,314.73 285.55,314.73 285.9,314.73 286.25,314.73 286.6,314.73 286.95,314.72 287.3,314.72 287.65,314.72 288,314.72 288.35,314.71 288.7,314.71 289.05,314.71 289.4,314.7 289.75,314.7 290.1,314.7 290.45,314.7 290.8,314.69 291.15,314.69 291.5,314.69 291.85,314.68 292.2,314.68 292.55,314.68 292.9,314.67 293.25,314.67 293.6,314.67 293.95,314.66 294.3,314.66 294.65,314.66 295,314.65 295.35,314.65 295.7,314.65 296.05,314.64 296.4,314.64 296.75,314.64 297.1,314.63 297.45,314.63 297.8,314.63 298.15,314.62 298.5,314.62 298.85,314.61 299.2,314.61 299.55,314.61 299.9,314.6 300.25,314.6 300.6,314.6 300.95,314.59 301.3,314.59 301.65,314.58 302,314.58 302.35,314.58 302.7,314.57 303.05,314.57 303.4,314.56 303.75,314.56 304.1,314.56 304.45,314.55 304.8,314.55 305.15,314.55 305.5,314.54 305.85,314.54 306.2,314.54 306.55,314.53 306.9,314.53 307.25,314.52 307.6,314.52 307.95,314.52 308.3,314.51 308.65,314.51 309,314.51 309.35,314.5 309.7,314.5 310.05,314.5 310.4,314.5 310.75,314.49 311.1,314.49 311.45,314.49 311.8,314.48 312.15,314.48 312.5,314.48 312.85,314.48 313.2,314.47 313.55,314.47 313.9,314.47 314.25,314.47 314.6,314.46 314.95,314.46 315.3,314.46 315.65,314.46 316,314.45 316.35,314.45 316.7,314.45 317.05,314.45 317.4,314.45 317.75,314.45 318.1,314.45 318.45,314.44 318.8,314.44 319.15,314.44 319.5,314.44 319.85,314.44 320.2,314.44 320.55,314.44 320.9,314.44 321.25,314.44 321.6,314.44 321.95,314.44 322.3,314.44 322.65,314.44" fill="none" stroke="#4d4dd6" stroke-width="1.2" stroke-linejoin="round" stroke-opacity="0.85"/>
<polyline points="41.6,316.5 41.95,316.5 42.3,316.5 42.65,316.5 43,316.5 43.35,316.5 43.7,316.5 44.05,316.5 44.4,316.5 44.75,316.5 45.1,316.5 45.45,316.5 45.8,316.5 46.15,316.5 46.5,316.5 46.85,316.5 47.2,316.5 47.55,316.5 47.9,316.5 48.25,316.5 48.6,316.5 48.95,316.5 49.3,316.5 49.65,316.5 50,316.5 50.35,316.5 50.7,316.5 51.05,316.5 51.4,316.5 51.75,316.5 52.1,316.5 52.45,316.5 52.8,316.5 53.15,316.5 53.5,316.5 53.85,316.5 54.2,316.5 54.55,316.5 54.9,316.5 55.25,316.5 55.6,316.5 55.95,316.5 56.3,316.5 56.65,316.5 57,316.5 57.35,316.5 57.7,316.5 58.05,316.5 58.4,316.5 58.75,316.5 59.1,316.5 59.45,316.5 59.8,316.5 60.15,316.5 60.5,316.5 60.85,316.5 61.2,316.5 61.55,316.5 61.9,316.5 62.25,316.5 62.6,316.5 62.95,316.5 63.3,316.5 63.65,316.5 64,316.5 64.35,316.5 64.7,316.5 65.05,316.5 65.4,316.5 65.75,316.5 66.1,316.5 66.45,316.5 66.8,316.5 67.15,316.5 67.5,316.5 67.85,316.5 68.2,316.5 68.55,316.5 68.9,316.5 69.25,316.5 69.6,316.5 69.95,316.5 70.3,316.5 70.65,316.5 71,316.5 71.35,316.5 71.7,316.5 72.05,316.5 72.4,316.5 72.75,316.5 73.1,316.5 73.45,316.5 73.8,316.5 74.15,316.5 74.5,316.5 74.85,316.5 75.2,316.5 75.55,316.5 75.9,316.5 76.25,316.5 76.6,316.5 76.95,316.5 77.3,316.5 77.65,316.5 78,316.5 78.35,316.5 78.7,316.5 79.05,316.5 79.4,316.5 79.75,316.5 80.1,316.5 80.45,316.5 80.8,316.5 81.15,316.5 81.5,316.5 81.85,316.5 82.2,316.5 82.55,316.5 82.9,316.5 83.25,316.5 83.6,316.5 83.95,316.5 84.3,316.5 84.65,316.5 85,316.5 85.35,316.5 85.7,316.5 86.05,316.5 86.4,316.5 86.75,316.5 87.1,316.5 87.45,316.5 87.8,316.5 88.15,316.5 88.5,316.5 88.85,316.5 89.2,316.5 89.55,316.5 89.9,316.5 90.25,316.5 90.6,316.5 90.95,316.5 91.3,316.5 91.65,316.5 92,316.5 92.35,316.5 92.7,316.5 93.05,316.5 93.4,316.5 93.75,316.5 94.1,316.5 94.45,316.5 94.8,316.5 95.15,316.5 95.5,316.5 95.85,316.5 96.2,316.5 96.55,316.5 96.9,316.5 97.25,316.5 97.6,316.5 97.95,316.5 98.3,316.5 98.65,316.5 99,316.5 99.35,316.5 99.7,316.5 100.05,316.5 100.4,316.5 100.75,316.5 101.1,316.5 101.45,316.5 101.8,316.5 102.15,316.5 102.5,316.5 102.85,316.5 103.2,316.5 103.55,316.5 103.9,316.5 104.25,316.5 104.6,316.5 104.95,316.5 105.3,316.5 105.65,316.5 106,316.5 106.35,316.5 106.7,316.5 107.05,316.5 107.4,316.5 107.75,316.5 108.1,316.5 108.45,316.5 108.8,316.5 109.15,316.5 109.5,316.5 109.85,316.5 110.2,316.5 110.55,316.5 110.9,316.5 111.25,316.5 111.6,316.5 111.95,316.5 112.3,316.5 112.65,316.5 113,316.5 113.35,316.5 113.7,316.5 114.05,316.5 114.4,316.5 114.75,316.5 115.1,316.5 115.45,316.5 115.8,316.5 116.15,316.5 116.5,316.5 116.85,316.5 117.2,316.5 117.55,316.5 117.9,316.5 118.25,316.5 118.6,316.5 118.95,316.5 119.3,316.5 119.65,316.5 120,316.5 120.35,316.5 120.7,316.5 121.05,316.5 121.4,316.5 121.75,316.5 122.1,316.5 122.45,316.5 122.8,316.5 123.15,316.5 123.5,316.5 123.85,316.5 124.2,316.5 124.55,316.5 124.9,316.5 125.25,316.5 125.6,316.5 125.95,316.5 126.3,316.5 126.65,316.5 127,316.5 127.35,316.5 127.7,316.5 128.05,316.5 128.4,316.5 128.75,316.5 129.1,316.5 129.45,316.5 129.8,316.5 130.15,316.5 130.5,316.5 130.85,316.5 131.2,316.5 131.55,316.5 131.9,316.5 132.25,316.5 132.6,316.5 132.95,316.5 133.3,316.5 133.65,316.5 134,316.5 134.35,316.5 134.7,316.5 135.05,316.5 135.4,316.5 135.75,316.5 136.1,316.5 136.45,316.5 136.8,316.5 137.15,316.5 137.5,316.5 137.85,316.5 138.2,316.5 138.55,316.5 138.9,316.5 139.25,316.5 139.6,316.5 139.95,316.5 140.3,316.5 140.65,316.5 141,316.5 141.35,316.5 141.7,316.5 142.05,316.5 142.4,316.5 142.75,316.5 143.1,316.48 143.45,316.45 143.8,316.42 144.15,316.37 144.5,316.31 144.85,316.24 145.2,316.16 145.55,316.08 145.9,315.99 146.25,315.89 146.6,315.79 146.95,315.68 147.3,315.57 147.65,315.46 148,315.31 148.35,315.12 148.7,314.9 149.05,314.64 149.4,314.36 149.75,314.05 150.1,313.71 150.45,313.36 150.8,312.98 151.15,312.58 151.5,312.17 151.85,311.74 152.2,311.31 152.55,310.86 152.9,310.39 153.25,309.86 153.6,309.3 153.95,308.69 154.3,308.04 154.65,307.35 155,306.62 155.35,305.86 155.7,305.05 156.05,304.22 156.4,303.34 156.75,302.44 157.1,301.51 157.45,300.54 157.8,299.5 158.15,298.3 158.5,296.99 158.85,295.58 159.2,294.11 159.55,292.61 159.9,291.12 160.25,288.04 160.6,285.01 160.95,283.57 161.3,283.88 161.65,285.18 162,286.09 162.35,285.32 162.7,282.39 163.05,277.92 163.4,273.45 163.75,270.64 164.1,270.39 164.45,272.29 164.8,274.75 165.15,275.85 165.5,274.33 165.85,270.29 166.2,265.22 166.55,261.27 166.9,260.12 167.25,262.06 167.6,265.76 167.95,269 168.3,269.78 168.65,267.41 169,262.83 169.35,258.23 169.7,255.87 170.05,256.88 170.4,260.68 170.75,265.31 171.1,268.69 171.45,269.45 171.8,268.01 172.15,266.16 172.5,266.19 172.85,269.4 173.2,275.37 173.55,282.48 173.9,288.83 174.25,293.35 174.6,296.15 174.95,298.16 175.3,300.34 175.65,303.16 176,306.38 176.35,309.43 176.7,311.88 177.05,313.55 177.4,314.61 177.75,315.31 178.1,315.79 178.45,316.14 178.8,316.36 179.15,316.46 179.5,316.5 179.85,316.5 180.2,316.5 180.55,316.49 180.9,316.45 181.25,316.32 181.6,316.01 181.95,315.5 182.3,314.79 182.65,313.89 183,312.8 183.35,311.16 183.7,308.71 184.05,305.17 184.4,300.76 184.75,296.25 185.1,292.42 185.45,289.8 185.8,287.89 186.15,285.39 186.5,280.99 186.85,274.36 187.2,266.61 187.55,260.02 187.9,256.75 188.25,257.42 188.6,260.92 188.95,264.54 189.3,266.15 189.65,265.17 190,262.92 190.35,262.01 190.7,264.3 191.05,270.1 191.4,278.02 191.75,285.83 192.1,291.97 192.45,296.11 192.8,299.01 193.15,301.62 193.5,304.62 193.85,307.85 194.2,310.81 194.55,313.14 194.9,314.64 195.25,315.53 195.6,316.04 195.95,316.3 196.3,316.44 196.65,316.49 197,316.5 197.35,316.5 197.7,316.49 198.05,316.44 198.4,316.33 198.75,316.05 199.1,315.53 199.45,314.64 199.8,313.4 200.15,311.98 200.5,310.46 200.85,308.87 201.2,306.85 201.55,303.82 201.9,299.49 202.25,294.13 202.6,288.69 202.95,284.46 203.3,282.15 203.65,281.41 204,280.77 204.35,278.68 204.7,274.37 205.05,268.68 205.4,263.8 205.75,261.76 206.1,263.51 206.45,268.13 206.8,273.45 207.15,277.45 207.5,279.12 207.85,279.18 208.2,279.3 208.55,281.04 208.9,284.95 209.25,290.37 209.6,295.97 209.95,300.59 210.3,303.82 210.65,305.93 211,307.59 211.35,309.29 211.7,311.09 212.05,312.85 212.4,314.26 212.75,315.24 213.1,315.85 213.45,316.17 213.8,316.35 214.15,316.45 214.5,316.49 214.85,316.5 215.2,316.5 215.55,316.5 215.9,316.47 216.25,316.39 216.6,316.22 216.95,315.83 217.3,315.14 217.65,314.13 218,312.8 218.35,311.38 218.7,309.92 219.05,308.19 219.4,305.76 219.75,302.11 220.1,297.23 220.45,291.79 220.8,286.93 221.15,283.72 221.5,282.3 221.85,281.67 222.2,280.17 222.55,276.59 222.9,271.03 223.25,265.09 223.6,261.2 223.95,260.89 224.3,264.01 224.65,268.67 225,272.55 225.35,274.01 225.7,272.82 226.05,270.3 226.4,268.54 226.75,269.16 227.1,272.6 227.45,277.81 227.8,283.04 228.15,286.76 228.5,288.43 228.85,288.65 229.2,288.7 229.55,289.75 229.9,292.27 230.25,295.88 230.6,299.68 230.95,302.82 231.3,304.9 231.65,306.09 232,306.89 232.35,307.79 232.7,309.04 233.05,310.55 233.4,312.05 233.75,313.31 234.1,314.19 234.45,314.77 234.8,315.16 235.15,315.48 235.5,315.78 235.85,316.03 236.2,316.23 236.55,316.37 236.9,316.44 237.25,316.48 237.6,316.49 237.95,316.5 238.3,316.5 238.65,316.5 239,316.5 239.35,316.26 239.7,316.02 240.05,315.78 240.4,315.54 240.75,315.3 241.1,315.06 241.45,314.81 241.8,314.57 242.15,314.33 242.5,314.09 242.85,313.85 243.2,313.61 243.55,313.37 243.9,313.13 244.25,312.89 244.6,312.65 244.95,312.41 245.3,312.17 245.65,311.92 246,311.68 246.35,311.38 246.7,311.08 247.05,310.78 247.4,310.48 247.75,310.18 248.1,309.88 248.45,309.58 248.8,309.28 249.15,308.97 249.5,308.67 249.85,308.37 250.2,308.16 250.55,308.02 250.9,307.87 251.25,307.73 251.6,307.58 251.95,307.44 252.3,307.29 252.65,307.15 253,307.01 253.35,306.86 253.7,306.72 254.05,306.57 254.4,306.43 254.75,306.28 255.1,306.18 255.45,306.19 255.8,306.19 256.15,306.19 256.5,306.2 256.85,306.2 257.2,306.21 257.55,306.21 257.9,306.21 258.25,306.22 258.6,306.22 258.95,306.23 259.3,306.23 259.65,306.23 260,306.24 260.35,306.24 260.7,306.25 261.05,306.25 261.4,306.25 261.75,306.26 262.1,306.26 262.45,306.27 262.8,306.27 263.15,306.27 263.5,306.28 263.85,306.28 264.2,306.29 264.55,306.29 264.9,306.29 265.25,306.3 265.6,306.3 265.95,306.31 266.3,306.31 266.65,306.31 267,306.32 267.35,306.32 267.7,306.33 268.05,306.33 268.4,306.33 268.75,306.34 269.1,306.34 269.45,306.35 269.8,306.35 270.15,306.35 270.5,306.36 270.85,306.36 271.2,306.37 271.55,306.37 271.9,306.37 272.25,306.38 272.6,306.38 272.95,306.39 273.3,306.39 273.65,306.39 274,306.4 274.35,306.4 274.7,306.41 275.05,306.41 275.4,306.41 275.75,306.42 276.1,306.42 276.45,306.43 276.8,306.43 277.15,306.43 277.5,306.44 277.85,306.44 278.2,306.45 278.55,306.45 278.9,306.45 279.25,306.46 279.6,306.46 279.95,306.47 280.3,306.47 280.65,306.47 281,306.48 281.35,306.48 281.7,306.49 282.05,306.49 282.4,306.49 282.75,306.5 283.1,306.5 283.45,306.51 283.8,306.51 284.15,306.51 284.5,306.52 284.85,306.52 285.2,306.53 285.55,306.54 285.9,306.55 286.25,306.56 286.6,306.57 286.95,306.58 287.3,306.59 287.65,306.6 288,306.61 288.35,306.62 288.7,306.62 289.05,306.63 289.4,306.64 289.75,306.65 290.1,306.66 290.45,306.67 290.8,306.68 291.15,306.69 291.5,306.7 291.85,306.71 292.2,306.72 292.55,306.73 292.9,306.74 293.25,306.75 293.6,306.76 293.95,306.77 294.3,306.78 294.65,306.79 295,306.8 295.35,306.81 295.7,306.82 296.05,306.82 296.4,306.83 296.75,306.84 297.1,306.85 297.45,306.86 297.8,306.87 298.15,306.88 298.5,306.89 298.85,306.9 299.2,306.91 299.55,306.92 299.9,306.93 300.25,306.94 300.6,306.95 300.95,306.96 301.3,306.97 301.65,306.98 302,306.99 302.35,307 302.7,307.01 303.05,307.02 303.4,307.03 303.75,307.03 304.1,307.04 304.45,307.05 304.8,307.06 305.15,307.07 305.5,307.08 305.85,307.09 306.2,307.1 306.55,307.11 306.9,307.12 307.25,307.13 307.6,307.14 307.95,307.15 308.3,307.16 308.65,307.17 309,307.18 309.35,307.19 309.7,307.2 310.05,307.21 310.4,307.22 310.75,307.23 311.1,307.23 311.45,307.24 311.8,307.25 312.15,307.26 312.5,307.27 312.85,307.28 313.2,307.29 313.55,307.3 313.9,307.31 314.25,307.32 314.6,307.33 314.95,307.34 315.3,307.35 315.65,307.36 316,307.37 316.35,307.38 316.7,307.39 317.05,307.4 317.4,307.41 317.75,307.42 318.1,307.43 318.45,307.43 318.8,307.44 319.15,307.45 319.5,307.46 319.85,307.47 320.2,307.48 320.55,307.49 320.9,307.5 321.25,307.51 321.6,307.52 321.95,307.53 322.3,307.54 322.65,307.55" fill="none" stroke="#e8406a" stroke-width="1" stroke-linejoin="round" />
<polyline points="41.6,316.5 41.95,316.5 42.3,316.5 42.65,316.5 43,316.5 43.35,316.5 43.7,316.5 44.05,316.5 44.4,316.5 44.75,316.5 45.1,316.5 45.45,316.5 45.8,316.5 46.15,316.5 46.5,316.5 46.85,316.5 47.2,316.5 47.55,316.5 47.9,316.5 48.25,316.5 48.6,316.5 48.95,316.5 49.3,316.5 49.65,316.5 50,316.5 50.35,316.5 50.7,316.5 51.05,316.5 51.4,316.5 51.75,316.5 52.1,316.5 52.45,316.5 52.8,316.5 53.15,316.5 53.5,316.5 53.85,316.5 54.2,316.5 54.55,316.5 54.9,316.5 55.25,316.5 55.6,316.5 55.95,316.5 56.3,316.5 56.65,316.5 57,316.5 57.35,316.5 57.7,316.5 58.05,316.5 58.4,316.5 58.75,316.5 59.1,316.5 59.45,316.5 59.8,316.5 60.15,316.5 60.5,316.5 60.85,316.5 61.2,316.5 61.55,316.5 61.9,316.5 62.25,316.5 62.6,316.5 62.95,316.5 63.3,316.5 63.65,316.5 64,316.5 64.35,316.5 64.7,316.5 65.05,316.5 65.4,316.5 65.75,316.5 66.1,316.5 66.45,316.5 66.8,316.5 67.15,316.5 67.5,316.5 67.85,316.5 68.2,316.5 68.55,316.5 68.9,316.5 69.25,316.5 69.6,316.5 69.95,316.5 70.3,316.5 70.65,316.5 71,316.5 71.35,316.5 71.7,316.5 72.05,316.5 72.4,316.5 72.75,316.5 73.1,316.5 73.45,316.5 73.8,316.5 74.15,316.5 74.5,316.5 74.85,316.5 75.2,316.5 75.55,316.5 75.9,316.5 76.25,316.5 76.6,316.5 76.95,316.5 77.3,316.5 77.65,316.5 78,316.5 78.35,316.5 78.7,316.5 79.05,316.5 79.4,316.5 79.75,316.5 80.1,316.5 80.45,316.5 80.8,316.5 81.15,316.5 81.5,316.5 81.85,316.5 82.2,316.5 82.55,316.5 82.9,316.5 83.25,316.5 83.6,316.5 83.95,316.5 84.3,316.5 84.65,316.5 85,316.5 85.35,316.5 85.7,316.5 86.05,316.5 86.4,316.5 86.75,316.5 87.1,316.5 87.45,316.5 87.8,316.5 88.15,316.5 88.5,316.5 88.85,316.5 89.2,316.5 89.55,316.5 89.9,316.5 90.25,316.5 90.6,316.5 90.95,316.5 91.3,316.5 91.65,316.5 92,316.5 92.35,316.5 92.7,316.5 93.05,316.5 93.4,316.5 93.75,316.5 94.1,316.5 94.45,316.5 94.8,316.5 95.15,316.5 95.5,316.5 95.85,316.5 96.2,316.5 96.55,316.5 96.9,316.5 97.25,316.5 97.6,316.5 97.95,316.5 98.3,316.5 98.65,316.5 99,316.5 99.35,316.5 99.7,316.5 100.05,316.5 100.4,316.5 100.75,316.5 101.1,316.5 101.45,316.5 101.8,316.5 102.15,316.5 102.5,316.5 102.85,316.5 103.2,316.5 103.55,316.5 103.9,316.5 104.25,316.5 104.6,316.5 104.95,316.5 105.3,316.5 105.65,316.5 106,316.5 106.35,316.5 106.7,316.5 107.05,316.5 107.4,316.5 107.75,316.5 108.1,316.5 108.45,316.5 108.8,316.5 109.15,316.5 109.5,316.5 109.85,316.5 110.2,316.5 110.55,316.5 110.9,316.5 111.25,316.5 111.6,316.5 111.95,316.5 112.3,316.5 112.65,316.5 113,316.5 113.35,316.5 113.7,316.5 114.05,316.5 114.4,316.5 114.75,316.5 115.1,316.5 115.45,316.5 115.8,316.5 116.15,316.5 116.5,316.5 116.85,316.5 117.2,316.5 117.55,316.5 117.9,316.5 118.25,316.5 118.6,316.5 118.95,316.5 119.3,316.5 119.65,316.5 120,316.5 120.35,316.5 120.7,316.5 121.05,316.5 121.4,316.5 121.75,316.5 122.1,316.5 122.45,316.5 122.8,316.5 123.15,316.5 123.5,316.5 123.85,316.5 124.2,316.5 124.55,316.5 124.9,316.5 125.25,316.5 125.6,316.5 125.95,316.5 126.3,316.5 126.65,316.5 127,316.5 127.35,316.5 127.7,316.5 128.05,316.5 128.4,316.5 128.75,316.5 129.1,316.5 129.45,316.5 129.8,316.5 130.15,316.5 130.5,316.5 130.85,316.5 131.2,316.5 131.55,316.5 131.9,316.5 132.25,316.5 132.6,316.5 132.95,316.5 133.3,316.5 133.65,316.5 134,316.5 134.35,316.5 134.7,316.5 135.05,316.5 135.4,316.5 135.75,316.5 136.1,316.5 136.45,316.5 136.8,316.5 137.15,316.5 137.5,316.5 137.85,316.5 138.2,316.5 138.55,316.5 138.9,316.5 139.25,316.5 139.6,316.5 139.95,316.5 140.3,316.5 140.65,316.5 141,316.5 141.35,316.5 141.7,316.5 142.05,316.5 142.4,316.5 142.75,316.5 143.1,316.5 143.45,316.5 143.8,316.5 144.15,316.5 144.5,316.5 144.85,316.5 145.2,316.5 145.55,316.5 145.9,316.5 146.25,316.5 146.6,316.5 146.95,316.5 147.3,316.5 147.65,316.5 148,316.5 148.35,316.5 148.7,316.5 149.05,316.5 149.4,316.5 149.75,316.5 150.1,316.5 150.45,316.5 150.8,316.5 151.15,316.5 151.5,316.5 151.85,316.5 152.2,316.5 152.55,316.5 152.9,316.5 153.25,316.5 153.6,316.5 153.95,316.5 154.3,316.5 154.65,316.5 155,316.5 155.35,316.5 155.7,316.5 156.05,316.5 156.4,316.5 156.75,316.5 157.1,316.5 157.45,316.5 157.8,316.5 158.15,316.5 158.5,316.5 158.85,316.5 159.2,316.5 159.55,316.5 159.9,316.5 160.25,316.5 160.6,316.5 160.95,316.5 161.3,316.5 161.65,316.5 162,316.5 162.35,316.5 162.7,316.5 163.05,316.5 163.4,316.5 163.75,316.5 164.1,316.5 164.45,316.5 164.8,316.5 165.15,316.5 165.5,316.5 165.85,316.5 166.2,316.5 166.55,316.5 166.9,316.5 167.25,316.5 167.6,316.5 167.95,316.5 168.3,316.5 168.65,316.5 169,316.5 169.35,316.5 169.7,316.5 170.05,316.5 170.4,316.5 170.75,316.5 171.1,316.5 171.45,316.5 171.8,316.5 172.15,316.5 172.5,316.5 172.85,316.5 173.2,316.5 173.55,316.5 173.9,316.5 174.25,316.5 174.6,316.5 174.95,316.5 175.3,316.5 175.65,316.5 176,316.5 176.35,316.5 176.7,316.5 177.05,316.5 177.4,316.5 177.75,316.48 178.1,316.44 178.45,316.35 178.8,316.23 179.15,316.04 179.5,315.81 179.85,315.54 180.2,315.25 180.55,314.97 180.9,314.73 181.25,314.55 181.6,314.46 181.95,314.45 182.3,314.51 182.65,314.65 183,314.84 183.35,315.05 183.7,315.25 184.05,315.44 184.4,315.59 184.75,315.7 185.1,315.77 185.45,315.8 185.8,315.81 186.15,315.81 186.5,315.81 186.85,315.81 187.2,315.79 187.55,315.75 187.9,315.65 188.25,315.49 188.6,315.23 188.95,314.84 189.3,314.33 189.65,313.64 190,312.81 190.35,311.8 190.7,310.63 191.05,309.33 191.4,307.89 191.75,306.36 192.1,304.78 192.45,303.18 192.8,301.61 193.15,300.13 193.5,298.76 193.85,297.57 194.2,296.59 194.55,295.84 194.9,295.38 195.25,295.19 195.6,295.29 195.95,295.67 196.3,296.3 196.65,297.2 197,298.29 197.35,299.57 197.7,300.98 198.05,302.47 198.4,304.02 198.75,305.56 199.1,307.05 199.45,308.47 199.8,309.78 200.15,310.94 200.5,311.96 200.85,312.82 201.2,313.51 201.55,314.07 201.9,314.46 202.25,314.75 202.6,314.93 202.95,315.04 203.3,315.1 203.65,315.12 204,315.12 204.35,315.12 204.7,315.12 205.05,315.1 205.4,315.02 205.75,314.84 206.1,314.51 206.45,313.94 206.8,313.11 207.15,311.92 207.5,310.35 207.85,308.39 208.2,305.95 208.55,303.12 208.9,299.87 209.25,296.26 209.6,292.38 209.95,288.27 210.3,284.06 210.65,279.87 211,275.8 211.35,271.97 211.7,268.53 212.05,265.56 212.4,263.14 212.75,261.43 213.1,260.39 213.45,260.13 213.8,260.67 214.15,261.95 214.5,264.05 214.85,266.79 215.2,270.09 215.55,273.9 215.9,278.03 216.25,282.37 216.6,286.79 216.95,291.16 217.3,295.35 217.65,299.27 218,302.86 218.35,306 218.7,308.71 219.05,310.95 219.4,312.73 219.75,314.11 220.1,315.07 220.45,315.74 220.8,316.15 221.15,316.36 221.5,316.46 221.85,316.5 222.2,316.5 222.55,316.4 222.9,315.98 223.25,315.31 223.6,314.44 223.95,313.44 224.3,312.37 224.65,310.97 225,309.03 225.35,306.68 225.7,304.08 226.05,301.37 226.4,298.69 226.75,296.19 227.1,293.81 227.45,291.3 227.8,288.74 228.15,286.2 228.5,283.75 228.85,281.48 229.2,279.45 229.55,277.75 229.9,276.21 230.25,266.56 230.6,266.03 230.95,265.53 231.3,265.09 231.65,264.68 232,264.31 232.35,263.99 232.7,263.7 233.05,263.45 233.4,263.02 233.75,262.45 234.1,262.18 234.45,262.57 234.8,263.55 235.15,264.61 235.5,265.09 235.85,264.47 236.2,262.87 236.55,261.04 236.9,260.12 237.25,261.02 237.6,263.84 237.95,267.53 238.3,270.32 238.65,270.67 239,268.22 239.35,264.19 239.7,260.65 240.05,259.5 240.4,261.51 240.75,265.88 241.1,270.58 241.45,273.36 241.8,272.83 242.15,269.19 242.5,264.2 242.85,260.33 243.2,259.58 243.55,262.48 243.9,267.76 244.25,272.98 244.6,275.65 244.95,274.51 245.3,270.13 245.65,264.67 246,260.86 246.35,260.67 246.7,264.37 247.05,270.36 247.4,275.91 247.75,278.42 248.1,276.64 248.45,271.35 248.8,265.1 249.15,261.02 249.5,261.34 249.85,266.19 250.2,273.43 250.55,279.64 250.9,281.76 251.25,278.68 251.6,271.8 251.95,264.41 252.3,260.12 252.65,261.15 253,267.25 253.35,275.8 253.7,283.13 254.05,285.43 254.4,280.69 254.75,270.64 255.1,260.55 255.45,256.01 255.8,259.22 256.15,267.91 256.5,277.21 256.85,282.6 257.2,282.17 257.55,277 257.9,269.91 258.25,263.97 258.6,261.76 258.95,264.21 259.3,270.06 259.65,276.49 260,280.43 260.35,280.06 260.7,275.66 261.05,269.48 261.4,264.6 261.75,263.35 262.1,266.18 262.45,271.52 262.8,276.71 263.15,279.34 263.5,278.37 263.85,274.53 264.2,269.8 264.55,266.45 264.9,266 265.25,268.49 265.6,272.59 265.95,276.29 266.3,277.9 266.65,276.81 267,273.72 267.35,270.2 267.7,267.92 268.05,267.89 268.4,270.01 268.75,273.19 269.1,275.91 269.45,276.92 269.8,275.81 270.15,273.18 270.5,270.35 270.85,268.66 271.2,268.88 271.55,270.85 271.9,273.54 272.25,275.64 272.6,276.18 272.95,274.99 273.3,272.78 273.65,270.72 274,269.81 274.35,270.35 274.7,271.83 275.05,273.35 275.4,274.13 275.75,273.97 276.1,273.26 276.45,272.64 276.8,272.52 277.15,272.68 277.5,272.68 277.85,272.69 278.2,272.69 278.55,272.7 278.9,272.7 279.25,272.71 279.6,272.72 279.95,272.72 280.3,272.73 280.65,272.73 281,272.74 281.35,272.74 281.7,272.75 282.05,272.75 282.4,272.76 282.75,272.76 283.1,272.77 283.45,272.78 283.8,272.78 284.15,272.79 284.5,272.79 284.85,272.8 285.2,272.8 285.55,272.81 285.9,272.81 286.25,272.82 286.6,272.82 286.95,272.83 287.3,272.83 287.65,272.84 288,272.84 288.35,272.85 288.7,272.85 289.05,272.86 289.4,272.86 289.75,272.87 290.1,272.87 290.45,272.88 290.8,272.88 291.15,272.89 291.5,272.89 291.85,272.9 292.2,272.9 292.55,272.91 292.9,272.91 293.25,272.92 293.6,272.92 293.95,272.93 294.3,272.93 294.65,272.94 295,272.94 295.35,272.95 295.7,272.95 296.05,272.96 296.4,272.96 296.75,272.97 297.1,272.97 297.45,272.97 297.8,272.98 298.15,272.98 298.5,272.99 298.85,272.99 299.2,273 299.55,273 299.9,273 300.25,273.01 300.6,273.01 300.95,273.02 301.3,273.02 301.65,273.02 302,273.03 302.35,273.03 302.7,273.04 303.05,273.04 303.4,273.04 303.75,273.05 304.1,273.05 304.45,273.05 304.8,273.06 305.15,273.06 305.5,273.06 305.85,273.07 306.2,273.07 306.55,273.07 306.9,273.08 307.25,273.08 307.6,273.08 307.95,273.09 308.3,273.09 308.65,273.09 309,273.1 309.35,273.1 309.7,273.1 310.05,273.1 310.4,273.11 310.75,273.11 311.1,273.11 311.45,273.11 311.8,273.12 312.15,273.12 312.5,273.12 312.85,273.12 313.2,273.13 313.55,273.13 313.9,273.13 314.25,273.13 314.6,273.13 314.95,273.14 315.3,273.14 315.65,273.14 316,273.14 316.35,273.14 316.7,273.14 317.05,273.14 317.4,273.15 317.75,273.15 318.1,273.15 318.45,273.15 318.8,273.15 319.15,273.15 319.5,273.15 319.85,273.15 320.2,273.15 320.55,273.15 320.9,273.15 321.25,273.15 321.6,273.16 321.95,273.16 322.3,273.16 322.65,273.16" fill="none" stroke="#54547c" stroke-width="1.2" stroke-linejoin="round" stroke-opacity="0.85"/>
<polyline points="41.6,247.7 42.1,247.72 42.6,247.74 43.1,247.76 43.6,247.78 44.1,247.8 44.6,247.82 45.1,247.84 45.6,247.86 46.1,247.88 46.6,247.9 47.1,247.92 47.6,247.94 48.1,247.97 48.6,247.99 49.1,248.01 49.6,248.03 50.1,248.05 50.6,248.07 51.1,248.09 51.6,248.11 52.1,248.13 52.6,248.16 53.1,248.18 53.6,248.2 54.1,248.22 54.6,248.24 55.1,248.26 55.6,248.29 56.1,248.31 56.6,248.33 57.1,248.35 57.6,248.37 58.1,248.4 58.6,248.42 59.1,248.44 59.6,248.46 60.1,248.48 60.6,248.51 61.1,248.53 61.6,248.55 62.1,248.57 62.6,248.6 63.1,248.62 63.6,248.64 64.1,248.67 64.6,248.69 65.1,248.71 65.6,248.73 66.1,248.76 66.6,248.78 67.1,248.8 67.6,248.83 68.1,248.85 68.6,248.87 69.1,248.9 69.6,248.92 70.1,248.94 70.6,248.97 71.1,248.99 71.6,249.01 72.1,249.04 72.6,249.06 73.1,249.09 73.6,249.11 74.1,249.13 74.6,249.16 75.1,249.18 75.6,249.21 76.1,249.23 76.6,249.25 77.1,249.28 77.6,249.3 78.1,249.33 78.6,249.35 79.1,249.38 79.6,249.4 80.1,249.42 80.6,249.45 81.1,249.47 81.6,249.5 82.1,249.52 82.6,249.55 83.1,249.57 83.6,249.59 84.1,249.62 84.6,249.64 85.1,249.66 85.6,249.69 86.1,249.71 86.6,249.73 87.1,249.76 87.6,249.78 88.1,249.8 88.6,249.82 89.1,249.85 89.6,249.87 90.1,249.89 90.6,249.92 91.1,249.94 91.6,249.96 92.1,249.98 92.6,250.01 93.1,250.03 93.6,250.05 94.1,250.08 94.6,250.1 95.1,250.12 95.6,250.15 96.1,250.17 96.6,250.2 97.1,250.22 97.6,250.24 98.1,250.27 98.6,250.29 99.1,250.32 99.6,250.34 100.1,250.37 100.6,250.39 101.1,250.42 101.6,250.44 102.1,250.47 102.6,250.5 103.1,250.52 103.6,250.55 104.1,250.58 104.6,250.6 105.1,250.63 105.6,250.66 106.1,250.69 106.6,250.72 107.1,250.75 107.6,250.78 108.1,250.8 108.6,250.84 109.1,250.87 109.6,250.9 110.1,250.93 110.6,250.96 111.1,250.99 111.6,251.02 112.1,251.06 112.6,251.09 113.1,251.12 113.6,251.16 114.1,251.19 114.6,251.23 115.1,251.27 115.6,251.3 116.1,251.34 116.6,251.38 117.1,251.41 117.6,251.45 118.1,251.49 118.6,251.53 119.1,251.57 119.6,251.62 120.1,251.66 120.6,251.71 121.1,251.75 121.6,251.8 122.1,251.85 122.6,251.9 123.1,251.96 123.6,252.01 124.1,252.07 124.6,252.12 125.1,252.18 125.6,252.24 126.1,252.31 126.6,252.37 127.1,252.44 127.6,252.51 128.1,252.58 128.6,252.65 129.1,252.72 129.6,252.8 130.1,252.88 130.6,252.95 131.1,253.04 131.6,253.12 132.1,253.2 132.6,253.29 133.1,253.38 133.6,253.47 134.1,253.57 134.6,253.68 135.1,253.79 135.6,253.9 136.1,254.02 136.6,254.15 137.1,254.29 137.6,254.44 138.1,254.59 138.6,254.75 139.1,254.93 139.6,255.11 140.1,255.31 140.6,255.55 141.1,255.85 141.6,256.2 142.1,256.59 142.6,257.02 143.1,257.48 143.6,257.97 144.1,258.47 144.6,258.98 145.1,259.5 145.6,260.03 146.1,260.59 146.6,261.18 147.1,261.81 147.6,262.47 148.1,263.17 148.6,263.92 149.1,264.71 149.6,265.56 150.1,266.46 150.6,267.48 151.1,268.63 151.6,269.88 152.1,271.24 152.6,272.66 153.1,274.15 153.6,275.68 154.1,277.24 154.6,278.79 155.1,280.35 155.6,281.95 156.1,283.62 156.6,285.35 157.1,287.12 157.6,288.91 158.1,290.72 158.6,292.6 159.1,294.53 159.6,296.44 160.1,298.29 160.6,300.14 161.1,302.01 161.6,303.83 162.1,305.56 162.6,307.13 163.1,308.5 163.6,309.72 164.1,310.86 164.6,311.9 165.1,312.87 165.6,313.77 166.1,314.6 166.6,315.35 167.1,316.02 167.6,316.5 168.1,316.49 168.6,316.4 169.1,316.12 169.6,315.48 170.1,314.3 170.6,312.44 171.1,309.75 171.6,306.19 172.1,301.75 172.6,296.52 173.1,290.66 173.6,284.42 174.1,278.08 174.6,272 175.1,266.49 175.6,261.9 176.1,258.5 176.6,256.5 177.1,256.07 177.6,257.6 178.1,261.18 178.6,266.51 179.1,273.11 179.6,280.45 180.1,287.95 180.6,295.09 181.1,301.43 181.6,306.67 182.1,310.67 182.6,313.46 183.1,315.17 183.6,316.06 184.1,316.41 184.6,316.49 185.1,316.5 185.6,316.49 186.1,316.45 186.6,316.28 187.1,315.92 187.6,315.25 188.1,314.19 188.6,312.65 189.1,310.59 189.6,308.02 190.1,304.96 190.6,301.51 191.1,297.79 191.6,293.98 192.1,290.25 192.6,286.82 193.1,283.86 193.6,281.55 194.1,280.04 194.6,279.4 195.1,279.7 195.6,280.98 196.1,283.15 196.6,286.07 197.1,289.56 197.6,293.41 198.1,297.38 198.6,301.27 199.1,304.88 199.6,308.06 200.1,310.73 200.6,312.83 201.1,314.37 201.6,315.4 202.1,316.03 202.6,316.34 203.1,316.47 203.6,316.5 204.1,316.5 204.6,316.5 205.1,316.5 205.6,316.5 206.1,316.5 206.6,316.5 207.1,316.5 207.6,316.5 208.1,316.5 208.6,316.49 209.1,316.49 209.6,316.49 210.1,316.49 210.6,316.48 211.1,316.48 211.6,316.47 212.1,316.46 212.6,316.45 213.1,316.44 213.6,316.43 214.1,316.42 214.6,316.4 215.1,316.39 215.6,316.37 216.1,316.35 216.6,316.33 217.1,316.31 217.6,316.29 218.1,316.27 218.6,316.24 219.1,316.22 219.6,316.19 220.1,316.17 220.6,316.14 221.1,316.11 221.6,316.09 222.1,316.06 222.6,316.04 223.1,316.01 223.6,315.99 224.1,315.96 224.6,315.94 225.1,315.92 225.6,315.9 226.1,315.88 226.6,315.87 227.1,315.85 227.6,315.84 228.1,315.83 228.6,315.82 229.1,315.82 229.6,315.81 230.1,315.81 230.6,315.81 231.1,315.81 231.6,315.81 232.1,315.81 232.6,315.81 233.1,315.81 233.6,315.81 234.1,315.81 234.6,315.81 235.1,315.81 235.6,315.8 236.1,315.8 236.6,315.8 237.1,315.79 237.6,315.78 238.1,315.78 238.6,315.77 239.1,315.76 239.6,315.75 240.1,315.74 240.6,315.72 241.1,315.71 241.6,315.69 242.1,315.67 242.6,315.65 243.1,315.63 243.6,315.61 244.1,315.58 244.6,315.56 245.1,315.53 245.6,315.5 246.1,315.47 246.6,315.44 247.1,315.41 247.6,315.38 248.1,315.34 248.6,315.31 249.1,315.28 249.6,315.24 250.1,315.21 250.6,315.17 251.1,315.14 251.6,315.11 252.1,315.07 252.6,315.04 253.1,315.01 253.6,314.98 254.1,314.95 254.6,314.93 255.1,314.9 255.6,314.88 256.1,314.86 256.6,314.84 257.1,314.82 257.6,314.81 258.1,314.8 258.6,314.79 259.1,314.78 259.6,314.78 260.1,314.78 260.6,314.78 261.1,314.78 261.6,314.78 262.1,314.78 262.6,314.78 263.1,314.78 263.6,314.78 264.1,314.78 264.6,314.78 265.1,314.78 265.6,314.78 266.1,314.78 266.6,314.78 267.1,314.78 267.6,314.78 268.1,314.78 268.6,314.78 269.1,314.78 269.6,314.78 270.1,314.78 270.6,314.78 271.1,314.78 271.6,314.78 272.1,314.78 272.6,314.78 273.1,314.78 273.6,314.77 274.1,314.77 274.6,314.77 275.1,314.77 275.6,314.77 276.1,314.77 276.6,314.77 277.1,314.77 277.6,314.77 278.1,314.77 278.6,314.76 279.1,314.76 279.6,314.76 280.1,314.76 280.6,314.76 281.1,314.75 281.6,314.75 282.1,314.75 282.6,314.75 283.1,314.75 283.6,314.74 284.1,314.74 284.6,314.74 285.1,314.73 285.6,314.73 286.1,314.73 286.6,314.73 287.1,314.72 287.6,314.72 288.1,314.71 288.6,314.71 289.1,314.71 289.6,314.7 290.1,314.7 290.6,314.7 291.1,314.69 291.6,314.69 292.1,314.68 292.6,314.68 293.1,314.67 293.6,314.67 294.1,314.66 294.6,314.66 295.1,314.65 295.6,314.65 296.1,314.64 296.6,314.64 297.1,314.63 297.6,314.63 298.1,314.62 298.6,314.62 299.1,314.61 299.6,314.61 300.1,314.6 300.6,314.6 301.1,314.59 301.6,314.58 302.1,314.58 302.6,314.57 303.1,314.57 303.6,314.56 304.1,314.56 304.6,314.55 305.1,314.55 305.6,314.54 306.1,314.54 306.6,314.53 307.1,314.53 307.6,314.52 308.1,314.52 308.6,314.51 309.1,314.51 309.6,314.5 310.1,314.5 310.6,314.49 311.1,314.49 311.6,314.48 312.1,314.48 312.6,314.48 313.1,314.47 313.6,314.47 314.1,314.47 314.6,314.46 315.1,314.46 315.6,314.46 316.1,314.45 316.6,314.45 317.1,314.45 317.6,314.45 318.1,314.45 318.6,314.44 319.1,314.44 319.6,314.44 320.1,314.44 320.6,314.44 321.1,314.44 321.6,314.44 322.1,314.44 322.6,314.44" fill="none" stroke="#0000ff" stroke-width="2" stroke-linejoin="round" stroke-dasharray="3.8 1.95"/>
<polyline points="41.6,316.5 42.1,316.5 42.6,316.5 43.1,316.5 43.6,316.5 44.1,316.5 44.6,316.5 45.1,316.5 45.6,316.5 46.1,316.5 46.6,316.5 47.1,316.5 47.6,316.5 48.1,316.5 48.6,316.5 49.1,316.5 49.6,316.5 50.1,316.5 50.6,316.5 51.1,316.5 51.6,316.5 52.1,316.5 52.6,316.5 53.1,316.5 53.6,316.5 54.1,316.5 54.6,316.5 55.1,316.5 55.6,316.5 56.1,316.5 56.6,316.5 57.1,316.5 57.6,316.5 58.1,316.5 58.6,316.5 59.1,316.5 59.6,316.5 60.1,316.5 60.6,316.5 61.1,316.5 61.6,316.5 62.1,316.5 62.6,316.5 63.1,316.5 63.6,316.5 64.1,316.5 64.6,316.5 65.1,316.5 65.6,316.5 66.1,316.5 66.6,316.5 67.1,316.5 67.6,316.5 68.1,316.5 68.6,316.5 69.1,316.5 69.6,316.5 70.1,316.5 70.6,316.5 71.1,316.5 71.6,316.5 72.1,316.5 72.6,316.5 73.1,316.5 73.6,316.5 74.1,316.5 74.6,316.5 75.1,316.5 75.6,316.5 76.1,316.5 76.6,316.5 77.1,316.5 77.6,316.5 78.1,316.5 78.6,316.5 79.1,316.5 79.6,316.5 80.1,316.5 80.6,316.5 81.1,316.5 81.6,316.5 82.1,316.5 82.6,316.5 83.1,316.5 83.6,316.5 84.1,316.5 84.6,316.5 85.1,316.5 85.6,316.5 86.1,316.5 86.6,316.5 87.1,316.5 87.6,316.5 88.1,316.5 88.6,316.5 89.1,316.5 89.6,316.5 90.1,316.5 90.6,316.5 91.1,316.5 91.6,316.5 92.1,316.5 92.6,316.5 93.1,316.5 93.6,316.5 94.1,316.5 94.6,316.5 95.1,316.5 95.6,316.5 96.1,316.5 96.6,316.5 97.1,316.5 97.6,316.5 98.1,316.5 98.6,316.5 99.1,316.5 99.6,316.5 100.1,316.5 100.6,316.5 101.1,316.5 101.6,316.5 102.1,316.5 102.6,316.5 103.1,316.5 103.6,316.5 104.1,316.5 104.6,316.5 105.1,316.5 105.6,316.5 106.1,316.5 106.6,316.5 107.1,316.5 107.6,316.5 108.1,316.5 108.6,316.5 109.1,316.5 109.6,316.5 110.1,316.5 110.6,316.5 111.1,316.5 111.6,316.5 112.1,316.5 112.6,316.5 113.1,316.5 113.6,316.5 114.1,316.5 114.6,316.5 115.1,316.5 115.6,316.5 116.1,316.5 116.6,316.5 117.1,316.5 117.6,316.5 118.1,316.5 118.6,316.5 119.1,316.5 119.6,316.5 120.1,316.5 120.6,316.5 121.1,316.5 121.6,316.5 122.1,316.5 122.6,316.5 123.1,316.5 123.6,316.5 124.1,316.5 124.6,316.5 125.1,316.5 125.6,316.5 126.1,316.5 126.6,316.5 127.1,316.5 127.6,316.5 128.1,316.5 128.6,316.5 129.1,316.5 129.6,316.5 130.1,316.5 130.6,316.5 131.1,316.5 131.6,316.5 132.1,316.5 132.6,316.5 133.1,316.5 133.6,316.5 134.1,316.5 134.6,316.5 135.1,316.5 135.6,316.5 136.1,316.5 136.6,316.5 137.1,316.5 137.6,316.5 138.1,316.5 138.6,316.5 139.1,316.5 139.6,316.5 140.1,316.5 140.6,316.48 141.1,316.43 141.6,316.36 142.1,316.27 142.6,316.15 143.1,316.02 143.6,315.87 144.1,315.71 144.6,315.54 145.1,315.36 145.6,315.12 146.1,314.79 146.6,314.39 147.1,313.93 147.6,313.4 148.1,312.83 148.6,312.21 149.1,311.55 149.6,310.87 150.1,310.16 150.6,309.38 151.1,308.5 151.6,307.52 152.1,306.45 152.6,305.29 153.1,304.04 153.6,302.72 154.1,301.31 154.6,299.84 155.1,298.29 155.6,296.48 156.1,294.38 156.6,292.09 157.1,289.72 157.6,287.36 158.1,285.1 158.6,282.85 159.1,280.59 159.6,278.35 160.1,276.16 160.6,273.94 161.1,271.68 161.6,269.46 162.1,267.37 162.6,265.5 163.1,263.92 163.6,262.46 164.1,261.06 164.6,259.78 165.1,258.68 165.6,257.82 166.1,257.24 166.6,256.78 167.1,256.38 167.6,256.09 168.1,255.96 168.6,256.53 169.1,258.61 169.6,262.15 170.1,266.92 170.6,272.61 171.1,278.87 171.6,285.34 172.1,291.67 172.6,297.56 173.1,302.75 173.6,307.09 174.1,310.51 174.6,313.03 175.1,314.72 175.6,315.73 176.1,316.25 176.6,316.45 177.1,316.5 177.6,316.5 178.1,316.49 178.6,316.37 179.1,316.01 179.6,315.18 180.1,313.69 180.6,311.33 181.1,307.97 181.6,303.57 182.1,298.18 182.6,291.94 183.1,285.11 183.6,278.05 184.1,271.14 184.6,264.82 185.1,259.48 185.6,255.51 186.1,253.16 186.6,252.63 187.1,254.21 187.6,257.91 188.1,263.41 188.6,270.25 189.1,277.89 189.6,285.73 190.1,293.24 190.6,299.96 191.1,305.57 191.6,309.9 192.1,312.97 192.6,314.9 193.1,315.94 193.6,316.38 194.1,316.49 194.6,316.5 195.1,316.49 195.6,316.42 196.1,316.13 196.6,315.45 197.1,314.16 197.6,312.09 198.1,309.12 198.6,305.2 199.1,300.38 199.6,294.82 200.1,288.77 200.6,282.56 201.1,276.58 201.6,271.22 202.1,266.86 202.6,263.82 203.1,262.32 203.6,262.44 204.1,264.03 204.6,266.96 205.1,271.04 205.6,276.01 206.1,281.56 206.6,287.37 207.1,293.11 207.6,298.49 208.1,303.3 208.6,307.36 209.1,310.6 209.6,313.01 210.1,314.66 210.6,315.68 211.1,316.22 211.6,316.44 212.1,316.5 212.6,316.5 213.1,316.49 213.6,316.42 214.1,316.15 214.6,315.51 215.1,314.29 215.6,312.32 216.1,309.48 216.6,305.71 217.1,301.04 217.6,295.61 218.1,289.63 218.6,283.41 219.1,277.31 219.6,271.71 220.1,266.97 220.6,263.44 221.1,261.35 221.6,260.8 222.1,261.24 222.6,262.28 223.1,263.9 223.6,266.05 224.1,268.68 224.6,271.72 225.1,275.08 225.6,278.69 226.1,282.45 226.6,286.28 227.1,290.09 227.6,293.8 228.1,297.33 228.6,300.62 229.1,303.63 229.6,306.32 230.1,308.67 230.6,310.66 231.1,312.3 231.6,313.6 232.1,314.61 232.6,315.34 233.1,315.85 233.6,316.18 234.1,316.36 234.6,316.46 235.1,316.49 235.6,316.5 236.1,316.5 236.6,316.48 237.1,316.44 237.6,316.39 238.1,316.31 238.6,316.23 239.1,316.13 239.6,315.96 240.1,315.67 240.6,315.29 241.1,314.84 241.6,314.32 242.1,313.75 242.6,313.15 243.1,312.54 243.6,311.92 244.1,311.32 244.6,310.74 245.1,310.2 245.6,309.66 246.1,309.08 246.6,308.49 247.1,307.88 247.6,307.28 248.1,306.7 248.6,306.14 249.1,305.62 249.6,305.14 250.1,304.72 250.6,304.33 251.1,303.95 251.6,303.58 252.1,303.22 252.6,302.89 253.1,302.58 253.6,302.3 254.1,302.05 254.6,301.84 255.1,301.68 255.6,301.53 256.1,301.38 256.6,301.24 257.1,301.11 257.6,300.98 258.1,300.87 258.6,300.76 259.1,300.66 259.6,300.57 260.1,300.5 260.6,300.44 261.1,300.39 261.6,300.35 262.1,300.33 262.6,300.31 263.1,300.3 263.6,300.28 264.1,300.27 264.6,300.25 265.1,300.24 265.6,300.23 266.1,300.21 266.6,300.2 267.1,300.19 267.6,300.18 268.1,300.16 268.6,300.15 269.1,300.14 269.6,300.13 270.1,300.12 270.6,300.11 271.1,300.1 271.6,300.1 272.1,300.09 272.6,300.08 273.1,300.07 273.6,300.06 274.1,300.06 274.6,300.05 275.1,300.04 275.6,300.04 276.1,300.03 276.6,300.03 277.1,300.02 277.6,300.02 278.1,300.01 278.6,300.01 279.1,300.01 279.6,300 280.1,300 280.6,300 281.1,300 281.6,299.99 282.1,299.99 282.6,299.99 283.1,299.99 283.6,299.99 284.1,299.99 284.6,299.99 285.1,299.99 285.6,299.99 286.1,299.99 286.6,299.99 287.1,299.99 287.6,299.99 288.1,299.99 288.6,299.99 289.1,300 289.6,300 290.1,300 290.6,300 291.1,300 291.6,300.01 292.1,300.01 292.6,300.01 293.1,300.02 293.6,300.02 294.1,300.02 294.6,300.03 295.1,300.03 295.6,300.04 296.1,300.04 296.6,300.05 297.1,300.05 297.6,300.06 298.1,300.06 298.6,300.07 299.1,300.08 299.6,300.08 300.1,300.09 300.6,300.1 301.1,300.1 301.6,300.11 302.1,300.12 302.6,300.13 303.1,300.13 303.6,300.14 304.1,300.15 304.6,300.16 305.1,300.17 305.6,300.18 306.1,300.19 306.6,300.2 307.1,300.21 307.6,300.22 308.1,300.23 308.6,300.24 309.1,300.25 309.6,300.26 310.1,300.28 310.6,300.29 311.1,300.3 311.6,300.31 312.1,300.33 312.6,300.34 313.1,300.35 313.6,300.37 314.1,300.38 314.6,300.4 315.1,300.41 315.6,300.42 316.1,300.44 316.6,300.46 317.1,300.47 317.6,300.49 318.1,300.5 318.6,300.52 319.1,300.54 319.6,300.55 320.1,300.57 320.6,300.59 321.1,300.61 321.6,300.63 322.1,300.65 322.6,300.66" fill="none" stroke="#ff0000" stroke-width="2" stroke-linejoin="round" stroke-dasharray="3.8 1.95"/>
<polyline points="41.6,316.5 42.1,316.5 42.6,316.5 43.1,316.5 43.6,316.5 44.1,316.5 44.6,316.5 45.1,316.5 45.6,316.5 46.1,316.5 46.6,316.5 47.1,316.5 47.6,316.5 48.1,316.5 48.6,316.5 49.1,316.5 49.6,316.5 50.1,316.5 50.6,316.5 51.1,316.5 51.6,316.5 52.1,316.5 52.6,316.5 53.1,316.5 53.6,316.5 54.1,316.5 54.6,316.5 55.1,316.5 55.6,316.5 56.1,316.5 56.6,316.5 57.1,316.5 57.6,316.5 58.1,316.5 58.6,316.5 59.1,316.5 59.6,316.5 60.1,316.5 60.6,316.5 61.1,316.5 61.6,316.5 62.1,316.5 62.6,316.5 63.1,316.5 63.6,316.5 64.1,316.5 64.6,316.5 65.1,316.5 65.6,316.5 66.1,316.5 66.6,316.5 67.1,316.5 67.6,316.5 68.1,316.5 68.6,316.5 69.1,316.5 69.6,316.5 70.1,316.5 70.6,316.5 71.1,316.5 71.6,316.5 72.1,316.5 72.6,316.5 73.1,316.5 73.6,316.5 74.1,316.5 74.6,316.5 75.1,316.5 75.6,316.5 76.1,316.5 76.6,316.5 77.1,316.5 77.6,316.5 78.1,316.5 78.6,316.5 79.1,316.5 79.6,316.5 80.1,316.5 80.6,316.5 81.1,316.5 81.6,316.5 82.1,316.5 82.6,316.5 83.1,316.5 83.6,316.5 84.1,316.5 84.6,316.5 85.1,316.5 85.6,316.5 86.1,316.5 86.6,316.5 87.1,316.5 87.6,316.5 88.1,316.5 88.6,316.5 89.1,316.5 89.6,316.5 90.1,316.5 90.6,316.5 91.1,316.5 91.6,316.5 92.1,316.5 92.6,316.5 93.1,316.5 93.6,316.5 94.1,316.5 94.6,316.5 95.1,316.5 95.6,316.5 96.1,316.5 96.6,316.5 97.1,316.5 97.6,316.5 98.1,316.5 98.6,316.5 99.1,316.5 99.6,316.5 100.1,316.5 100.6,316.5 101.1,316.5 101.6,316.5 102.1,316.5 102.6,316.5 103.1,316.5 103.6,316.5 104.1,316.5 104.6,316.5 105.1,316.5 105.6,316.5 106.1,316.5 106.6,316.5 107.1,316.5 107.6,316.5 108.1,316.5 108.6,316.5 109.1,316.5 109.6,316.5 110.1,316.5 110.6,316.5 111.1,316.5 111.6,316.5 112.1,316.5 112.6,316.5 113.1,316.5 113.6,316.5 114.1,316.5 114.6,316.5 115.1,316.5 115.6,316.5 116.1,316.5 116.6,316.5 117.1,316.5 117.6,316.5 118.1,316.5 118.6,316.5 119.1,316.5 119.6,316.5 120.1,316.5 120.6,316.5 121.1,316.5 121.6,316.5 122.1,316.5 122.6,316.5 123.1,316.5 123.6,316.5 124.1,316.5 124.6,316.5 125.1,316.5 125.6,316.5 126.1,316.5 126.6,316.5 127.1,316.5 127.6,316.5 128.1,316.5 128.6,316.5 129.1,316.5 129.6,316.5 130.1,316.5 130.6,316.5 131.1,316.5 131.6,316.5 132.1,316.5 132.6,316.5 133.1,316.5 133.6,316.5 134.1,316.5 134.6,316.5 135.1,316.5 135.6,316.5 136.1,316.5 136.6,316.5 137.1,316.5 137.6,316.5 138.1,316.5 138.6,316.5 139.1,316.5 139.6,316.5 140.1,316.5 140.6,316.5 141.1,316.5 141.6,316.5 142.1,316.5 142.6,316.5 143.1,316.5 143.6,316.5 144.1,316.5 144.6,316.5 145.1,316.5 145.6,316.5 146.1,316.5 146.6,316.5 147.1,316.5 147.6,316.5 148.1,316.5 148.6,316.5 149.1,316.5 149.6,316.5 150.1,316.5 150.6,316.5 151.1,316.5 151.6,316.5 152.1,316.5 152.6,316.5 153.1,316.5 153.6,316.5 154.1,316.5 154.6,316.5 155.1,316.5 155.6,316.5 156.1,316.5 156.6,316.5 157.1,316.5 157.6,316.5 158.1,316.5 158.6,316.5 159.1,316.5 159.6,316.5 160.1,316.5 160.6,316.5 161.1,316.5 161.6,316.5 162.1,316.5 162.6,316.5 163.1,316.5 163.6,316.5 164.1,316.5 164.6,316.5 165.1,316.5 165.6,316.5 166.1,316.5 166.6,316.5 167.1,316.5 167.6,316.5 168.1,316.5 168.6,316.5 169.1,316.5 169.6,316.5 170.1,316.5 170.6,316.5 171.1,316.5 171.6,316.5 172.1,316.5 172.6,316.5 173.1,316.5 173.6,316.5 174.1,316.5 174.6,316.5 175.1,316.5 175.6,316.5 176.1,316.5 176.6,316.5 177.1,316.46 177.6,316.37 178.1,316.18 178.6,315.88 179.1,315.5 179.6,315.09 180.1,314.73 180.6,314.5 181.1,314.44 181.6,314.55 182.1,314.78 182.6,315.08 183.1,315.36 183.6,315.59 184.1,315.73 184.6,315.79 185.1,315.81 185.6,315.81 186.1,315.81 186.6,315.77 187.1,315.65 187.6,315.39 188.1,314.9 188.6,314.14 189.1,313.06 189.6,311.64 190.1,309.9 190.6,307.89 191.1,305.69 191.6,303.41 192.1,301.18 192.6,299.14 193.1,297.42 193.6,296.14 194.1,295.38 194.6,295.2 195.1,295.6 195.6,296.54 196.1,297.96 196.6,299.77 197.1,301.83 197.6,304.02 198.1,306.2 198.6,308.27 199.1,310.12 199.6,311.68 200.1,312.92 200.6,313.84 201.1,314.46 201.6,314.84 202.1,315.03 202.6,315.11 203.1,315.12 203.6,315.12 204.1,315.11 204.6,315.02 205.1,314.72 205.6,314.04 206.1,312.8 206.6,310.84 207.1,308.06 207.6,304.39 208.1,299.87 208.6,294.63 209.1,288.87 209.6,282.86 210.1,276.94 210.6,271.45 211.1,266.75 211.6,263.14 212.1,260.86 212.6,260.08 213.1,260.92 213.6,263.35 214.1,267.21 214.6,272.22 215.1,278.03 215.6,284.26 216.1,290.54 216.6,296.5 217.1,301.86 217.6,306.41 218.1,310.04 218.6,312.73 219.1,314.55 219.6,315.66 220.1,316.22 220.6,316.44 221.1,316.5 221.6,316.48 222.1,315.98 222.6,314.96 223.1,313.59 223.6,312.04 224.1,309.63 224.6,306.32 225.1,302.54 225.6,298.69 226.1,295.19 226.6,291.67 227.1,288.01 227.6,284.44 228.1,281.17 228.6,278.44 229.1,276.21 229.6,274.14 230.1,272.22 230.6,270.5 231.1,269 231.6,267.76 232.1,266.79 232.6,265.93 233.1,265.11 233.6,264.33 234.1,263.61 234.6,262.96 235.1,262.42 235.6,261.98 236.1,261.66 236.6,261.49 237.1,261.47 237.6,261.57 238.1,261.78 238.6,262.06 239.1,262.41 239.6,262.8 240.1,263.21 240.6,263.63 241.1,264.04 241.6,264.42 242.1,264.81 242.6,265.23 243.1,265.67 243.6,266.12 244.1,266.59 244.6,267.07 245.1,267.55 245.6,268.03 246.1,268.5 246.6,268.96 247.1,269.41 247.6,269.83 248.1,270.26 248.6,270.69 249.1,271.12 249.6,271.54 250.1,271.96 250.6,272.37 251.1,272.77 251.6,273.17 252.1,273.54 252.6,273.91 253.1,274.26 253.6,274.6 254.1,274.93 254.6,275.26 255.1,275.58 255.6,275.9 256.1,276.2 256.6,276.5 257.1,276.78 257.6,277.05 258.1,277.3 258.6,277.54 259.1,277.76 259.6,277.98 260.1,278.19 260.6,278.39 261.1,278.59 261.6,278.78 262.1,278.95 262.6,279.12 263.1,279.28 263.6,279.43 264.1,279.57 264.6,279.69 265.1,279.81 265.6,279.92 266.1,280.03 266.6,280.13 267.1,280.23 267.6,280.32 268.1,280.39 268.6,280.46 269.1,280.51 269.6,280.55 270.1,280.59 270.6,280.63 271.1,280.66 271.6,280.7 272.1,280.73 272.6,280.76 273.1,280.79 273.6,280.82 274.1,280.84 274.6,280.87 275.1,280.89 275.6,280.91 276.1,280.93 276.6,280.96 277.1,280.98 277.6,281 278.1,281.01 278.6,281.03 279.1,281.05 279.6,281.07 280.1,281.09 280.6,281.1 281.1,281.12 281.6,281.14 282.1,281.16 282.6,281.18 283.1,281.2 283.6,281.22 284.1,281.24 284.6,281.26 285.1,281.28 285.6,281.3 286.1,281.32 286.6,281.34 287.1,281.37 287.6,281.39 288.1,281.41 288.6,281.43 289.1,281.45 289.6,281.48 290.1,281.5 290.6,281.52 291.1,281.54 291.6,281.56 292.1,281.58 292.6,281.61 293.1,281.63 293.6,281.65 294.1,281.67 294.6,281.69 295.1,281.71 295.6,281.73 296.1,281.75 296.6,281.77 297.1,281.8 297.6,281.82 298.1,281.84 298.6,281.86 299.1,281.88 299.6,281.9 300.1,281.92 300.6,281.94 301.1,281.96 301.6,281.98 302.1,282 302.6,282.02 303.1,282.04 303.6,282.06 304.1,282.08 304.6,282.1 305.1,282.12 305.6,282.14 306.1,282.16 306.6,282.18 307.1,282.2 307.6,282.22 308.1,282.24 308.6,282.26 309.1,282.28 309.6,282.3 310.1,282.32 310.6,282.34 311.1,282.36 311.6,282.38 312.1,282.4 312.6,282.42 313.1,282.43 313.6,282.45 314.1,282.47 314.6,282.49 315.1,282.51 315.6,282.53 316.1,282.55 316.6,282.56 317.1,282.58 317.6,282.6 318.1,282.62 318.6,282.64 319.1,282.65 319.6,282.67 320.1,282.69 320.6,282.71 321.1,282.73 321.6,282.74 322.1,282.76 322.6,282.78" fill="none" stroke="#000" stroke-width="2" stroke-linejoin="round" stroke-dasharray="3.8 1.95" stroke-dashoffset="2.2"/>
</g></svg></body></html>
